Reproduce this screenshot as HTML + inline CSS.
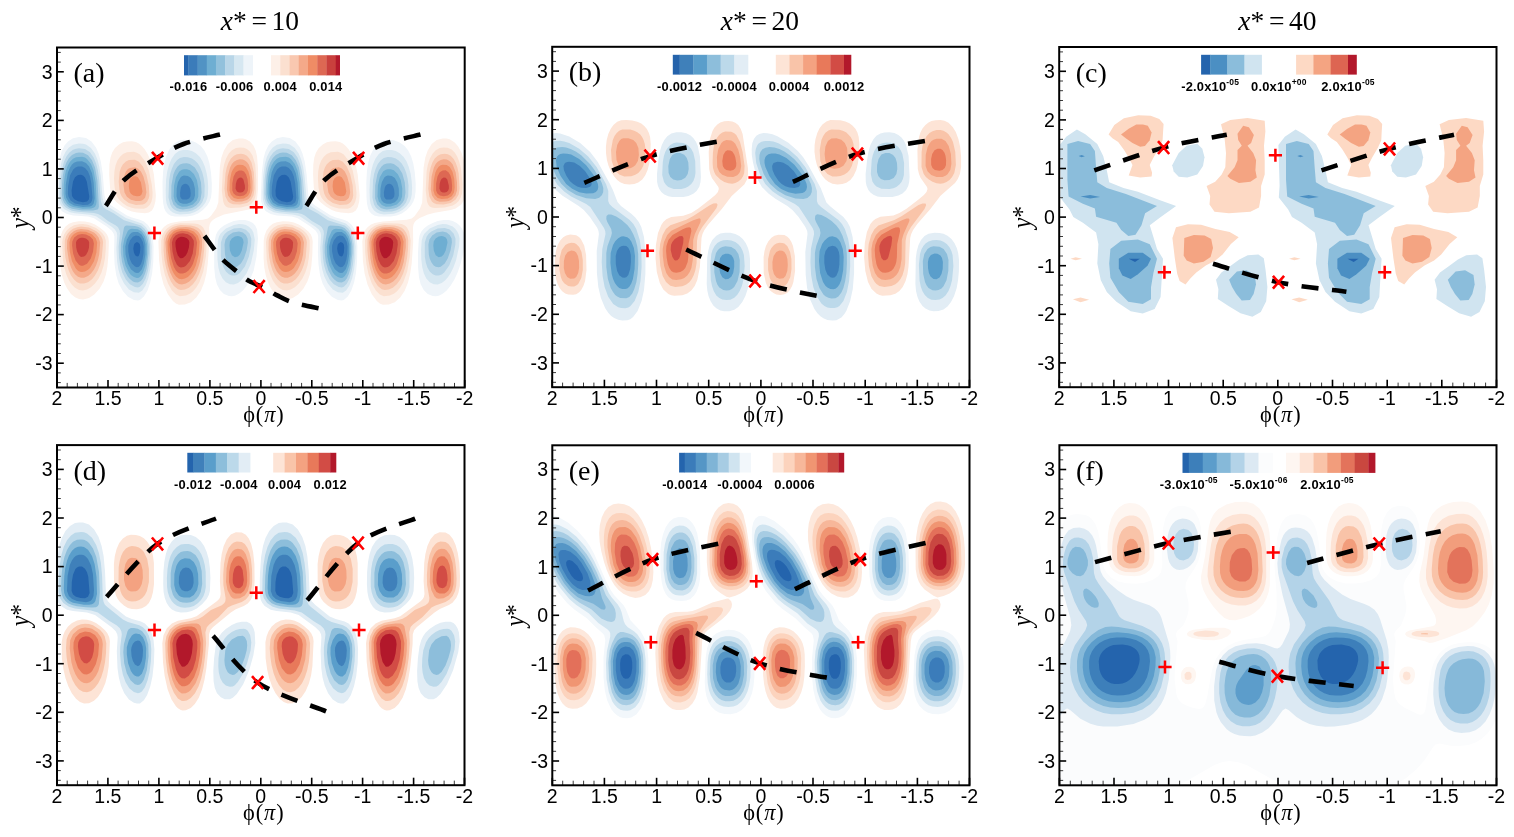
<!DOCTYPE html><html><head><meta charset="utf-8"><title>Contour panels</title><style>html,body{margin:0;padding:0;background:#fff;width:1514px;height:837px;overflow:hidden}svg{display:block}.tl{font-family:"Liberation Sans",Arial,sans-serif;font-size:19.5px;fill:#000}.cb{font-family:"Liberation Sans",Arial,sans-serif;font-size:12.9px;font-weight:bold;fill:#000;letter-spacing:0.2px}.sup{font-size:8.5px}.yl{font-family:"Liberation Serif","Times New Roman",serif;font-size:28px;fill:#000}.xl{font-family:"Liberation Serif","Times New Roman",serif;font-size:22.3px;fill:#000;letter-spacing:0.9px}.pl{font-family:"Liberation Serif","Times New Roman",serif;font-size:28px;fill:#000}.tt{font-family:"Liberation Serif","Times New Roman",serif;font-size:27.5px;fill:#000;word-spacing:-2.2px}</style></head><body>
<svg width="1514" height="837" viewBox="0 0 1514 837">
<defs>
<clipPath id="cpa"><rect x="57.0" y="47.5" width="407.7" height="340.0"/></clipPath>
<clipPath id="cpb"><rect x="552.2" y="46.8" width="417.3" height="340.4"/></clipPath>
<clipPath id="cpc"><rect x="1059.2" y="47.0" width="437.3" height="340.2"/></clipPath>
<clipPath id="cpd"><rect x="57.0" y="445.1" width="407.5" height="340.1"/></clipPath>
<clipPath id="cpe"><rect x="552.3" y="445.3" width="417.2" height="340.0"/></clipPath>
<clipPath id="cpf"><rect x="1059.4" y="445.2" width="437.1" height="340.1"/></clipPath>
</defs>
<text x="259.9" y="30.3" text-anchor="middle" class="tt"><tspan font-style="italic">x</tspan>* = 10</text>
<text x="759.9" y="30.3" text-anchor="middle" class="tt"><tspan font-style="italic">x</tspan>* = 20</text>
<text x="1277.4" y="30.3" text-anchor="middle" class="tt"><tspan font-style="italic">x</tspan>* = 40</text>
<g clip-path="url(#cpa)">
<path fill="#eef4f9" fill-rule="evenodd" d="M139.9 299.9 137.9 300.4 133.9 299.9 127.9 296.7 123.0 291.3 118.7 283.5 116.3 275.5 114.6 264.5 114.1 252.5 114.4 236.5 113.6 233.5 111.6 230.5 106.7 226.5 94.0 218.3 88.0 216.6 73.0 215.4 67.0 214.1 62.0 211.3 58.6 206.5 57.3 201.5 57.1 195.5 57.9 172.5 59.7 158.5 61.6 151.5 64.5 145.5 68.0 141.4 73.0 138.3 79.0 137.1 86.0 138.0 91.5 141.5 96.0 147.5 98.6 153.5 100.8 161.5 102.7 173.5 104.5 195.5 105.6 199.5 107.5 202.5 111.3 205.5 126.9 215.6 131.9 217.6 139.9 219.7 143.9 221.5 147.9 224.9 150.8 229.5 152.7 236.5 153.6 246.5 153.3 261.5 152.1 273.5 150.2 282.5 147.5 290.5 143.9 296.6 139.9 299.9ZM343.8 299.9 341.8 300.4 337.8 299.9 331.8 296.7 326.8 291.3 322.6 283.5 320.1 275.5 318.5 264.5 317.9 252.5 318.2 236.5 317.5 233.5 315.5 230.5 310.5 226.5 297.8 218.3 291.8 216.6 276.8 215.4 270.8 214.1 265.8 211.3 262.5 206.5 261.2 201.5 260.9 195.5 261.8 172.5 263.5 158.5 265.4 151.5 268.4 145.5 271.8 141.4 276.8 138.3 282.8 137.1 289.8 138.0 295.4 141.5 299.9 147.5 302.5 153.5 304.7 161.5 306.5 173.5 308.4 195.5 309.5 199.5 311.4 202.5 315.1 205.5 330.8 215.6 335.8 217.6 343.8 219.7 347.8 221.5 351.8 224.9 354.6 229.5 356.5 236.5 357.4 246.5 357.1 261.5 355.9 273.5 354.1 282.5 351.3 290.5 347.8 296.6 343.8 299.9ZM186.9 216.6 174.9 216.6 170.9 215.7 167.9 214.1 165.7 211.5 164.3 208.5 163.2 203.5 162.7 197.5 162.5 182.5 163.1 171.5 164.4 162.5 166.5 155.5 169.9 148.6 173.9 143.8 178.9 140.8 183.9 139.8 189.9 140.2 195.9 142.4 200.9 146.1 204.4 150.5 207.4 156.5 209.5 163.5 211.0 172.5 211.8 183.5 211.7 191.5 211.0 197.5 209.6 201.5 207.2 205.5 202.9 210.1 198.1 213.5 192.9 215.5 186.9 216.6ZM390.8 216.6 378.8 216.6 374.8 215.7 371.8 214.1 369.5 211.5 368.1 208.5 367.0 203.5 366.5 197.5 366.3 182.5 366.9 171.5 368.3 162.5 370.3 155.5 373.8 148.6 377.8 143.8 382.8 140.8 387.8 139.8 393.8 140.2 399.7 142.4 404.7 146.1 408.2 150.5 411.2 156.5 413.3 163.5 414.8 172.5 415.7 183.5 415.6 191.5 414.8 197.5 413.4 201.5 411.0 205.5 406.7 210.1 401.9 213.5 396.8 215.5 390.8 216.6ZM234.9 295.7 231.9 296.2 228.9 296.0 223.9 293.9 219.9 290.1 216.9 284.3 215.2 277.5 214.2 267.5 214.2 252.5 215.0 239.5 215.9 235.1 217.6 231.5 220.1 228.5 223.9 225.6 228.9 222.9 233.9 221.0 239.9 219.9 244.9 220.0 248.9 221.0 252.9 223.1 255.2 225.5 257.1 229.5 258.0 238.5 256.5 256.5 253.7 270.5 249.3 281.5 246.2 286.5 242.9 290.5 238.9 293.8 234.9 295.7ZM438.7 295.7 435.7 296.2 432.7 296.0 427.7 293.9 423.7 290.1 420.7 284.3 419.0 277.5 418.1 267.5 418.0 252.5 418.8 239.5 419.7 235.1 421.4 231.5 423.9 228.5 427.7 225.6 432.7 222.9 437.7 221.0 443.7 219.9 448.7 220.0 452.7 221.0 456.7 223.0 459.6 225.5 461.9 228.5 463.7 232.5 464.6 236.5 464.3 246.5 462.5 256.5 460.4 264.5 457.6 272.5 454.4 279.5 450.7 285.6 446.7 290.5 442.7 293.8 438.7 295.7Z"/>
<path fill="#d6e7f1" fill-rule="evenodd" d="M138.9 292.7 133.9 292.3 128.9 289.5 124.0 283.6 120.5 276.5 118.4 269.5 117.1 261.5 116.4 248.5 117.2 235.5 116.7 232.5 114.9 229.5 112.0 226.9 96.0 216.3 90.0 214.7 75.0 213.3 70.0 212.3 64.0 209.1 60.5 204.5 59.0 199.5 58.7 193.5 59.3 176.5 61.0 164.1 63.0 157.0 65.7 151.5 69.0 147.5 73.0 144.8 79.0 143.5 83.0 143.7 86.0 144.5 91.0 148.0 94.9 153.5 97.4 159.5 99.3 166.5 100.8 176.5 102.5 197.5 103.5 201.5 105.4 204.5 107.8 206.5 125.9 218.1 142.0 223.5 145.9 226.9 148.8 231.5 150.7 237.5 151.7 246.5 151.4 258.5 150.2 269.5 148.2 278.5 145.6 285.5 142.3 290.5 138.9 292.7ZM342.8 292.7 337.8 292.3 332.8 289.5 327.8 283.6 324.3 276.5 322.3 269.5 320.9 261.5 320.2 248.5 321.1 235.5 320.5 232.5 318.8 229.5 315.8 226.9 299.8 216.3 293.8 214.7 278.8 213.3 273.8 212.3 267.8 209.1 264.3 204.5 262.9 199.5 262.6 193.5 263.2 176.5 264.8 164.1 266.8 157.0 269.6 151.5 272.8 147.5 276.8 144.8 282.8 143.5 286.8 143.7 289.8 144.5 294.8 148.0 298.7 153.5 301.2 159.5 303.1 166.5 304.6 176.5 306.4 197.5 307.4 201.5 309.2 204.5 311.6 206.5 329.8 218.1 345.8 223.5 349.8 226.9 352.7 231.5 354.5 237.5 355.6 246.5 355.3 258.5 354.1 269.5 352.1 278.5 349.4 285.5 346.1 290.5 342.8 292.7ZM189.9 213.7 179.9 214.4 175.9 213.8 172.8 212.5 170.3 210.5 168.1 207.5 166.6 203.5 165.9 199.5 165.7 189.5 166.1 179.5 167.2 171.5 169.1 164.5 171.7 158.5 174.9 154.1 178.9 151.1 182.9 149.9 187.9 150.0 191.9 151.0 195.9 153.2 199.9 157.1 202.7 161.5 204.9 166.7 206.7 173.5 207.8 180.5 208.2 187.5 207.9 194.5 207.2 198.5 205.5 202.5 202.5 206.5 198.9 209.8 194.9 212.1 189.9 213.7ZM393.8 213.7 383.8 214.4 379.8 213.8 376.7 212.5 374.1 210.5 372.0 207.5 370.5 203.5 369.8 199.5 369.5 189.5 370.0 179.5 371.1 171.5 372.9 164.5 375.5 158.5 378.8 154.1 382.8 151.1 386.8 149.9 391.8 150.0 395.8 151.0 399.7 153.2 403.7 157.1 406.6 161.5 408.7 166.7 410.6 173.5 411.6 180.5 412.1 187.5 411.8 194.5 411.0 198.5 409.3 202.5 406.4 206.5 402.7 209.8 398.7 212.1 393.8 213.7ZM233.9 284.5 229.9 284.2 225.9 282.2 222.5 278.5 220.0 273.5 218.4 267.5 217.5 259.5 217.3 249.5 217.9 240.6 219.0 236.5 220.6 233.5 225.9 228.5 233.9 224.9 238.9 224.1 242.9 224.3 245.9 225.1 248.9 226.7 251.8 229.5 253.4 232.5 254.8 239.5 253.8 250.5 250.9 263.4 246.5 273.5 240.9 280.8 237.9 283.1 233.9 284.5ZM437.7 284.5 433.7 284.2 429.7 282.2 426.3 278.5 423.9 273.5 422.3 267.5 421.3 259.5 421.1 249.5 421.7 240.6 422.9 236.5 424.5 233.5 429.7 228.5 437.7 224.9 442.7 224.1 446.7 224.3 452.7 226.6 455.0 228.5 457.3 231.5 458.7 234.5 459.6 238.5 459.1 246.5 456.0 260.5 453.4 267.5 450.7 272.9 447.7 277.5 444.7 280.8 441.7 283.1 437.7 284.5Z"/>
<path fill="#b9d6e8" fill-rule="evenodd" d="M139.9 286.8 137.9 287.4 134.9 287.1 129.9 284.3 125.8 279.5 122.3 272.5 120.3 265.5 119.0 257.5 118.6 246.5 120.0 233.5 119.6 230.5 118.0 227.3 115.9 225.5 108.0 221.0 101.0 215.6 98.0 214.0 94.0 213.0 78.0 211.8 72.0 210.7 66.0 207.8 63.7 205.5 62.0 202.8 60.6 198.5 60.3 193.5 60.7 179.5 62.2 168.5 64.0 161.8 66.4 156.5 69.4 152.5 73.0 149.8 76.0 148.7 79.0 148.2 85.0 149.0 90.0 152.3 93.6 157.5 96.1 163.5 97.9 170.5 99.2 179.5 100.8 200.5 102.0 205.0 103.5 207.5 106.0 209.3 114.0 213.4 124.0 220.3 140.9 225.6 144.4 228.5 147.1 232.5 148.9 237.5 150.0 244.5 150.0 253.5 149.2 263.5 147.8 271.5 145.7 278.5 142.9 283.8 139.9 286.8ZM343.8 286.8 341.8 287.4 338.8 287.1 333.8 284.3 329.6 279.5 326.2 272.5 324.1 265.5 322.9 257.5 322.5 246.5 323.9 233.5 323.5 230.5 321.8 227.3 319.7 225.5 311.8 221.0 304.8 215.6 301.8 214.0 297.8 213.0 281.8 211.8 275.8 210.7 269.8 207.8 267.5 205.5 265.8 202.8 264.5 198.5 264.1 193.5 264.6 179.5 266.0 168.5 267.8 161.8 270.3 156.5 273.3 152.5 276.8 149.8 279.8 148.7 282.8 148.2 288.8 149.0 293.8 152.3 297.5 157.5 299.9 163.5 301.7 170.5 303.0 179.5 304.7 200.5 305.8 205.0 307.4 207.5 309.8 209.3 317.8 213.4 327.8 220.3 344.8 225.6 348.3 228.5 350.9 232.5 352.7 237.5 353.9 244.5 353.9 253.5 353.1 263.5 351.6 271.5 349.5 278.5 346.8 283.8 343.8 286.8ZM187.9 211.6 179.9 211.8 176.9 211.0 174.1 209.5 171.9 207.4 170.2 204.5 168.5 197.5 169.1 180.5 170.3 173.5 171.9 168.4 173.9 164.1 176.9 160.2 179.9 158.0 183.9 157.0 187.9 157.2 191.9 158.5 194.9 160.4 197.9 163.6 200.3 167.5 202.3 172.5 203.8 178.5 204.7 185.5 204.4 196.5 202.1 202.5 199.8 205.5 196.2 208.5 192.1 210.5 187.9 211.6ZM391.8 211.6 383.8 211.8 380.8 211.0 378.0 209.5 375.8 207.4 374.0 204.5 372.4 197.5 373.0 180.5 374.2 173.5 375.8 168.4 377.8 164.1 380.8 160.2 383.8 158.0 387.8 157.0 391.8 157.2 395.8 158.5 398.7 160.4 401.7 163.6 404.1 167.5 406.1 172.5 407.6 178.5 408.5 185.5 408.2 196.5 406.0 202.5 403.7 205.5 400.1 208.5 396.0 210.5 391.8 211.6ZM234.9 275.6 231.9 275.5 228.9 274.3 225.9 271.5 223.6 267.5 221.9 262.5 220.9 256.5 220.9 242.5 222.9 236.5 224.9 233.8 227.6 231.5 233.9 228.5 240.9 227.9 245.9 229.7 249.6 233.5 251.3 238.5 251.1 245.5 248.9 256.5 244.9 266.4 239.9 273.0 236.9 275.0 234.9 275.6ZM438.7 275.6 435.7 275.5 432.7 274.3 429.7 271.5 427.4 267.5 425.8 262.5 424.8 256.5 424.8 242.5 426.7 236.5 428.7 233.8 431.4 231.5 437.7 228.5 444.7 227.9 449.7 229.6 453.6 233.5 455.5 238.5 455.4 244.5 453.2 255.5 449.2 265.5 444.2 272.5 441.7 274.5 438.7 275.6Z"/>
<path fill="#92c1dc" fill-rule="evenodd" d="M93.0 210.6 82.0 210.4 72.0 208.7 69.0 207.4 66.0 205.1 64.0 202.5 62.7 199.5 61.9 194.5 62.1 183.5 63.0 174.8 64.5 167.5 66.4 162.5 69.0 158.0 72.0 155.0 76.0 153.0 79.0 152.5 83.0 152.7 88.0 155.2 92.0 160.2 95.0 167.5 97.4 180.5 98.9 206.5 98.4 208.5 97.6 209.5 93.0 210.6ZM296.8 210.6 285.8 210.4 275.8 208.7 272.8 207.4 269.8 205.1 267.8 202.5 266.5 199.5 265.7 194.5 266.0 183.5 266.8 174.8 268.4 167.5 270.2 162.5 272.8 158.0 275.8 155.0 279.8 153.0 282.8 152.5 286.8 152.7 291.8 155.2 295.8 160.2 298.9 167.5 301.3 180.5 302.7 206.5 302.3 208.5 301.4 209.5 296.8 210.6ZM189.9 208.6 182.9 209.5 179.9 209.1 176.9 207.9 173.4 204.5 171.3 198.5 171.4 185.5 173.4 174.5 175.0 170.5 177.6 166.5 179.9 164.5 182.9 163.4 186.9 163.3 189.9 164.0 194.8 167.5 198.5 173.5 201.0 182.5 201.6 192.5 200.5 199.5 198.9 202.5 196.1 205.5 192.9 207.5 189.9 208.6ZM393.8 208.6 386.8 209.5 383.8 209.1 380.8 207.9 377.3 204.5 375.1 198.5 375.2 185.5 377.3 174.5 378.8 170.5 381.5 166.5 383.8 164.5 386.8 163.4 390.8 163.3 393.8 164.0 398.6 167.5 402.3 173.5 404.8 182.5 405.5 192.5 404.4 199.5 402.7 202.5 399.9 205.5 396.8 207.5 393.8 208.6ZM137.9 282.6 134.9 282.2 132.9 281.4 129.9 279.1 127.9 276.7 124.5 270.5 122.0 261.7 120.8 252.5 120.9 244.5 124.0 227.5 125.0 226.1 126.5 225.5 134.9 226.1 137.9 226.7 140.9 228.2 144.9 232.5 146.8 236.5 147.9 240.5 148.6 246.5 148.5 253.5 146.6 268.5 144.9 274.1 142.9 278.4 140.9 281.0 137.9 282.6ZM341.8 282.6 338.8 282.2 336.8 281.4 333.8 279.1 331.8 276.7 328.4 270.5 325.8 261.7 324.7 252.5 324.8 244.5 327.9 227.5 328.8 226.1 330.4 225.5 338.8 226.1 341.8 226.7 344.8 228.2 348.8 232.5 350.7 236.5 351.8 240.5 352.5 246.5 352.4 253.5 350.4 268.5 348.8 274.1 346.8 278.4 344.8 281.0 341.8 282.6ZM236.9 266.8 234.9 267.3 231.9 266.7 229.9 265.4 227.6 262.5 225.9 258.5 225.0 254.5 224.5 244.5 225.5 239.5 228.4 235.5 232.9 232.6 238.9 231.5 242.9 232.5 245.9 235.0 247.6 238.5 247.9 242.5 246.6 250.5 243.9 258.4 240.9 263.4 236.9 266.8ZM440.7 266.8 438.7 267.3 435.7 266.7 433.7 265.4 431.5 262.5 429.7 258.5 428.8 254.5 428.4 244.5 429.4 239.5 432.2 235.5 436.7 232.6 442.7 231.5 446.7 232.5 449.7 234.9 451.6 238.5 451.9 242.5 450.5 250.5 447.7 258.5 444.7 263.4 440.7 266.8Z"/>
<path fill="#6eaed2" fill-rule="evenodd" d="M91.0 208.6 83.0 208.8 73.0 207.1 70.0 205.7 67.2 203.5 64.3 198.5 63.6 193.5 63.8 184.5 64.7 176.5 65.9 170.5 67.8 165.5 70.0 161.8 73.0 158.7 76.0 157.2 82.0 156.7 85.0 157.6 87.0 158.9 91.0 163.9 93.6 170.5 95.7 182.5 96.6 201.5 96.1 204.5 95.2 206.5 94.0 207.6 91.0 208.6ZM294.8 208.6 286.8 208.8 276.8 207.1 273.8 205.7 271.0 203.5 268.2 198.5 267.4 193.5 267.7 184.5 268.5 176.5 269.8 170.5 271.6 165.5 273.8 161.8 276.8 158.7 279.8 157.2 285.8 156.7 288.8 157.6 290.8 158.9 294.8 163.9 297.5 170.5 299.6 182.5 300.4 201.5 300.0 204.5 299.0 206.5 297.8 207.6 294.8 208.6ZM186.9 206.6 181.9 206.7 177.9 205.1 174.9 201.5 173.7 196.5 174.1 185.5 175.9 177.3 179.3 171.5 181.9 169.7 183.9 169.2 186.9 169.3 189.9 170.3 193.9 173.9 196.9 180.1 198.4 188.5 198.3 196.5 196.8 200.5 192.9 204.5 186.9 206.6ZM390.8 206.6 385.8 206.7 381.8 205.1 378.8 201.5 377.5 196.5 377.9 185.5 379.8 177.3 383.1 171.5 385.8 169.7 387.8 169.2 390.8 169.3 393.8 170.3 397.7 173.9 400.7 180.1 402.3 188.5 402.1 196.5 400.7 200.5 396.8 204.5 390.8 206.6ZM138.9 277.7 136.9 278.0 133.9 277.1 130.9 274.9 129.0 272.5 125.5 265.5 123.4 256.5 122.9 246.5 124.5 238.5 127.9 230.7 129.9 229.2 131.9 228.7 137.9 229.3 141.9 231.8 145.0 236.5 146.9 243.5 147.0 254.5 145.4 265.5 142.9 273.0 140.9 276.1 138.9 277.7ZM342.8 277.7 340.8 278.0 337.8 277.1 334.8 274.9 332.8 272.5 329.4 265.5 327.3 256.5 326.8 246.5 328.4 238.5 331.8 230.7 333.8 229.2 335.8 228.7 341.8 229.3 345.8 231.8 348.9 236.5 350.8 243.5 350.8 254.5 349.3 265.5 346.8 273.0 344.8 276.1 342.8 277.7ZM237.9 256.5 234.9 257.3 231.9 255.2 229.9 250.5 229.5 245.5 229.9 241.5 231.8 238.5 234.9 236.6 237.9 236.1 239.9 236.4 241.9 237.6 243.1 239.5 243.6 242.5 241.8 250.5 239.9 254.4 237.9 256.5ZM441.7 256.5 438.7 257.3 435.7 255.2 433.8 250.5 433.3 245.5 433.7 241.5 435.6 238.5 438.7 236.6 441.7 236.1 443.7 236.4 445.7 237.6 447.0 239.5 447.5 242.5 445.7 250.5 443.7 254.4 441.7 256.5Z"/>
<path fill="#5193c4" fill-rule="evenodd" d="M90.0 206.6 83.0 207.1 74.0 205.4 69.0 202.4 66.1 197.5 65.5 193.5 65.8 184.5 67.9 172.5 70.0 167.5 72.0 164.6 74.0 162.8 77.0 161.4 82.0 161.2 86.0 162.9 89.1 166.5 92.0 173.2 93.7 182.5 94.7 198.5 93.7 203.5 92.1 205.5 90.0 206.6ZM293.8 206.6 286.8 207.1 277.8 205.4 272.8 202.4 270.0 197.5 269.4 193.5 269.6 184.5 271.7 172.5 273.8 167.5 275.8 164.6 277.8 162.8 280.8 161.4 285.8 161.2 289.8 162.9 292.9 166.5 295.8 173.2 297.6 182.5 298.6 198.5 297.6 203.5 296.0 205.5 293.8 206.6ZM186.9 203.7 182.9 203.8 179.9 202.7 177.8 200.5 176.5 196.5 176.7 188.5 177.9 182.2 180.5 177.5 181.9 176.2 183.9 175.5 187.9 176.0 190.9 178.1 193.5 182.5 194.9 188.5 195.0 195.5 193.9 199.2 190.9 202.2 186.9 203.7ZM390.8 203.7 386.8 203.8 383.8 202.7 381.6 200.5 380.3 196.5 380.5 188.5 381.8 182.2 384.3 177.5 385.8 176.2 387.8 175.5 391.8 176.0 394.8 178.1 397.3 182.5 398.8 188.5 398.9 195.5 397.7 199.2 394.8 202.2 390.8 203.7ZM138.9 272.7 136.9 273.1 134.9 272.5 130.9 269.3 127.8 263.5 125.6 254.5 125.3 246.5 126.9 239.5 129.9 234.2 131.9 232.6 133.9 231.9 137.9 232.1 141.5 234.5 143.9 238.6 145.4 244.5 145.4 254.5 143.9 263.5 141.9 269.2 138.9 272.7ZM342.8 272.7 340.8 273.1 338.8 272.5 334.8 269.3 331.7 263.5 329.5 254.5 329.1 246.5 330.8 239.5 333.8 234.2 335.8 232.6 337.8 231.9 341.8 232.1 345.3 234.5 347.8 238.6 349.3 244.5 349.2 254.5 347.8 263.5 345.8 269.2 342.8 272.7Z"/>
<path fill="#3b7cba" fill-rule="evenodd" d="M88.0 204.7 83.0 205.1 75.0 203.4 70.6 200.5 68.4 196.5 67.9 193.5 68.1 186.5 70.0 175.6 73.2 169.5 75.5 167.5 78.0 166.5 82.0 166.5 85.0 167.9 88.0 171.6 90.0 176.5 91.3 183.5 92.5 197.5 92.0 200.5 91.1 202.5 88.0 204.7ZM291.8 204.7 286.8 205.1 278.8 203.4 274.4 200.5 272.2 196.5 271.7 193.5 271.9 186.5 273.8 175.6 277.1 169.5 279.4 167.5 281.8 166.5 285.8 166.5 288.8 167.9 291.8 171.6 293.8 176.5 295.2 183.5 296.3 197.5 295.9 200.5 295.0 202.5 291.8 204.7ZM186.9 199.6 182.6 199.5 181.2 198.5 180.2 196.5 180.1 192.5 180.9 187.6 181.9 185.4 183.9 183.9 185.9 183.8 187.9 184.8 189.2 186.5 190.3 189.5 190.7 193.5 190.4 196.5 189.0 198.5 186.9 199.6ZM390.8 199.6 386.4 199.5 385.1 198.5 384.1 196.5 383.9 192.5 384.8 187.6 385.8 185.4 387.8 183.9 389.8 183.8 391.8 184.8 393.1 186.5 394.1 189.5 394.5 193.5 394.2 196.5 392.9 198.5 390.8 199.6ZM138.9 266.8 136.9 267.2 135.0 266.5 131.9 263.5 129.6 258.5 128.3 251.5 128.3 245.5 129.9 240.5 132.9 236.8 135.9 235.6 138.9 236.1 140.9 238.0 142.9 242.1 143.7 246.5 143.5 253.5 142.5 259.5 140.9 264.2 138.9 266.8ZM342.8 266.8 340.8 267.2 338.8 266.5 335.8 263.5 333.5 258.5 332.1 251.5 332.1 245.5 333.8 240.5 336.8 236.8 339.8 235.6 342.8 236.1 344.8 238.0 346.8 242.1 347.6 246.5 347.3 253.5 346.4 259.5 344.8 264.2 342.8 266.8Z"/>
<path fill="#2464ad" fill-rule="evenodd" d="M87.0 201.5 83.0 202.3 78.0 201.2 74.0 199.0 72.0 196.0 71.6 190.5 73.0 181.6 75.0 177.3 78.0 174.9 81.0 174.7 83.0 175.4 85.0 177.4 86.8 181.5 89.3 196.5 88.8 199.5 87.0 201.5ZM290.8 201.5 286.8 202.3 281.8 201.2 277.8 199.0 275.8 196.0 275.5 190.5 276.8 181.6 278.8 177.3 281.8 174.9 284.8 174.7 286.8 175.4 288.8 177.4 290.6 181.5 293.2 196.5 292.6 199.5 290.8 201.5ZM137.9 256.6 135.9 256.0 134.9 254.8 133.9 252.5 133.3 248.5 134.0 244.5 134.9 243.2 136.9 242.1 138.9 242.9 139.9 244.6 140.4 247.5 139.9 252.7 138.9 255.6 137.9 256.6ZM341.8 256.6 339.8 256.0 338.8 254.8 337.8 252.5 337.1 248.5 337.8 244.5 338.8 243.2 340.8 242.1 342.8 242.9 343.8 244.6 344.2 247.5 343.8 252.7 342.8 255.6 341.8 256.6Z"/>
<path fill="#fdf0e8" fill-rule="evenodd" d="M184.9 304.6 178.9 304.7 175.9 303.4 172.9 301.1 167.9 294.3 163.6 284.5 160.7 273.5 159.1 260.5 158.4 241.5 159.8 233.5 161.7 229.5 163.9 226.9 167.2 224.5 170.9 222.9 178.9 221.4 202.9 219.8 207.9 218.4 210.9 216.1 216.2 208.5 218.3 202.5 219.8 167.5 221.4 157.5 223.9 150.4 227.9 144.0 232.9 140.1 238.9 138.5 242.9 138.6 245.9 139.3 249.9 141.6 253.4 145.5 255.7 150.5 257.1 156.5 258.0 168.5 258.0 189.5 257.2 197.5 255.9 203.2 253.9 206.6 249.9 209.2 224.0 214.5 215.9 218.1 212.9 219.9 210.9 221.9 209.7 224.5 209.1 227.5 209.4 242.5 207.8 263.5 206.4 273.5 204.2 282.5 200.9 290.7 196.3 297.5 190.9 302.2 184.9 304.6ZM388.8 304.6 382.8 304.7 379.8 303.4 376.8 301.1 371.8 294.3 367.5 284.5 364.6 273.5 362.9 260.5 362.3 241.5 363.6 233.5 365.6 229.5 367.8 226.9 371.0 224.5 374.8 222.9 382.8 221.4 406.7 219.8 411.7 218.4 414.7 216.1 420.0 208.5 422.2 202.5 423.6 167.5 425.3 157.5 427.7 150.4 431.7 144.0 436.7 140.1 442.7 138.5 446.7 138.6 449.7 139.3 454.7 142.4 458.2 146.5 461.4 152.5 463.9 160.5 464.7 164.0 464.7 198.9 461.2 204.5 455.7 208.4 450.7 210.1 434.7 212.7 427.9 214.5 419.7 218.1 416.7 219.9 414.7 221.9 413.5 224.5 413.0 227.5 413.2 242.5 411.7 263.5 410.2 273.5 408.0 282.5 404.7 290.7 400.2 297.5 394.8 302.2 388.8 304.6ZM148.9 212.5 144.9 213.2 136.9 212.5 131.9 211.4 127.9 209.9 122.0 206.5 116.9 202.5 113.2 198.5 111.2 194.5 110.0 187.5 109.2 174.5 109.4 164.5 110.5 157.5 112.2 152.5 115.0 148.0 119.0 144.4 123.0 142.3 126.9 141.4 131.9 141.2 135.9 142.1 138.9 143.6 141.9 146.0 144.9 149.6 147.9 154.5 150.1 159.5 152.2 166.5 153.9 174.5 155.9 195.5 155.4 201.5 153.9 207.1 151.9 210.4 148.9 212.5ZM352.8 212.5 348.8 213.2 340.8 212.5 335.8 211.4 331.8 209.9 325.9 206.5 320.8 202.5 317.1 198.5 315.1 194.5 313.8 187.5 313.1 174.5 313.3 164.5 314.3 157.5 316.0 152.5 318.8 148.0 322.8 144.4 326.8 142.3 330.8 141.4 335.8 141.2 339.8 142.1 342.8 143.6 345.8 146.0 348.8 149.6 351.7 154.5 353.9 159.5 356.1 166.5 357.7 174.5 359.7 195.5 359.2 201.5 357.8 207.1 355.8 210.4 352.8 212.5ZM83.0 299.5 79.0 299.1 75.0 297.3 71.0 293.9 67.0 288.3 64.2 282.5 62.0 275.5 60.5 267.5 59.7 258.5 59.8 240.5 60.8 235.5 62.7 230.5 65.5 226.5 69.0 223.8 73.0 222.2 79.0 221.2 85.0 221.5 90.0 222.5 95.0 224.6 99.7 227.5 104.6 231.5 107.0 234.5 108.3 237.5 108.9 241.5 108.4 255.5 107.4 266.5 105.9 274.5 103.6 281.5 99.7 288.5 94.3 294.5 89.0 298.0 83.0 299.5ZM286.8 299.5 282.8 299.1 278.8 297.3 274.8 293.9 270.8 288.3 268.1 282.5 265.8 275.5 264.3 267.5 263.6 258.5 263.7 240.5 264.6 235.5 266.5 230.5 269.4 226.5 272.8 223.8 276.8 222.2 282.8 221.2 288.8 221.5 293.8 222.5 298.8 224.6 303.5 227.5 308.4 231.5 310.8 234.5 312.1 237.5 312.7 241.5 312.3 255.5 311.3 266.5 309.8 274.5 307.4 281.5 303.5 288.5 298.2 294.5 292.8 298.0 286.8 299.5Z"/>
<path fill="#fbe0d0" fill-rule="evenodd" d="M240.9 207.5 230.9 208.0 227.9 207.4 225.9 206.4 224.3 204.5 223.2 201.5 221.8 190.5 222.8 171.5 224.1 164.5 226.1 158.5 228.8 153.5 231.9 150.2 235.9 148.0 239.9 147.4 243.9 147.7 246.9 149.0 249.9 151.5 252.5 155.5 255.2 164.5 256.3 179.5 256.1 192.5 255.1 197.5 253.9 200.6 251.9 203.3 248.9 205.4 240.9 207.5ZM444.7 207.5 434.7 208.0 431.7 207.4 429.7 206.4 428.2 204.5 427.0 201.5 425.7 190.5 426.6 171.5 427.9 164.5 429.9 158.5 432.7 153.5 435.7 150.2 439.7 148.0 443.7 147.4 447.7 147.7 451.7 149.6 454.7 152.6 457.2 156.5 459.2 161.5 461.0 168.5 462.5 184.5 462.0 193.5 460.7 197.5 458.7 200.9 456.1 203.5 452.7 205.5 444.7 207.5ZM143.9 208.7 134.9 208.6 130.9 207.6 126.9 205.9 123.2 203.5 119.9 200.5 117.6 197.5 115.7 193.5 114.6 187.5 114.0 178.5 114.4 171.5 115.5 165.5 117.4 160.5 120.0 156.7 123.0 154.0 126.9 152.2 133.9 151.8 136.9 152.7 139.9 154.6 144.9 160.9 148.9 170.5 151.8 184.5 152.6 192.5 152.4 197.5 151.5 201.5 149.9 204.7 147.0 207.5 143.9 208.7ZM347.8 208.7 338.8 208.6 334.8 207.6 330.8 205.9 327.0 203.5 323.7 200.5 321.4 197.5 319.6 193.5 318.5 187.5 317.9 178.5 318.2 171.5 319.3 165.5 321.2 160.5 323.8 156.7 326.8 154.0 330.8 152.2 337.8 151.8 340.8 152.7 343.8 154.6 348.8 160.9 352.7 170.5 355.6 184.5 356.5 192.5 356.3 197.5 355.3 201.5 353.8 204.7 350.8 207.5 347.8 208.7ZM185.9 295.6 179.9 296.2 175.9 294.5 171.9 290.4 168.0 283.5 164.8 274.5 162.6 264.5 161.3 252.5 161.2 240.5 162.3 235.5 164.4 231.5 166.9 228.5 170.9 225.7 174.9 224.2 179.9 223.3 193.9 223.4 197.9 224.1 201.0 225.5 203.2 227.5 205.2 231.5 206.9 240.5 205.9 256.5 203.3 271.5 199.3 282.5 196.3 287.5 192.9 291.4 189.9 293.7 185.9 295.6ZM389.8 295.6 383.8 296.2 379.8 294.5 375.8 290.4 371.8 283.5 368.6 274.5 366.5 264.5 365.2 252.5 365.0 240.5 366.2 235.5 368.2 231.5 370.8 228.5 374.8 225.7 378.8 224.2 383.8 223.3 397.7 223.4 401.7 224.1 404.9 225.5 407.0 227.5 409.1 231.5 410.7 240.5 409.8 256.5 407.2 271.5 403.2 282.5 400.2 287.5 396.8 291.4 393.8 293.7 389.8 295.6ZM87.0 289.5 83.0 290.5 79.0 290.0 75.0 287.8 72.0 284.8 69.0 280.4 66.3 274.5 64.3 267.5 62.9 259.5 62.2 242.5 62.8 238.5 64.1 234.5 66.6 230.5 70.0 227.4 74.0 225.3 79.0 224.2 83.0 224.0 88.0 224.8 96.0 228.0 99.5 230.5 102.6 233.5 104.6 236.5 105.8 240.5 105.8 248.5 105.0 258.2 103.6 265.5 101.5 272.5 98.6 278.5 95.0 283.6 91.0 287.3 87.0 289.5ZM290.8 289.5 286.8 290.5 282.8 290.0 278.8 287.8 275.8 284.8 272.8 280.4 270.2 274.5 268.1 267.5 266.7 259.5 266.0 242.5 266.6 238.5 268.0 234.5 270.5 230.5 273.8 227.4 277.8 225.3 282.8 224.2 286.8 224.0 291.8 224.8 299.8 228.0 303.4 230.5 306.5 233.5 308.4 236.5 309.7 240.5 309.7 248.5 308.8 258.2 307.5 265.5 305.3 272.5 302.4 278.5 298.8 283.6 294.8 287.3 290.8 289.5Z"/>
<path fill="#f9c8b0" fill-rule="evenodd" d="M239.9 204.6 232.9 204.3 229.9 203.1 228.0 201.5 225.4 196.5 224.4 188.5 225.5 173.5 226.7 167.5 228.6 162.5 230.9 158.6 233.9 155.7 236.9 154.2 240.9 153.8 243.9 154.2 246.9 155.8 249.3 158.5 251.5 162.5 253.9 172.5 254.6 188.5 253.5 195.5 250.9 200.3 246.9 203.0 239.9 204.6ZM443.7 204.6 436.7 204.3 433.7 203.1 431.9 201.5 429.3 196.5 428.3 188.5 429.3 173.5 430.6 167.5 432.4 162.5 434.7 158.6 437.7 155.7 440.7 154.2 444.7 153.8 447.7 154.2 450.7 155.8 453.7 159.1 455.7 162.7 457.4 167.5 458.7 173.5 459.6 188.5 458.7 194.5 455.7 199.6 450.7 203.1 443.7 204.6ZM142.9 204.6 135.9 205.0 128.9 203.0 124.0 199.4 121.7 196.5 120.3 193.5 119.4 189.5 118.7 181.5 119.7 171.5 121.1 167.5 123.0 164.3 125.9 161.4 128.9 160.1 134.9 159.8 138.9 161.7 142.9 166.5 146.4 174.5 148.8 185.5 149.4 195.5 148.7 198.5 147.2 201.5 145.2 203.5 142.9 204.6ZM346.8 204.6 339.8 205.0 332.8 203.0 327.8 199.4 325.6 196.5 324.2 193.5 323.3 189.5 322.6 181.5 323.5 171.5 324.9 167.5 326.8 164.3 329.8 161.4 332.8 160.1 338.8 159.8 342.8 161.7 346.8 166.5 350.3 174.5 352.7 185.5 353.2 195.5 352.6 198.5 351.1 201.5 349.0 203.5 346.8 204.6ZM184.9 289.5 180.9 290.0 177.9 289.2 173.9 285.9 170.9 281.5 168.3 275.5 166.2 268.5 164.4 259.5 163.6 250.5 163.7 239.5 164.9 235.5 166.6 232.5 169.3 229.5 172.9 227.1 176.9 225.7 180.9 225.1 190.9 225.4 194.9 226.4 197.9 227.8 200.0 229.5 202.2 232.5 203.8 236.5 204.5 240.5 204.2 249.5 203.2 258.5 201.6 266.5 199.3 273.5 196.4 279.5 192.9 284.3 188.9 287.7 184.9 289.5ZM388.8 289.5 384.8 290.0 381.8 289.2 377.8 285.9 374.8 281.5 372.1 275.5 370.0 268.5 368.3 259.5 367.4 250.5 367.5 239.5 368.8 235.5 370.5 232.5 373.2 229.5 376.8 227.1 380.8 225.7 384.8 225.1 394.8 225.4 398.7 226.4 401.7 227.8 403.8 229.5 406.0 232.5 407.6 236.5 408.3 240.5 408.0 249.5 407.0 258.5 405.4 266.5 403.2 273.5 400.3 279.5 396.8 284.3 392.8 287.7 388.8 289.5ZM84.0 283.6 80.0 283.5 77.0 282.2 74.0 279.6 71.0 275.4 68.7 270.5 66.8 264.5 65.4 257.5 64.7 249.5 64.8 240.5 66.0 236.5 67.7 233.5 70.0 230.9 73.0 228.8 77.0 227.2 81.0 226.6 89.0 227.6 96.0 231.0 99.0 233.5 101.3 236.5 102.6 239.5 103.1 242.5 101.8 257.5 100.1 264.5 98.0 270.2 95.0 275.5 92.0 279.2 88.0 282.2 84.0 283.6ZM287.8 283.6 283.8 283.5 280.8 282.2 277.8 279.6 274.8 275.4 272.5 270.5 270.6 264.5 269.2 257.5 268.5 249.5 268.7 240.5 269.8 236.5 271.5 233.5 273.8 230.9 276.8 228.8 280.8 227.2 284.8 226.6 292.8 227.6 299.8 231.0 302.8 233.5 305.1 236.5 306.4 239.5 306.9 242.5 305.7 257.5 304.0 264.5 301.8 270.2 298.8 275.5 295.8 279.2 291.8 282.2 287.8 283.6Z"/>
<path fill="#f4a989" fill-rule="evenodd" d="M241.9 201.6 235.9 201.7 232.9 200.8 230.9 199.5 228.1 195.5 226.9 189.5 227.7 176.5 230.1 167.5 231.9 164.1 233.9 161.8 236.9 159.9 239.9 159.3 242.9 159.5 244.9 160.4 246.9 162.0 248.9 164.7 251.3 171.5 252.6 181.5 252.5 190.5 250.9 196.0 249.0 198.5 246.9 200.1 241.9 201.6ZM445.7 201.6 439.7 201.7 436.7 200.8 434.7 199.5 432.0 195.5 430.8 189.5 431.6 176.5 433.9 167.5 435.7 164.1 437.7 161.8 440.7 159.9 443.7 159.3 446.7 159.5 448.7 160.4 450.7 161.9 452.7 164.6 455.7 172.5 457.0 182.5 457.0 190.5 455.4 195.5 451.7 199.5 448.7 201.0 445.7 201.6ZM141.9 200.5 139.9 201.0 135.9 201.0 130.9 199.7 126.9 196.7 124.5 192.5 123.4 184.5 123.9 176.5 125.9 171.4 127.9 169.1 129.9 167.9 134.9 167.2 137.9 168.4 140.9 171.6 143.4 176.5 145.5 184.5 146.4 192.5 145.2 197.5 143.9 199.1 141.9 200.5ZM345.8 200.5 343.8 201.0 339.8 201.0 334.8 199.7 330.8 196.7 328.4 192.5 327.2 184.5 327.8 176.5 329.8 171.4 331.8 169.1 333.8 167.9 338.8 167.2 341.8 168.4 344.8 171.6 347.2 176.5 349.3 184.5 350.2 192.5 349.0 197.5 347.8 199.1 345.8 200.5ZM181.9 284.5 178.9 284.1 175.9 282.1 172.9 278.3 170.1 272.5 167.9 265.5 166.6 258.5 165.4 242.5 166.1 238.5 167.3 235.5 169.3 232.5 171.9 230.1 177.9 227.4 185.9 226.9 190.1 227.5 193.9 228.7 196.8 230.5 198.9 232.6 200.7 235.5 201.9 239.5 202.0 247.5 199.9 261.9 197.9 268.5 195.7 273.5 192.9 277.9 189.3 281.5 185.9 283.6 181.9 284.5ZM385.8 284.5 382.8 284.1 379.8 282.1 376.8 278.3 374.0 272.5 371.8 265.5 370.4 258.5 369.3 242.5 369.9 238.5 371.1 235.5 373.2 232.5 375.8 230.1 381.8 227.4 389.8 226.9 393.9 227.5 397.7 228.7 400.6 230.5 402.7 232.6 404.5 235.5 405.8 239.5 405.8 247.5 403.7 261.9 401.8 268.5 399.5 273.5 396.8 277.9 393.2 281.5 389.8 283.6 385.8 284.5ZM84.0 277.7 81.0 277.8 78.0 276.7 75.3 274.5 73.0 271.4 71.0 267.5 69.0 261.5 67.0 248.5 67.2 240.5 69.3 235.5 71.0 233.4 74.0 231.1 77.0 229.7 81.0 229.0 88.0 229.8 94.0 232.6 96.3 234.5 98.6 237.5 100.2 242.5 99.2 254.5 97.8 260.5 96.0 265.6 94.0 269.5 91.0 273.5 88.0 276.0 84.0 277.7ZM287.8 277.7 284.8 277.8 281.8 276.7 279.2 274.5 276.8 271.4 274.8 267.5 272.8 261.5 270.9 248.5 271.0 240.5 273.1 235.5 274.8 233.4 277.8 231.1 280.8 229.7 284.8 229.0 291.8 229.8 297.8 232.6 300.2 234.5 302.5 237.5 304.0 242.5 303.1 254.5 301.7 260.5 299.8 265.6 297.8 269.5 294.8 273.5 291.8 276.0 287.8 277.7Z"/>
<path fill="#ef8c65" fill-rule="evenodd" d="M243.9 198.5 237.9 199.1 233.9 197.9 230.9 194.8 229.5 190.5 229.8 180.5 231.5 172.5 232.9 169.5 234.9 166.8 236.9 165.3 238.9 164.7 242.9 164.9 245.9 167.0 248.4 171.5 250.0 177.5 250.6 187.5 249.9 192.5 247.9 196.1 243.9 198.5ZM447.7 198.5 441.7 199.1 437.7 197.9 434.7 194.8 433.4 190.5 433.7 180.5 435.4 172.5 436.7 169.5 438.7 166.8 440.7 165.3 442.7 164.7 446.7 164.9 449.7 166.9 452.4 171.5 454.2 178.5 454.7 187.5 454.0 192.5 451.7 196.2 447.7 198.5ZM139.9 195.9 136.9 196.3 133.3 195.5 130.9 193.7 129.6 191.5 128.8 186.5 129.2 181.5 130.4 178.5 132.9 176.4 135.9 176.2 137.9 177.2 140.9 182.3 142.5 191.5 141.5 194.5 139.9 195.9ZM343.8 195.9 340.8 196.3 337.2 195.5 334.8 193.7 333.4 191.5 332.6 186.5 333.0 181.5 334.3 178.5 336.8 176.4 339.8 176.2 341.8 177.2 344.8 182.3 346.3 191.5 345.4 194.5 343.8 195.9ZM184.9 278.6 181.9 279.2 178.9 278.7 176.0 276.5 173.9 273.7 171.8 269.5 169.9 263.8 167.7 250.5 167.5 241.5 169.6 235.5 173.9 231.1 176.9 229.7 180.9 228.8 187.9 229.2 193.9 231.6 197.9 235.8 199.7 241.5 198.7 254.5 195.8 265.5 193.9 269.7 190.9 274.1 187.9 276.9 184.9 278.6ZM388.8 278.6 385.8 279.2 382.8 278.7 379.8 276.5 377.8 273.7 375.7 269.5 373.8 263.8 371.6 250.5 371.4 241.5 373.5 235.5 377.8 231.1 380.8 229.7 384.8 228.8 391.8 229.2 397.7 231.6 401.7 235.8 403.6 241.5 402.6 254.5 399.7 265.5 397.7 269.7 394.8 274.1 391.8 276.9 388.8 278.6ZM85.0 271.6 82.0 272.1 80.0 271.8 78.0 270.7 75.8 268.5 72.0 261.3 69.8 251.5 69.4 242.5 70.4 238.5 72.0 235.9 74.0 234.0 77.0 232.3 80.0 231.5 86.0 231.8 92.0 234.3 95.9 238.5 97.2 242.5 96.4 252.5 94.0 261.2 90.0 267.9 88.0 269.8 85.0 271.6ZM288.8 271.6 285.8 272.1 283.8 271.8 281.8 270.7 279.6 268.5 275.8 261.3 273.6 251.5 273.2 242.5 274.2 238.5 275.8 235.9 277.8 234.0 280.8 232.3 283.8 231.5 289.8 231.8 295.8 234.3 299.8 238.5 301.0 242.5 300.3 252.5 297.8 261.2 293.8 267.9 291.8 269.8 288.8 271.6Z"/>
<path fill="#dd6853" fill-rule="evenodd" d="M243.9 195.5 239.9 196.3 236.0 195.5 233.6 193.5 232.3 190.5 232.3 183.5 233.6 176.5 235.9 172.3 238.9 170.4 241.9 170.4 244.0 171.5 246.1 174.5 247.6 179.5 248.2 185.5 247.9 190.5 246.5 193.5 243.9 195.5ZM447.7 195.6 443.7 196.3 439.8 195.5 437.4 193.5 436.1 190.5 436.1 183.5 437.5 176.5 439.7 172.3 442.7 170.4 445.7 170.3 448.7 172.4 450.4 175.5 451.5 179.5 452.1 185.5 451.9 190.5 450.4 193.5 447.7 195.6ZM182.9 273.6 179.9 273.6 177.9 272.5 175.9 270.4 173.9 267.0 170.9 257.5 169.5 244.5 170.1 239.5 172.9 234.6 176.9 231.9 181.9 230.8 187.9 231.5 192.9 234.0 195.9 237.7 197.1 242.5 195.9 254.5 192.9 263.9 190.9 267.5 188.5 270.5 185.9 272.5 182.9 273.6ZM386.8 273.6 383.8 273.6 381.8 272.5 379.8 270.4 377.8 267.0 374.8 257.5 373.4 244.5 373.9 239.5 376.8 234.6 380.8 231.9 385.8 230.8 391.8 231.5 396.8 234.0 399.7 237.7 401.0 242.5 399.7 254.5 396.8 263.9 394.8 267.5 392.3 270.5 389.8 272.5 386.8 273.6ZM83.0 265.7 81.0 265.7 79.0 264.7 75.6 260.5 73.1 253.5 72.1 245.5 72.3 241.5 74.2 237.5 78.0 234.8 82.0 234.0 86.0 234.5 90.1 236.5 92.9 239.5 93.9 243.5 93.1 251.5 90.8 258.5 87.0 263.7 83.0 265.7ZM286.8 265.7 284.8 265.7 282.8 264.7 279.4 260.5 277.0 253.5 276.0 245.5 276.1 241.5 278.1 237.5 281.8 234.8 285.8 234.0 289.8 234.5 294.0 236.5 296.7 239.5 297.7 243.5 296.9 251.5 294.6 258.5 290.8 263.7 286.8 265.7Z"/>
<path fill="#c9403d" fill-rule="evenodd" d="M240.9 192.6 238.9 192.5 236.9 191.5 235.5 188.5 235.9 183.7 236.8 180.5 237.9 178.7 239.9 177.6 241.9 177.8 243.4 179.5 244.9 185.5 245.0 188.5 244.3 190.5 242.9 192.0 240.9 192.6ZM444.7 192.6 442.7 192.5 440.7 191.5 439.4 188.5 439.7 183.7 440.6 180.5 441.7 178.7 443.7 177.6 445.7 177.8 447.3 179.5 448.8 185.5 448.9 188.5 448.2 190.5 446.7 192.0 444.7 192.6ZM180.9 267.5 178.9 266.7 176.9 264.7 174.4 259.5 172.5 251.5 171.9 242.5 173.1 238.5 175.5 235.5 178.9 233.7 182.9 233.3 187.9 234.3 191.2 236.5 193.7 240.5 193.9 244.5 192.7 253.5 189.9 260.9 185.9 265.8 183.9 267.0 180.9 267.5ZM384.8 267.5 382.8 266.7 380.8 264.7 378.2 259.5 376.4 251.5 375.8 242.5 376.9 238.5 379.4 235.5 382.8 233.7 386.8 233.3 391.8 234.3 395.1 236.5 397.5 240.5 397.8 244.5 396.5 253.5 393.8 260.9 389.8 265.8 387.8 267.0 384.8 267.5ZM84.0 256.6 81.0 256.9 79.0 255.2 77.1 251.5 76.2 247.5 76.0 242.5 76.7 240.5 78.8 238.5 81.0 237.7 83.0 237.7 86.0 238.5 88.4 240.5 89.2 242.5 89.0 247.4 88.0 251.2 86.0 254.9 84.0 256.6ZM287.8 256.6 284.8 256.9 282.8 255.2 281.0 251.5 280.1 247.5 279.8 242.5 280.6 240.5 282.6 238.5 284.8 237.7 286.8 237.7 289.8 238.5 292.2 240.5 293.1 242.5 292.8 247.4 291.8 251.2 289.8 254.9 287.8 256.6Z"/>
<path fill="#b2182b" fill-rule="evenodd" d="M182.9 258.0 180.9 258.3 179.9 257.9 177.9 255.5 176.5 251.5 175.6 246.5 175.4 242.5 175.9 240.5 177.9 238.0 180.9 236.8 183.9 237.0 186.9 238.3 188.9 240.5 189.4 242.5 188.9 247.5 187.4 252.5 185.8 255.5 182.9 258.0ZM386.8 258.0 384.8 258.3 383.8 257.9 381.8 255.5 380.3 251.5 379.4 246.5 379.3 242.5 379.8 240.5 381.8 238.0 384.8 236.8 387.8 237.0 390.8 238.3 392.7 240.5 393.2 242.5 392.7 247.5 391.3 252.5 389.7 255.5 386.8 258.0Z"/>
<path d="M105.9 205.9 C109.0 201.5 115.8 187.7 124.4 179.7 C133.0 171.7 147.6 163.6 157.4 157.7 C167.2 151.8 173.0 147.9 183.5 144.0 C194.0 140.1 214.4 136.0 220.6 134.4" fill="none" stroke="#000" stroke-width="4.6" stroke-dasharray="17 13.5"/>
<path d="M204.5 236.0 C206.4 238.5 212.3 247.0 215.7 251.2 C219.0 255.4 220.8 257.8 224.6 261.4 C228.4 265.0 234.3 269.4 238.4 272.7 C242.5 276.0 244.6 278.5 249.1 281.1 C253.6 283.7 260.6 285.9 265.3 288.3 C270.0 290.7 272.5 293.0 277.2 295.4 C281.9 297.8 286.1 300.4 293.3 302.6 C300.5 304.8 316.0 307.6 320.5 308.6" fill="none" stroke="#000" stroke-width="4.6" stroke-dasharray="17 13.5"/>
<path d="M306.4 205.9 C309.5 201.5 316.3 187.7 324.9 179.7 C333.5 171.7 348.0 163.6 357.9 157.7 C367.8 151.8 373.5 147.9 384.0 144.0 C394.5 140.1 414.9 136.0 421.1 134.4" fill="none" stroke="#000" stroke-width="4.6" stroke-dasharray="17 13.5"/>
<path d="M152.0 151.8L163.2 164.6M163.2 151.8L152.0 164.6" stroke="#f00" stroke-width="2.6" fill="none"/>
<path d="M353.0 151.8L364.2 164.6M364.2 151.8L353.0 164.6" stroke="#f00" stroke-width="2.6" fill="none"/>
<path d="M253.5 280.2L264.7 293.0M264.7 280.2L253.5 293.0" stroke="#f00" stroke-width="2.6" fill="none"/>
<path d="M147.8 232.9L161.0 232.9M154.4 226.4L154.4 239.4" stroke="#f00" stroke-width="2.5" fill="none"/>
<path d="M249.7 207.2L262.9 207.2M256.3 200.7L256.3 213.7" stroke="#f00" stroke-width="2.5" fill="none"/>
<path d="M351.2 232.9L364.4 232.9M357.8 226.4L357.8 239.4" stroke="#f00" stroke-width="2.5" fill="none"/>
</g>
<rect x="184.00" y="55.2" width="4.70" height="20.2" fill="#2464ad"/>
<rect x="188.40" y="55.2" width="9.49" height="20.2" fill="#3b7cba"/>
<rect x="197.59" y="55.2" width="9.49" height="20.2" fill="#5193c4"/>
<rect x="206.77" y="55.2" width="9.49" height="20.2" fill="#6eaed2"/>
<rect x="215.96" y="55.2" width="9.49" height="20.2" fill="#92c1dc"/>
<rect x="225.14" y="55.2" width="9.49" height="20.2" fill="#b9d6e8"/>
<rect x="234.33" y="55.2" width="9.49" height="20.2" fill="#d6e7f1"/>
<rect x="243.51" y="55.2" width="9.49" height="20.2" fill="#eef4f9"/>
<rect x="271.00" y="55.2" width="9.55" height="20.2" fill="#fdf0e8"/>
<rect x="280.25" y="55.2" width="9.55" height="20.2" fill="#fbe0d0"/>
<rect x="289.50" y="55.2" width="9.55" height="20.2" fill="#f9c8b0"/>
<rect x="298.75" y="55.2" width="9.55" height="20.2" fill="#f4a989"/>
<rect x="308.00" y="55.2" width="9.55" height="20.2" fill="#ef8c65"/>
<rect x="317.25" y="55.2" width="9.55" height="20.2" fill="#dd6853"/>
<rect x="326.50" y="55.2" width="9.55" height="20.2" fill="#c9403d"/>
<rect x="335.75" y="55.2" width="4.25" height="20.2" fill="#b2182b"/>
<text x="188.4" y="91.4" text-anchor="middle" class="cb">-0.016</text>
<text x="234.6" y="91.4" text-anchor="middle" class="cb">-0.006</text>
<text x="280.2" y="91.4" text-anchor="middle" class="cb">0.004</text>
<text x="325.8" y="91.4" text-anchor="middle" class="cb">0.014</text>
<line x1="57.0" y1="382.6" x2="60.8" y2="382.6" stroke="#3a3a3a" stroke-width="1"/>
<line x1="57.0" y1="372.9" x2="60.8" y2="372.9" stroke="#3a3a3a" stroke-width="1"/>
<line x1="57.0" y1="363.2" x2="63.8" y2="363.2" stroke="#000" stroke-width="1.6"/>
<line x1="57.0" y1="353.5" x2="60.8" y2="353.5" stroke="#3a3a3a" stroke-width="1"/>
<line x1="57.0" y1="343.8" x2="60.8" y2="343.8" stroke="#3a3a3a" stroke-width="1"/>
<line x1="57.0" y1="334.1" x2="60.8" y2="334.1" stroke="#3a3a3a" stroke-width="1"/>
<line x1="57.0" y1="324.4" x2="60.8" y2="324.4" stroke="#3a3a3a" stroke-width="1"/>
<line x1="57.0" y1="314.6" x2="63.8" y2="314.6" stroke="#000" stroke-width="1.6"/>
<line x1="57.0" y1="304.9" x2="60.8" y2="304.9" stroke="#3a3a3a" stroke-width="1"/>
<line x1="57.0" y1="295.2" x2="60.8" y2="295.2" stroke="#3a3a3a" stroke-width="1"/>
<line x1="57.0" y1="285.5" x2="60.8" y2="285.5" stroke="#3a3a3a" stroke-width="1"/>
<line x1="57.0" y1="275.8" x2="60.8" y2="275.8" stroke="#3a3a3a" stroke-width="1"/>
<line x1="57.0" y1="266.1" x2="63.8" y2="266.1" stroke="#000" stroke-width="1.6"/>
<line x1="57.0" y1="256.4" x2="60.8" y2="256.4" stroke="#3a3a3a" stroke-width="1"/>
<line x1="57.0" y1="246.6" x2="60.8" y2="246.6" stroke="#3a3a3a" stroke-width="1"/>
<line x1="57.0" y1="236.9" x2="60.8" y2="236.9" stroke="#3a3a3a" stroke-width="1"/>
<line x1="57.0" y1="227.2" x2="60.8" y2="227.2" stroke="#3a3a3a" stroke-width="1"/>
<line x1="57.0" y1="217.5" x2="63.8" y2="217.5" stroke="#000" stroke-width="1.6"/>
<line x1="57.0" y1="207.8" x2="60.8" y2="207.8" stroke="#3a3a3a" stroke-width="1"/>
<line x1="57.0" y1="198.1" x2="60.8" y2="198.1" stroke="#3a3a3a" stroke-width="1"/>
<line x1="57.0" y1="188.4" x2="60.8" y2="188.4" stroke="#3a3a3a" stroke-width="1"/>
<line x1="57.0" y1="178.6" x2="60.8" y2="178.6" stroke="#3a3a3a" stroke-width="1"/>
<line x1="57.0" y1="168.9" x2="63.8" y2="168.9" stroke="#000" stroke-width="1.6"/>
<line x1="57.0" y1="159.2" x2="60.8" y2="159.2" stroke="#3a3a3a" stroke-width="1"/>
<line x1="57.0" y1="149.5" x2="60.8" y2="149.5" stroke="#3a3a3a" stroke-width="1"/>
<line x1="57.0" y1="139.8" x2="60.8" y2="139.8" stroke="#3a3a3a" stroke-width="1"/>
<line x1="57.0" y1="130.1" x2="60.8" y2="130.1" stroke="#3a3a3a" stroke-width="1"/>
<line x1="57.0" y1="120.4" x2="63.8" y2="120.4" stroke="#000" stroke-width="1.6"/>
<line x1="57.0" y1="110.6" x2="60.8" y2="110.6" stroke="#3a3a3a" stroke-width="1"/>
<line x1="57.0" y1="100.9" x2="60.8" y2="100.9" stroke="#3a3a3a" stroke-width="1"/>
<line x1="57.0" y1="91.2" x2="60.8" y2="91.2" stroke="#3a3a3a" stroke-width="1"/>
<line x1="57.0" y1="81.5" x2="60.8" y2="81.5" stroke="#3a3a3a" stroke-width="1"/>
<line x1="57.0" y1="71.8" x2="63.8" y2="71.8" stroke="#000" stroke-width="1.6"/>
<line x1="57.0" y1="62.1" x2="60.8" y2="62.1" stroke="#3a3a3a" stroke-width="1"/>
<line x1="57.0" y1="52.4" x2="60.8" y2="52.4" stroke="#3a3a3a" stroke-width="1"/>
<line x1="464.7" y1="387.5" x2="464.7" y2="380.0" stroke="#000" stroke-width="1.6"/>
<line x1="454.5" y1="387.5" x2="454.5" y2="382.9" stroke="#3a3a3a" stroke-width="1"/>
<line x1="444.3" y1="387.5" x2="444.3" y2="382.9" stroke="#3a3a3a" stroke-width="1"/>
<line x1="434.1" y1="387.5" x2="434.1" y2="382.9" stroke="#3a3a3a" stroke-width="1"/>
<line x1="423.9" y1="387.5" x2="423.9" y2="382.9" stroke="#3a3a3a" stroke-width="1"/>
<line x1="413.7" y1="387.5" x2="413.7" y2="380.0" stroke="#000" stroke-width="1.6"/>
<line x1="403.5" y1="387.5" x2="403.5" y2="382.9" stroke="#3a3a3a" stroke-width="1"/>
<line x1="393.4" y1="387.5" x2="393.4" y2="382.9" stroke="#3a3a3a" stroke-width="1"/>
<line x1="383.2" y1="387.5" x2="383.2" y2="382.9" stroke="#3a3a3a" stroke-width="1"/>
<line x1="373.0" y1="387.5" x2="373.0" y2="382.9" stroke="#3a3a3a" stroke-width="1"/>
<line x1="362.8" y1="387.5" x2="362.8" y2="380.0" stroke="#000" stroke-width="1.6"/>
<line x1="352.6" y1="387.5" x2="352.6" y2="382.9" stroke="#3a3a3a" stroke-width="1"/>
<line x1="342.4" y1="387.5" x2="342.4" y2="382.9" stroke="#3a3a3a" stroke-width="1"/>
<line x1="332.2" y1="387.5" x2="332.2" y2="382.9" stroke="#3a3a3a" stroke-width="1"/>
<line x1="322.0" y1="387.5" x2="322.0" y2="382.9" stroke="#3a3a3a" stroke-width="1"/>
<line x1="311.8" y1="387.5" x2="311.8" y2="380.0" stroke="#000" stroke-width="1.6"/>
<line x1="301.6" y1="387.5" x2="301.6" y2="382.9" stroke="#3a3a3a" stroke-width="1"/>
<line x1="291.4" y1="387.5" x2="291.4" y2="382.9" stroke="#3a3a3a" stroke-width="1"/>
<line x1="281.2" y1="387.5" x2="281.2" y2="382.9" stroke="#3a3a3a" stroke-width="1"/>
<line x1="271.0" y1="387.5" x2="271.0" y2="382.9" stroke="#3a3a3a" stroke-width="1"/>
<line x1="260.9" y1="387.5" x2="260.9" y2="380.0" stroke="#000" stroke-width="1.6"/>
<line x1="250.7" y1="387.5" x2="250.7" y2="382.9" stroke="#3a3a3a" stroke-width="1"/>
<line x1="240.5" y1="387.5" x2="240.5" y2="382.9" stroke="#3a3a3a" stroke-width="1"/>
<line x1="230.3" y1="387.5" x2="230.3" y2="382.9" stroke="#3a3a3a" stroke-width="1"/>
<line x1="220.1" y1="387.5" x2="220.1" y2="382.9" stroke="#3a3a3a" stroke-width="1"/>
<line x1="209.9" y1="387.5" x2="209.9" y2="380.0" stroke="#000" stroke-width="1.6"/>
<line x1="199.7" y1="387.5" x2="199.7" y2="382.9" stroke="#3a3a3a" stroke-width="1"/>
<line x1="189.5" y1="387.5" x2="189.5" y2="382.9" stroke="#3a3a3a" stroke-width="1"/>
<line x1="179.3" y1="387.5" x2="179.3" y2="382.9" stroke="#3a3a3a" stroke-width="1"/>
<line x1="169.1" y1="387.5" x2="169.1" y2="382.9" stroke="#3a3a3a" stroke-width="1"/>
<line x1="158.9" y1="387.5" x2="158.9" y2="380.0" stroke="#000" stroke-width="1.6"/>
<line x1="148.7" y1="387.5" x2="148.7" y2="382.9" stroke="#3a3a3a" stroke-width="1"/>
<line x1="138.5" y1="387.5" x2="138.5" y2="382.9" stroke="#3a3a3a" stroke-width="1"/>
<line x1="128.3" y1="387.5" x2="128.3" y2="382.9" stroke="#3a3a3a" stroke-width="1"/>
<line x1="118.2" y1="387.5" x2="118.2" y2="382.9" stroke="#3a3a3a" stroke-width="1"/>
<line x1="108.0" y1="387.5" x2="108.0" y2="380.0" stroke="#000" stroke-width="1.6"/>
<line x1="97.8" y1="387.5" x2="97.8" y2="382.9" stroke="#3a3a3a" stroke-width="1"/>
<line x1="87.6" y1="387.5" x2="87.6" y2="382.9" stroke="#3a3a3a" stroke-width="1"/>
<line x1="77.4" y1="387.5" x2="77.4" y2="382.9" stroke="#3a3a3a" stroke-width="1"/>
<line x1="67.2" y1="387.5" x2="67.2" y2="382.9" stroke="#3a3a3a" stroke-width="1"/>
<line x1="57.0" y1="387.5" x2="57.0" y2="380.0" stroke="#000" stroke-width="1.6"/>
<rect x="57.0" y="47.5" width="407.7" height="340.0" fill="none" stroke="#000" stroke-width="2"/>
<text x="52.7" y="370.0" text-anchor="end" class="tl">-3</text>
<text x="52.7" y="321.4" text-anchor="end" class="tl">-2</text>
<text x="52.7" y="272.9" text-anchor="end" class="tl">-1</text>
<text x="52.7" y="224.3" text-anchor="end" class="tl">0</text>
<text x="52.7" y="175.7" text-anchor="end" class="tl">1</text>
<text x="52.7" y="127.2" text-anchor="end" class="tl">2</text>
<text x="52.7" y="78.6" text-anchor="end" class="tl">3</text>
<text x="57.0" y="404.8" text-anchor="middle" class="tl">2</text>
<text x="108.0" y="404.8" text-anchor="middle" class="tl">1.5</text>
<text x="158.9" y="404.8" text-anchor="middle" class="tl">1</text>
<text x="209.9" y="404.8" text-anchor="middle" class="tl">0.5</text>
<text x="260.9" y="404.8" text-anchor="middle" class="tl">0</text>
<text x="311.8" y="404.8" text-anchor="middle" class="tl">-0.5</text>
<text x="362.8" y="404.8" text-anchor="middle" class="tl">-1</text>
<text x="413.7" y="404.8" text-anchor="middle" class="tl">-1.5</text>
<text x="464.7" y="404.8" text-anchor="middle" class="tl">-2</text>
<text transform="translate(28.5 217.5) rotate(-90) scale(0.84 1)" text-anchor="middle" class="yl"><tspan font-style="italic">y</tspan><tspan dy="-0.0">*</tspan></text>
<text x="263.9" y="421.8" text-anchor="middle" class="xl">&#981;(<tspan font-style="italic">&#960;</tspan>)</text>
<text x="73.5" y="82.0" class="pl">(a)</text>
<g clip-path="url(#cpb)">
<path fill="#e2edf5" fill-rule="evenodd" d="M683.3 197.1 672.3 197.1 668.3 196.2 664.3 194.4 661.3 192.0 659.3 189.1 658.0 186.0 657.1 182.0 657.0 173.9 658.5 158.9 660.0 150.9 661.8 144.9 664.3 139.9 667.3 136.2 671.3 133.6 676.3 132.3 681.3 132.3 686.3 133.3 690.3 135.3 693.3 137.9 696.1 141.9 697.8 145.9 700.0 156.9 700.9 177.0 700.5 182.0 699.3 186.7 696.6 191.0 693.3 193.7 688.4 196.0 683.3 197.1ZM892.4 197.0 881.4 197.1 877.4 196.4 873.4 194.7 870.4 192.4 868.4 189.9 866.6 186.0 865.8 182.0 865.6 173.9 867.1 159.9 868.4 151.9 870.4 145.1 873.4 139.2 876.4 135.8 880.4 133.4 884.4 132.4 889.4 132.2 894.4 133.1 898.4 135.0 901.5 137.4 904.1 140.9 906.0 144.9 908.6 155.9 909.6 177.0 909.2 182.0 908.2 186.0 906.1 190.0 902.5 193.4 898.4 195.5 892.4 197.0ZM627.3 320.3 622.3 320.5 618.2 319.8 614.2 318.1 611.2 315.9 608.2 312.7 605.2 308.2 600.9 298.1 598.3 287.1 596.9 273.1 596.7 251.0 598.9 234.0 598.5 231.0 597.2 227.8 589.9 217.0 583.8 210.0 578.7 206.0 562.2 195.6 556.2 190.3 552.2 185.4 552.2 133.5 556.2 133.0 560.2 133.4 569.2 136.4 580.2 143.1 590.2 151.9 597.8 161.9 610.0 184.0 612.9 190.0 617.5 202.0 621.0 206.0 631.3 213.8 635.3 217.5 638.8 222.0 641.3 227.0 644.0 237.0 645.5 252.0 645.4 274.1 644.0 290.1 641.6 301.1 637.6 311.1 633.1 317.1 630.3 319.2 627.3 320.3ZM836.4 320.2 832.4 320.6 827.4 320.0 823.4 318.3 820.4 316.3 817.4 313.3 814.4 309.1 809.9 299.1 807.1 288.1 805.7 275.1 805.3 252.0 807.5 234.0 807.2 231.0 805.4 227.0 798.4 216.8 792.4 210.0 787.4 206.0 775.4 198.8 768.4 193.6 761.9 187.0 757.9 180.0 755.3 172.2 752.9 161.9 751.8 154.9 751.7 148.9 752.3 143.2 753.9 138.9 756.3 135.7 759.3 133.9 763.4 133.1 767.4 133.2 772.4 134.3 777.4 136.2 788.4 142.7 797.9 150.9 803.4 157.4 808.8 165.9 820.7 188.0 826.4 202.4 830.4 206.6 843.4 217.0 847.4 222.0 850.0 227.0 852.6 237.0 854.1 251.0 854.1 273.1 852.8 289.1 850.2 301.1 846.4 310.8 844.4 314.1 841.4 317.4 836.4 320.2ZM729.3 311.2 724.3 311.3 720.3 310.4 716.3 308.3 713.3 305.4 710.5 301.1 708.5 296.1 707.3 290.5 706.7 284.1 707.2 258.0 708.2 251.0 709.8 245.0 712.3 240.0 716.3 235.7 720.3 233.6 725.3 232.7 730.3 232.8 735.3 234.0 739.3 236.1 742.8 239.0 745.7 243.0 748.0 248.0 749.3 253.0 750.0 259.0 750.0 271.1 749.2 281.1 747.7 289.1 745.4 296.1 742.3 302.1 738.3 306.9 734.3 309.7 729.3 311.2ZM938.5 311.1 933.5 311.3 929.5 310.6 925.5 308.6 922.5 306.0 919.5 301.8 917.5 297.1 916.0 291.1 915.4 284.1 915.8 258.0 916.8 251.0 918.5 245.1 921.0 240.0 924.5 236.1 928.5 233.8 934.5 232.7 939.5 232.9 943.5 233.8 947.5 235.8 951.5 239.1 954.4 243.0 956.8 248.0 958.2 253.0 959.0 260.1 958.9 271.1 958.1 280.1 956.7 288.1 954.1 296.1 951.0 302.1 947.5 306.5 943.5 309.4 938.5 311.1Z"/>
<path fill="#bcd9ea" fill-rule="evenodd" d="M625.3 308.2 621.2 308.0 618.2 307.2 613.2 303.9 608.2 296.8 604.6 287.1 602.6 276.1 601.7 262.1 602.3 249.0 605.5 234.0 605.2 231.0 604.0 228.0 590.3 207.0 586.2 204.0 571.2 196.4 564.2 191.6 557.2 184.6 552.2 176.4 552.2 142.0 555.2 141.0 560.2 140.8 564.2 141.4 569.2 143.1 579.2 148.7 588.2 156.5 596.6 166.9 606.0 184.0 608.3 191.0 608.2 201.0 609.4 204.0 612.4 207.0 629.7 220.0 633.4 224.0 636.3 229.0 639.8 240.0 641.4 251.0 641.6 267.1 640.5 281.1 638.3 292.1 634.6 301.1 630.3 306.3 628.3 307.5 625.3 308.2ZM834.4 308.1 830.4 308.1 827.4 307.4 824.4 305.9 821.4 303.4 816.5 296.1 813.3 287.1 811.1 275.1 810.4 262.1 810.9 249.0 814.1 234.0 813.8 231.0 812.6 228.0 798.9 207.0 794.9 204.0 779.4 196.1 772.4 191.2 765.3 184.0 760.2 175.0 756.2 162.9 755.2 152.9 755.8 148.9 756.9 145.9 758.3 143.8 761.4 141.7 765.4 140.9 769.4 140.9 773.4 141.6 778.4 143.3 788.4 149.1 797.4 157.0 805.4 167.2 814.7 184.0 816.9 191.0 816.9 201.0 818.0 204.0 821.1 207.0 838.4 220.0 842.0 224.0 844.9 229.0 848.2 239.0 850.0 250.0 850.2 266.1 849.1 281.1 846.9 292.1 843.4 300.9 839.4 305.9 837.4 307.2 834.4 308.1ZM681.3 189.0 673.7 189.0 668.3 186.9 666.1 185.0 664.0 182.0 662.2 175.0 662.8 161.9 663.9 155.9 665.3 151.8 667.3 148.2 670.3 145.0 673.3 143.3 676.3 142.6 683.3 143.0 686.3 144.3 689.3 146.5 691.3 148.9 693.3 152.8 695.2 160.9 695.5 172.9 694.8 177.0 693.4 181.0 691.3 184.0 688.3 186.6 685.3 188.1 681.3 189.0ZM889.4 189.1 881.4 188.8 876.4 186.5 874.4 184.6 872.4 181.4 870.8 173.9 871.7 159.9 872.8 154.9 874.4 150.7 876.4 147.5 879.4 144.6 882.4 143.2 886.4 142.5 890.4 142.7 893.4 143.5 898.4 147.0 900.6 149.9 902.4 153.9 904.1 162.9 903.9 175.0 902.9 179.0 901.5 182.0 899.4 184.6 896.4 186.9 893.4 188.2 889.4 189.1ZM726.3 300.1 722.3 299.6 719.3 298.1 716.3 295.4 713.7 291.1 712.0 286.1 710.8 280.1 710.3 265.1 711.3 254.0 712.5 250.0 714.6 246.0 717.3 243.0 720.3 241.2 723.3 240.3 727.3 240.0 731.3 240.4 735.3 242.0 738.3 244.2 740.7 247.0 742.7 251.0 743.9 255.0 744.7 266.1 743.4 280.1 741.9 286.1 739.7 291.1 737.3 294.8 734.3 297.7 730.3 299.7 726.3 300.1ZM935.5 300.1 931.5 299.7 927.9 298.1 924.8 295.1 922.5 291.3 920.9 287.1 919.6 281.1 918.9 265.1 920.0 254.0 921.5 249.3 923.5 245.7 925.5 243.4 928.5 241.4 932.5 240.2 936.5 240.0 940.5 240.6 943.5 241.7 946.8 244.0 949.5 247.3 951.4 251.0 952.6 255.0 953.4 266.1 952.1 280.1 950.5 286.1 948.5 290.9 945.5 295.4 942.5 298.1 939.5 299.5 935.5 300.1Z"/>
<path fill="#8dbedb" fill-rule="evenodd" d="M595.2 199.0 586.2 198.3 576.2 195.0 567.8 190.0 561.2 183.7 556.1 176.0 552.2 166.7 552.2 151.0 554.1 148.9 557.2 147.5 562.2 147.1 566.2 147.6 571.2 149.2 576.2 151.8 581.2 155.3 590.2 164.2 594.5 169.9 599.4 178.0 601.8 183.0 603.3 188.0 603.2 192.0 602.0 195.0 599.2 197.7 595.2 199.0ZM803.4 199.0 795.4 198.4 785.4 195.2 777.4 190.6 770.1 184.0 767.1 180.0 763.7 173.9 760.1 163.9 759.3 158.9 759.5 154.9 760.4 151.9 762.4 149.2 765.4 147.7 769.4 147.1 774.4 147.5 779.4 149.0 784.4 151.5 789.4 155.0 794.4 159.3 799.4 164.8 803.8 170.9 808.6 179.0 810.9 184.0 811.9 188.0 811.8 192.0 810.4 195.3 807.4 197.9 803.4 199.0ZM681.3 180.0 677.3 180.4 673.3 179.6 670.3 177.0 668.6 172.9 668.3 165.9 669.8 158.9 672.3 155.1 676.3 153.0 680.3 152.9 684.3 154.8 686.8 157.9 688.3 162.4 688.7 168.9 687.7 173.9 685.3 177.7 681.3 180.0ZM889.4 180.1 884.4 180.3 880.9 179.0 878.4 176.3 877.0 171.9 877.1 164.9 878.5 158.9 881.4 154.6 885.4 152.9 889.4 153.0 893.1 154.9 895.5 157.9 897.0 162.9 897.3 168.9 896.4 173.9 893.7 178.0 889.4 180.1ZM626.3 298.3 620.2 298.0 617.2 296.6 615.2 294.9 613.0 292.1 610.7 288.1 607.9 279.1 606.3 267.1 606.3 253.0 607.5 246.0 611.2 236.0 611.9 233.0 611.2 229.0 607.3 222.0 606.3 219.0 606.5 216.0 608.2 214.4 611.2 214.5 616.2 216.6 621.6 220.0 627.3 225.0 630.3 228.8 633.3 234.3 635.6 240.0 637.2 246.0 638.2 254.0 638.3 264.1 637.6 274.1 636.4 282.1 634.3 289.1 632.3 293.4 629.3 296.9 626.3 298.3ZM835.4 298.2 831.4 298.5 828.4 297.8 825.4 296.2 823.4 294.4 819.4 288.1 816.5 279.1 814.9 267.1 814.9 253.0 816.2 246.0 819.9 236.0 820.5 233.0 819.8 229.0 816.0 222.0 814.9 219.0 815.2 216.0 815.9 215.0 817.4 214.3 821.4 214.9 826.4 217.4 831.6 221.0 836.4 225.5 839.4 229.6 842.4 235.4 845.9 246.0 846.8 253.0 846.9 263.1 846.4 273.1 845.2 281.1 843.4 288.0 841.4 292.5 838.4 296.5 835.4 298.2ZM729.3 290.3 726.3 290.6 723.3 290.1 719.3 287.4 717.3 284.4 716.0 281.1 714.3 272.3 714.3 260.1 716.0 253.0 717.9 250.0 720.1 248.0 722.3 246.9 725.3 246.3 731.3 246.9 735.3 249.4 738.4 254.0 739.8 260.1 739.6 272.1 737.5 281.1 734.2 287.1 731.9 289.1 729.3 290.3ZM938.5 290.1 935.5 290.6 932.5 290.3 928.5 287.9 926.5 285.3 925.0 282.1 923.2 274.1 922.8 261.1 924.3 254.0 927.5 249.0 930.5 247.1 933.5 246.3 939.5 246.7 943.6 249.0 947.0 254.0 948.5 260.1 948.3 271.1 946.5 280.3 943.5 286.3 941.5 288.4 938.5 290.1Z"/>
<path fill="#5a9ecb" fill-rule="evenodd" d="M593.2 193.2 586.2 193.6 579.2 192.2 572.2 188.8 566.2 183.9 560.6 176.0 556.7 166.9 555.9 159.9 556.8 156.9 558.2 155.2 560.2 154.1 563.2 153.6 567.2 153.7 571.2 154.6 579.2 158.9 586.2 165.2 593.2 174.5 596.4 180.0 597.9 184.0 598.3 187.0 597.6 190.0 595.9 192.0 593.2 193.2ZM802.4 193.1 795.4 193.7 788.4 192.3 781.1 189.0 775.0 184.0 769.4 176.1 765.4 167.1 764.5 162.9 764.5 159.9 765.4 157.1 766.4 155.7 768.4 154.3 771.4 153.6 775.4 153.6 779.4 154.5 786.4 157.9 794.4 164.7 801.6 173.9 805.0 180.0 806.6 184.0 807.0 187.0 806.3 190.0 804.5 192.0 802.4 193.1ZM625.3 289.1 622.3 289.0 619.2 287.9 617.1 286.1 614.9 283.1 613.1 279.1 611.7 274.1 610.4 263.1 610.7 253.0 613.0 245.0 615.2 241.3 618.2 238.3 621.2 236.6 623.3 236.3 627.3 237.2 629.3 238.8 631.3 241.4 633.9 248.0 635.0 256.0 634.6 269.1 632.9 279.1 631.3 283.6 629.3 286.8 627.3 288.4 625.3 289.1ZM833.4 289.2 830.4 288.9 827.4 287.6 825.4 285.7 823.0 282.1 820.1 273.1 819.0 261.1 819.6 251.0 822.1 244.0 824.4 240.7 827.4 237.9 829.4 236.8 832.4 236.3 836.4 237.5 838.4 239.3 840.4 242.3 842.8 249.0 843.7 257.0 843.2 270.1 841.3 280.1 839.4 284.6 837.6 287.1 835.4 288.7 833.4 289.2ZM728.3 279.1 725.3 279.2 722.3 277.3 720.3 273.4 719.4 269.1 719.3 262.1 720.1 258.0 722.3 255.0 725.3 253.7 728.3 253.7 731.3 255.1 733.3 257.9 734.2 261.1 734.2 267.1 733.2 273.1 731.3 276.8 728.3 279.1ZM936.5 279.2 933.5 279.0 930.5 276.6 928.9 273.1 928.0 268.1 927.9 262.1 928.8 258.0 930.9 255.0 934.5 253.6 937.5 253.8 940.5 255.6 942.0 258.0 942.9 262.1 942.7 269.1 941.5 274.0 939.5 277.4 936.5 279.2Z"/>
<path fill="#3f80ba" fill-rule="evenodd" d="M586.2 188.0 581.2 187.7 577.2 186.4 573.2 184.1 569.8 181.0 566.2 175.5 563.9 169.9 563.4 165.9 564.9 162.9 567.1 161.9 569.2 161.7 574.2 162.6 579.9 165.9 585.0 170.9 590.2 178.7 591.7 183.0 591.5 185.0 590.2 186.8 586.2 188.0ZM794.4 188.0 789.4 187.6 785.4 186.2 781.7 184.0 778.4 180.8 774.6 175.0 772.5 169.9 772.1 165.9 773.5 162.9 777.4 161.8 780.4 161.9 783.4 162.8 788.4 165.8 793.7 170.9 798.5 178.0 800.3 183.0 800.1 185.0 798.6 187.0 794.4 188.0ZM626.3 277.2 624.3 277.7 622.3 277.4 619.2 275.2 617.1 271.1 615.8 264.1 615.7 256.0 616.9 251.0 619.2 247.5 621.2 246.3 623.3 245.8 626.3 246.1 628.3 247.7 629.9 251.0 630.8 255.0 630.9 262.1 630.2 269.1 628.3 274.9 626.3 277.2ZM834.4 277.4 832.4 277.7 830.4 277.3 827.4 274.5 825.4 269.8 824.3 263.1 824.3 256.0 825.5 251.0 828.4 247.1 832.4 245.8 835.4 246.4 837.4 248.4 838.9 252.0 839.5 256.0 839.4 264.5 838.4 271.0 836.4 275.7 834.4 277.4Z"/>
<path fill="#fde4d6" fill-rule="evenodd" d="M634.3 184.0 629.3 184.6 624.3 183.9 620.2 182.2 617.2 179.9 614.2 176.6 611.2 171.9 608.6 165.9 606.9 159.9 606.0 152.9 605.9 146.9 606.7 139.9 608.3 133.9 610.6 128.9 613.4 124.9 617.2 121.8 621.2 120.2 626.3 119.9 632.3 120.4 637.3 121.7 641.3 123.6 644.3 125.9 646.9 128.9 648.9 132.9 650.1 136.9 650.7 143.9 650.3 154.7 649.3 163.4 647.6 169.9 645.3 175.3 642.3 179.4 638.3 182.5 634.3 184.0ZM842.4 184.1 837.4 184.6 832.4 183.8 828.4 181.8 825.4 179.4 822.4 175.9 819.4 170.9 816.9 164.9 815.4 158.9 814.5 151.9 814.6 144.9 815.5 138.9 817.3 132.9 819.4 128.6 822.4 124.6 826.4 121.5 830.4 120.1 840.4 120.3 845.4 121.5 849.4 123.3 852.4 125.4 855.4 128.7 857.4 132.5 858.7 136.9 859.4 143.9 859.1 152.9 858.0 162.9 856.3 169.9 853.5 176.0 850.4 179.9 846.4 182.7 842.4 184.1ZM890.4 295.3 882.4 295.7 879.4 295.0 876.4 293.6 871.4 288.7 868.0 282.1 865.3 271.1 864.1 257.0 864.8 243.0 866.9 232.0 870.4 224.1 872.9 221.0 875.4 218.9 880.4 216.8 893.4 215.5 899.4 213.1 906.5 208.7 917.9 200.0 923.9 195.0 926.5 192.0 927.5 189.0 927.0 187.0 920.5 177.7 919.0 173.9 917.8 168.9 917.4 149.9 919.0 136.9 920.5 132.3 922.5 128.4 925.4 124.9 928.5 122.5 931.5 121.1 935.5 120.2 940.5 120.0 944.5 120.8 948.5 122.8 952.7 126.9 955.8 131.9 958.4 138.9 960.2 146.9 961.1 156.9 961.1 166.9 959.9 173.9 957.8 179.0 955.0 183.0 940.5 195.8 930.4 209.0 917.3 224.0 913.1 230.0 911.2 234.0 910.2 238.0 908.5 267.1 907.5 274.1 905.6 281.1 902.7 287.1 899.4 291.0 895.4 293.7 890.4 295.3ZM682.3 295.2 674.3 295.7 671.3 295.2 668.3 293.9 663.3 289.4 659.8 283.1 656.8 272.1 655.5 258.0 655.9 245.0 658.0 233.0 661.3 224.9 663.3 222.0 666.3 219.2 671.3 216.9 683.3 215.8 691.3 212.9 698.3 208.4 710.5 199.0 715.3 195.0 717.9 192.0 718.8 189.0 718.4 187.0 711.9 178.0 710.3 173.9 709.2 168.9 708.7 151.9 709.9 138.9 712.5 130.9 714.3 127.8 717.3 124.6 720.3 122.6 724.3 121.2 728.3 121.0 732.3 121.5 735.3 122.7 738.3 125.1 740.8 128.9 742.6 133.9 747.9 167.9 748.1 173.9 747.3 179.0 744.3 184.6 731.7 196.0 721.8 209.0 708.3 224.4 704.4 230.0 702.5 234.0 701.5 238.0 699.9 267.1 697.3 280.1 694.7 286.1 691.3 290.5 687.3 293.4 682.3 295.2ZM576.2 294.2 573.2 294.8 568.2 294.5 565.2 293.4 562.2 291.2 559.6 288.1 557.6 284.1 556.0 279.1 555.1 273.1 555.0 257.0 555.9 251.0 557.7 245.0 560.2 240.5 563.2 237.3 566.2 235.6 570.2 234.6 576.2 235.3 579.0 237.0 580.9 239.0 584.2 245.6 586.1 255.0 586.5 270.1 585.1 281.1 583.4 286.1 581.2 290.1 579.2 292.3 576.2 294.2ZM784.4 294.3 780.4 294.9 776.4 294.4 773.4 293.1 770.4 290.7 767.7 287.1 765.9 283.1 763.7 273.1 763.6 257.0 764.5 251.0 765.9 246.0 768.4 241.2 771.4 237.8 774.4 235.8 778.4 234.7 784.4 235.1 787.4 236.8 789.4 238.8 791.4 241.9 793.0 246.0 794.9 256.0 795.1 271.1 793.4 282.1 792.1 286.1 789.9 290.1 787.4 292.7 784.4 294.3Z"/>
<path fill="#f9c4a9" fill-rule="evenodd" d="M631.3 176.2 624.3 176.4 619.2 174.5 616.6 171.9 614.5 168.9 611.7 160.9 611.0 149.9 612.8 139.9 614.5 135.9 616.7 132.9 619.2 130.8 622.3 129.5 630.3 129.6 634.3 130.7 637.3 132.2 640.3 134.6 642.1 136.9 643.6 139.9 644.8 143.9 645.4 148.9 645.3 155.9 644.6 160.9 643.2 165.9 641.3 169.6 638.3 172.9 635.3 174.8 631.3 176.2ZM840.4 176.1 836.4 176.6 832.4 176.4 827.4 174.1 823.2 168.9 820.3 160.9 819.7 149.9 821.4 139.9 823.2 135.9 825.4 132.8 828.4 130.5 831.4 129.4 839.4 129.7 843.4 130.9 846.4 132.5 850.7 136.9 852.3 139.9 853.5 143.9 854.0 148.9 853.9 155.9 853.3 160.9 851.8 165.9 849.7 169.9 847.4 172.5 844.4 174.6 840.4 176.1ZM943.5 183.2 940.5 183.7 936.5 183.2 932.5 181.7 928.5 179.3 925.9 177.0 923.7 173.9 921.5 166.9 921.6 151.9 922.5 145.9 924.0 140.9 926.5 136.2 929.5 133.0 932.5 131.2 936.5 130.1 940.5 130.1 943.5 130.8 946.5 132.4 948.5 134.2 951.1 137.9 953.0 141.9 955.3 151.9 955.9 164.9 954.3 172.9 952.1 177.0 949.5 179.9 946.5 182.0 943.5 183.2ZM735.3 183.0 732.3 183.7 728.3 183.3 724.3 181.9 720.3 179.6 715.7 175.0 714.2 171.9 713.0 167.9 712.6 162.9 712.9 152.9 713.7 146.9 715.0 141.9 716.8 137.9 719.3 134.7 722.3 132.4 725.3 131.4 731.3 131.8 734.3 133.3 736.3 135.1 740.0 141.9 742.6 151.9 744.6 165.9 744.2 172.9 743.2 176.0 741.3 179.0 738.3 181.6 735.3 183.0ZM682.3 286.3 675.3 287.0 670.3 285.8 666.0 282.1 662.7 276.1 660.3 266.1 659.3 253.0 660.1 244.0 662.6 235.0 665.9 229.0 670.3 225.3 686.3 219.8 693.3 216.0 709.3 205.4 713.3 203.6 716.3 203.3 717.3 203.9 717.5 205.0 716.5 208.0 702.3 227.0 699.4 232.0 697.8 236.0 697.0 241.0 696.6 263.1 695.4 270.1 693.8 275.1 691.8 279.1 689.3 282.2 686.3 284.6 682.3 286.3ZM891.4 286.1 884.4 287.0 879.4 286.0 876.5 284.1 874.7 282.1 871.4 276.2 868.9 266.1 867.9 253.0 868.7 244.0 871.2 235.0 874.4 229.2 878.4 225.6 894.4 220.0 901.9 216.0 918.5 205.1 922.5 203.5 925.5 203.5 926.2 205.0 924.5 209.0 911.0 227.0 908.1 232.0 906.5 236.0 905.6 241.0 905.2 263.1 904.3 269.1 902.5 275.2 900.5 279.1 898.1 282.1 895.4 284.2 891.4 286.1ZM574.2 286.4 571.2 286.6 568.2 286.1 564.2 283.3 562.2 280.4 560.8 277.1 559.3 269.1 559.6 258.0 561.7 250.0 565.4 245.0 568.2 243.4 571.2 242.8 574.2 243.1 576.2 243.9 579.2 246.9 581.5 252.0 582.8 260.1 582.8 270.1 581.3 278.1 578.2 283.9 576.2 285.6 574.2 286.4ZM783.4 286.3 780.4 286.7 777.4 286.2 773.4 283.8 771.4 281.3 769.8 278.1 768.1 270.1 768.1 259.0 769.9 251.0 771.4 248.0 774.0 245.0 776.4 243.6 779.4 242.8 782.4 242.9 784.4 243.6 787.4 246.2 790.1 252.0 791.4 259.0 791.5 269.1 790.3 277.1 787.4 283.3 785.4 285.2 783.4 286.3Z"/>
<path fill="#f4a281" fill-rule="evenodd" d="M630.3 168.2 625.3 168.8 621.2 167.7 618.2 164.5 616.5 159.9 616.0 151.9 617.2 144.9 619.3 140.9 621.2 139.1 623.3 138.3 628.3 138.3 633.3 140.1 636.3 143.0 638.4 147.9 638.9 154.9 637.9 160.9 635.3 165.2 633.0 166.9 630.3 168.2ZM839.4 168.0 834.4 168.8 830.4 168.0 827.4 165.3 825.4 160.9 824.6 153.9 825.4 146.4 827.9 140.9 831.4 138.4 836.4 138.2 841.4 139.8 844.8 142.9 847.1 147.9 847.6 154.9 846.5 160.9 843.4 165.7 839.4 168.0ZM942.5 177.0 936.5 176.9 931.2 175.0 927.5 171.2 925.6 165.9 925.7 154.9 927.6 146.9 929.5 143.4 931.5 141.1 933.5 139.7 936.5 138.7 941.5 138.8 945.5 141.1 948.7 145.9 950.9 153.9 951.4 163.9 950.3 169.9 947.5 174.3 945.5 175.8 942.5 177.0ZM733.3 177.0 727.3 176.8 722.3 174.8 719.3 171.9 717.2 166.9 716.9 156.9 718.3 148.9 721.4 142.9 723.3 141.2 726.3 139.9 731.3 140.5 733.3 141.7 735.3 143.8 738.3 149.8 740.1 156.9 741.2 165.9 740.3 170.9 739.3 173.0 737.3 175.2 733.3 177.0ZM681.3 279.3 676.3 280.0 672.3 279.4 669.0 277.1 666.3 273.0 664.1 266.1 662.8 256.0 662.7 249.0 664.0 242.0 667.2 235.0 671.3 230.8 693.3 220.2 699.3 218.3 700.6 219.0 700.5 222.0 694.9 234.0 693.2 240.0 692.9 259.0 691.4 268.1 689.7 272.1 687.3 275.5 684.3 278.0 681.3 279.3ZM890.4 279.2 885.4 280.0 881.4 279.6 877.7 277.1 875.0 273.1 872.7 266.1 871.6 257.0 871.4 249.0 872.7 242.0 875.9 235.0 880.4 230.5 902.5 219.9 906.5 218.5 908.5 218.4 909.3 219.0 909.4 221.0 903.6 234.0 901.8 240.0 901.6 259.0 900.3 267.1 898.4 271.9 896.4 274.9 893.4 277.7 890.4 279.2ZM574.2 278.5 570.2 278.7 567.2 277.0 564.9 273.1 563.8 268.1 563.9 261.1 565.2 255.5 567.7 252.0 571.2 250.6 574.2 251.0 576.2 252.6 578.0 256.0 579.0 261.1 579.1 268.1 578.2 272.9 576.2 276.9 574.2 278.5ZM783.4 278.2 779.4 278.8 776.4 277.5 773.9 274.1 772.6 269.1 772.4 262.1 773.6 256.0 776.3 252.0 779.4 250.6 782.4 250.8 784.4 252.0 786.3 255.0 787.4 259.0 787.8 265.1 787.3 271.1 785.5 276.1 783.4 278.2Z"/>
<path fill="#e8795a" fill-rule="evenodd" d="M942.5 170.1 939.5 170.8 934.9 169.9 932.5 167.9 931.2 164.9 931.1 158.9 932.2 153.9 934.5 150.3 937.5 148.8 940.5 148.8 942.5 149.9 944.5 152.7 945.5 155.7 946.1 159.9 946.0 164.9 944.8 167.9 942.5 170.1ZM733.3 170.1 730.3 170.7 726.3 170.0 724.3 168.5 722.8 165.9 722.3 160.9 723.3 154.9 725.3 151.5 727.3 150.2 730.3 150.4 732.3 151.6 734.3 154.5 735.3 157.2 736.3 162.9 736.2 165.9 735.3 168.3 733.3 170.1ZM680.3 272.1 676.3 272.8 673.3 272.3 671.3 270.9 669.3 268.1 667.8 264.1 666.7 258.0 666.1 251.0 666.4 246.0 668.4 240.0 672.5 235.0 682.3 229.4 686.3 227.7 689.3 227.2 690.9 228.0 691.4 231.0 688.5 244.0 688.3 257.0 687.7 262.1 685.3 268.1 683.3 270.3 680.3 272.1ZM888.4 272.3 885.4 272.7 882.4 272.4 880.1 271.1 877.9 268.1 876.4 264.0 875.2 257.0 874.7 250.0 875.3 245.0 877.7 239.0 881.4 234.8 891.7 229.0 895.4 227.6 898.4 227.3 899.6 228.0 900.1 231.0 897.2 244.0 896.9 257.0 896.3 262.1 895.4 265.1 893.4 268.7 891.4 270.7 888.4 272.3Z"/>
<path fill="#d24c45" fill-rule="evenodd" d="M677.3 260.2 675.3 260.4 674.3 260.0 672.3 256.7 670.7 250.0 671.0 245.0 672.3 241.9 674.8 239.0 679.3 236.3 682.3 235.9 683.5 238.0 683.2 243.0 680.1 256.0 679.3 258.2 677.3 260.2ZM885.4 260.3 883.4 260.3 881.4 257.9 879.5 251.0 879.4 245.9 880.9 242.0 883.4 239.0 887.4 236.6 890.4 235.8 891.4 236.3 892.2 238.0 891.4 244.9 888.4 257.1 887.4 259.0 885.4 260.3Z"/>
<path d="M584.3 182.8 C595.3 178.4 627.5 163.1 650.1 156.1 C672.7 149.1 708.1 143.6 719.7 141.1" fill="none" stroke="#000" stroke-width="4.6" stroke-dasharray="17 13.5"/>
<path d="M686.2 249.5 C697.7 254.7 732.6 273.0 755.0 280.9 C777.4 288.8 809.8 294.1 820.8 296.8" fill="none" stroke="#000" stroke-width="4.6" stroke-dasharray="17 13.5"/>
<path d="M792.9 181.9 C803.6 177.2 834.6 160.9 857.4 154.0 C880.2 147.1 917.6 142.5 929.6 140.2" fill="none" stroke="#000" stroke-width="4.6" stroke-dasharray="17 13.5"/>
<path d="M644.5 149.7L655.7 162.5M655.7 149.7L644.5 162.5" stroke="#f00" stroke-width="2.6" fill="none"/>
<path d="M749.4 274.5L760.6 287.3M760.6 274.5L749.4 287.3" stroke="#f00" stroke-width="2.6" fill="none"/>
<path d="M851.8 147.6L863.0 160.4M863.0 147.6L851.8 160.4" stroke="#f00" stroke-width="2.6" fill="none"/>
<path d="M748.4 177.6L761.6 177.6M755.0 171.1L755.0 184.1" stroke="#f00" stroke-width="2.5" fill="none"/>
<path d="M640.9 250.8L654.1 250.8M647.5 244.3L647.5 257.3" stroke="#f00" stroke-width="2.5" fill="none"/>
<path d="M848.6 250.8L861.8 250.8M855.2 244.3L855.2 257.3" stroke="#f00" stroke-width="2.5" fill="none"/>
</g>
<rect x="672.80" y="54.8" width="7.10" height="19.8" fill="#2563ab"/>
<rect x="679.60" y="54.8" width="13.98" height="19.8" fill="#3f80ba"/>
<rect x="693.28" y="54.8" width="13.98" height="19.8" fill="#5a9ecb"/>
<rect x="706.96" y="54.8" width="13.98" height="19.8" fill="#8dbedb"/>
<rect x="720.64" y="54.8" width="13.98" height="19.8" fill="#bcd9ea"/>
<rect x="734.32" y="54.8" width="13.98" height="19.8" fill="#e2edf5"/>
<rect x="775.80" y="54.8" width="13.94" height="19.8" fill="#fde4d6"/>
<rect x="789.44" y="54.8" width="13.94" height="19.8" fill="#f9c4a9"/>
<rect x="803.08" y="54.8" width="13.94" height="19.8" fill="#f4a281"/>
<rect x="816.72" y="54.8" width="13.94" height="19.8" fill="#e8795a"/>
<rect x="830.36" y="54.8" width="13.94" height="19.8" fill="#d24c45"/>
<rect x="844.00" y="54.8" width="7.30" height="19.8" fill="#b2182b"/>
<text x="679.6" y="90.6" text-anchor="middle" class="cb">-0.0012</text>
<text x="734.3" y="90.6" text-anchor="middle" class="cb">-0.0004</text>
<text x="789.1" y="90.6" text-anchor="middle" class="cb">0.0004</text>
<text x="844.0" y="90.6" text-anchor="middle" class="cb">0.0012</text>
<line x1="552.2" y1="382.3" x2="556.0" y2="382.3" stroke="#3a3a3a" stroke-width="1"/>
<line x1="552.2" y1="372.6" x2="556.0" y2="372.6" stroke="#3a3a3a" stroke-width="1"/>
<line x1="552.2" y1="362.9" x2="559.0" y2="362.9" stroke="#000" stroke-width="1.6"/>
<line x1="552.2" y1="353.2" x2="556.0" y2="353.2" stroke="#3a3a3a" stroke-width="1"/>
<line x1="552.2" y1="343.4" x2="556.0" y2="343.4" stroke="#3a3a3a" stroke-width="1"/>
<line x1="552.2" y1="333.7" x2="556.0" y2="333.7" stroke="#3a3a3a" stroke-width="1"/>
<line x1="552.2" y1="324.0" x2="556.0" y2="324.0" stroke="#3a3a3a" stroke-width="1"/>
<line x1="552.2" y1="314.3" x2="559.0" y2="314.3" stroke="#000" stroke-width="1.6"/>
<line x1="552.2" y1="304.5" x2="556.0" y2="304.5" stroke="#3a3a3a" stroke-width="1"/>
<line x1="552.2" y1="294.8" x2="556.0" y2="294.8" stroke="#3a3a3a" stroke-width="1"/>
<line x1="552.2" y1="285.1" x2="556.0" y2="285.1" stroke="#3a3a3a" stroke-width="1"/>
<line x1="552.2" y1="275.4" x2="556.0" y2="275.4" stroke="#3a3a3a" stroke-width="1"/>
<line x1="552.2" y1="265.6" x2="559.0" y2="265.6" stroke="#000" stroke-width="1.6"/>
<line x1="552.2" y1="255.9" x2="556.0" y2="255.9" stroke="#3a3a3a" stroke-width="1"/>
<line x1="552.2" y1="246.2" x2="556.0" y2="246.2" stroke="#3a3a3a" stroke-width="1"/>
<line x1="552.2" y1="236.5" x2="556.0" y2="236.5" stroke="#3a3a3a" stroke-width="1"/>
<line x1="552.2" y1="226.7" x2="556.0" y2="226.7" stroke="#3a3a3a" stroke-width="1"/>
<line x1="552.2" y1="217.0" x2="559.0" y2="217.0" stroke="#000" stroke-width="1.6"/>
<line x1="552.2" y1="207.3" x2="556.0" y2="207.3" stroke="#3a3a3a" stroke-width="1"/>
<line x1="552.2" y1="197.5" x2="556.0" y2="197.5" stroke="#3a3a3a" stroke-width="1"/>
<line x1="552.2" y1="187.8" x2="556.0" y2="187.8" stroke="#3a3a3a" stroke-width="1"/>
<line x1="552.2" y1="178.1" x2="556.0" y2="178.1" stroke="#3a3a3a" stroke-width="1"/>
<line x1="552.2" y1="168.4" x2="559.0" y2="168.4" stroke="#000" stroke-width="1.6"/>
<line x1="552.2" y1="158.6" x2="556.0" y2="158.6" stroke="#3a3a3a" stroke-width="1"/>
<line x1="552.2" y1="148.9" x2="556.0" y2="148.9" stroke="#3a3a3a" stroke-width="1"/>
<line x1="552.2" y1="139.2" x2="556.0" y2="139.2" stroke="#3a3a3a" stroke-width="1"/>
<line x1="552.2" y1="129.5" x2="556.0" y2="129.5" stroke="#3a3a3a" stroke-width="1"/>
<line x1="552.2" y1="119.7" x2="559.0" y2="119.7" stroke="#000" stroke-width="1.6"/>
<line x1="552.2" y1="110.0" x2="556.0" y2="110.0" stroke="#3a3a3a" stroke-width="1"/>
<line x1="552.2" y1="100.3" x2="556.0" y2="100.3" stroke="#3a3a3a" stroke-width="1"/>
<line x1="552.2" y1="90.6" x2="556.0" y2="90.6" stroke="#3a3a3a" stroke-width="1"/>
<line x1="552.2" y1="80.8" x2="556.0" y2="80.8" stroke="#3a3a3a" stroke-width="1"/>
<line x1="552.2" y1="71.1" x2="559.0" y2="71.1" stroke="#000" stroke-width="1.6"/>
<line x1="552.2" y1="61.4" x2="556.0" y2="61.4" stroke="#3a3a3a" stroke-width="1"/>
<line x1="552.2" y1="51.7" x2="556.0" y2="51.7" stroke="#3a3a3a" stroke-width="1"/>
<line x1="969.5" y1="387.2" x2="969.5" y2="379.7" stroke="#000" stroke-width="1.6"/>
<line x1="959.1" y1="387.2" x2="959.1" y2="382.6" stroke="#3a3a3a" stroke-width="1"/>
<line x1="948.6" y1="387.2" x2="948.6" y2="382.6" stroke="#3a3a3a" stroke-width="1"/>
<line x1="938.2" y1="387.2" x2="938.2" y2="382.6" stroke="#3a3a3a" stroke-width="1"/>
<line x1="927.8" y1="387.2" x2="927.8" y2="382.6" stroke="#3a3a3a" stroke-width="1"/>
<line x1="917.3" y1="387.2" x2="917.3" y2="379.7" stroke="#000" stroke-width="1.6"/>
<line x1="906.9" y1="387.2" x2="906.9" y2="382.6" stroke="#3a3a3a" stroke-width="1"/>
<line x1="896.5" y1="387.2" x2="896.5" y2="382.6" stroke="#3a3a3a" stroke-width="1"/>
<line x1="886.0" y1="387.2" x2="886.0" y2="382.6" stroke="#3a3a3a" stroke-width="1"/>
<line x1="875.6" y1="387.2" x2="875.6" y2="382.6" stroke="#3a3a3a" stroke-width="1"/>
<line x1="865.2" y1="387.2" x2="865.2" y2="379.7" stroke="#000" stroke-width="1.6"/>
<line x1="854.7" y1="387.2" x2="854.7" y2="382.6" stroke="#3a3a3a" stroke-width="1"/>
<line x1="844.3" y1="387.2" x2="844.3" y2="382.6" stroke="#3a3a3a" stroke-width="1"/>
<line x1="833.9" y1="387.2" x2="833.9" y2="382.6" stroke="#3a3a3a" stroke-width="1"/>
<line x1="823.4" y1="387.2" x2="823.4" y2="382.6" stroke="#3a3a3a" stroke-width="1"/>
<line x1="813.0" y1="387.2" x2="813.0" y2="379.7" stroke="#000" stroke-width="1.6"/>
<line x1="802.6" y1="387.2" x2="802.6" y2="382.6" stroke="#3a3a3a" stroke-width="1"/>
<line x1="792.1" y1="387.2" x2="792.1" y2="382.6" stroke="#3a3a3a" stroke-width="1"/>
<line x1="781.7" y1="387.2" x2="781.7" y2="382.6" stroke="#3a3a3a" stroke-width="1"/>
<line x1="771.3" y1="387.2" x2="771.3" y2="382.6" stroke="#3a3a3a" stroke-width="1"/>
<line x1="760.9" y1="387.2" x2="760.9" y2="379.7" stroke="#000" stroke-width="1.6"/>
<line x1="750.4" y1="387.2" x2="750.4" y2="382.6" stroke="#3a3a3a" stroke-width="1"/>
<line x1="740.0" y1="387.2" x2="740.0" y2="382.6" stroke="#3a3a3a" stroke-width="1"/>
<line x1="729.6" y1="387.2" x2="729.6" y2="382.6" stroke="#3a3a3a" stroke-width="1"/>
<line x1="719.1" y1="387.2" x2="719.1" y2="382.6" stroke="#3a3a3a" stroke-width="1"/>
<line x1="708.7" y1="387.2" x2="708.7" y2="379.7" stroke="#000" stroke-width="1.6"/>
<line x1="698.3" y1="387.2" x2="698.3" y2="382.6" stroke="#3a3a3a" stroke-width="1"/>
<line x1="687.8" y1="387.2" x2="687.8" y2="382.6" stroke="#3a3a3a" stroke-width="1"/>
<line x1="677.4" y1="387.2" x2="677.4" y2="382.6" stroke="#3a3a3a" stroke-width="1"/>
<line x1="667.0" y1="387.2" x2="667.0" y2="382.6" stroke="#3a3a3a" stroke-width="1"/>
<line x1="656.5" y1="387.2" x2="656.5" y2="379.7" stroke="#000" stroke-width="1.6"/>
<line x1="646.1" y1="387.2" x2="646.1" y2="382.6" stroke="#3a3a3a" stroke-width="1"/>
<line x1="635.7" y1="387.2" x2="635.7" y2="382.6" stroke="#3a3a3a" stroke-width="1"/>
<line x1="625.2" y1="387.2" x2="625.2" y2="382.6" stroke="#3a3a3a" stroke-width="1"/>
<line x1="614.8" y1="387.2" x2="614.8" y2="382.6" stroke="#3a3a3a" stroke-width="1"/>
<line x1="604.4" y1="387.2" x2="604.4" y2="379.7" stroke="#000" stroke-width="1.6"/>
<line x1="593.9" y1="387.2" x2="593.9" y2="382.6" stroke="#3a3a3a" stroke-width="1"/>
<line x1="583.5" y1="387.2" x2="583.5" y2="382.6" stroke="#3a3a3a" stroke-width="1"/>
<line x1="573.1" y1="387.2" x2="573.1" y2="382.6" stroke="#3a3a3a" stroke-width="1"/>
<line x1="562.6" y1="387.2" x2="562.6" y2="382.6" stroke="#3a3a3a" stroke-width="1"/>
<line x1="552.2" y1="387.2" x2="552.2" y2="379.7" stroke="#000" stroke-width="1.6"/>
<rect x="552.2" y="46.8" width="417.3" height="340.4" fill="none" stroke="#000" stroke-width="2"/>
<text x="547.9" y="369.7" text-anchor="end" class="tl">-3</text>
<text x="547.9" y="321.1" text-anchor="end" class="tl">-2</text>
<text x="547.9" y="272.4" text-anchor="end" class="tl">-1</text>
<text x="547.9" y="223.8" text-anchor="end" class="tl">0</text>
<text x="547.9" y="175.2" text-anchor="end" class="tl">1</text>
<text x="547.9" y="126.5" text-anchor="end" class="tl">2</text>
<text x="547.9" y="77.9" text-anchor="end" class="tl">3</text>
<text x="552.2" y="404.5" text-anchor="middle" class="tl">2</text>
<text x="604.4" y="404.5" text-anchor="middle" class="tl">1.5</text>
<text x="656.5" y="404.5" text-anchor="middle" class="tl">1</text>
<text x="708.7" y="404.5" text-anchor="middle" class="tl">0.5</text>
<text x="760.9" y="404.5" text-anchor="middle" class="tl">0</text>
<text x="813.0" y="404.5" text-anchor="middle" class="tl">-0.5</text>
<text x="865.2" y="404.5" text-anchor="middle" class="tl">-1</text>
<text x="917.3" y="404.5" text-anchor="middle" class="tl">-1.5</text>
<text x="969.5" y="404.5" text-anchor="middle" class="tl">-2</text>
<text transform="translate(523.7 217.0) rotate(-90) scale(0.84 1)" text-anchor="middle" class="yl"><tspan font-style="italic">y</tspan><tspan dy="-0.0">*</tspan></text>
<text x="763.9" y="421.5" text-anchor="middle" class="xl">&#981;(<tspan font-style="italic">&#960;</tspan>)</text>
<text x="568.7" y="81.3" class="pl">(b)</text>
<g clip-path="url(#cpc)">
<path fill="#d0e4f0" d="M1059.7 145.1 1066.2 136.7 1076.9 129.6 1085.3 134.3 1097.3 143.9 1103.2 155.9 1106.8 170.2 1109.2 182.2 1123.5 188.1 1137.9 191.7 1159.4 200.1 1176.1 206.1 1159.4 218.0 1149.8 225.2 1153.4 237.1 1157.0 249.1 1163.0 258.7 1161.8 277.8 1160.6 296.9 1154.6 308.9 1142.7 313.6 1130.7 311.3 1116.4 301.7 1106.8 292.1 1100.8 280.2 1097.3 263.4 1098.4 244.3 1096.1 232.4 1082.9 222.8 1073.3 217.1 1069.5 209.4 1060.2 197.5 1060.9 185.7Z"/>
<path fill="#8bbddb" d="M1067.4 143.9 1078.1 141.0 1090.1 143.9 1094.9 151.1 1096.1 167.8 1097.3 182.2 1106.8 188.1 1125.9 194.1 1157.0 206.1 1145.1 213.2 1141.5 225.2 1135.5 234.8 1128.3 235.9 1121.2 230.0 1116.4 222.8 1096.1 216.8 1094.9 208.5 1082.9 203.7 1068.6 196.5 1067.4 179.8Z"/>
<path fill="#8bbddb" d="M1110.4 249.1 1121.2 240.7 1137.9 239.5 1149.8 244.3 1157.0 258.7 1153.4 273.0 1151.0 287.3 1151.0 299.3 1142.7 304.1 1128.3 301.7 1118.8 292.1 1110.4 277.8 1109.2 263.4Z"/>
<path fill="#4b8fc3" d="M1118.8 258.7 1128.3 252.7 1142.7 252.7 1151.0 258.7 1147.5 265.8 1137.9 274.2 1130.7 279.0 1122.4 275.4 1118.8 268.2Z"/>
<path fill="#2464ad" d="M1128.8 258.7 1139.8 258.7 1135.0 262.0Z"/>
<path fill="#4b8fc3" d="M1078.6 155.9 1081.7 154.9 1084.8 156.3 1081.7 157.3Z"/>
<path fill="#4b8fc3" d="M1080.5 196.5 1090.1 195.1 1100.1 197.0 1090.1 198.4Z"/>
<path fill="#fdd9c4" d="M1070.5 258.7 1075.7 257.2 1082.0 258.7 1075.7 260.3Z"/>
<path fill="#fdd9c4" d="M1072.9 299.3 1080.5 297.4 1089.1 299.8 1080.5 302.2Z"/>
<path fill="#fdd9c4" d="M1108.6 134.4 1114.3 124.9 1123.9 118.2 1138.2 115.3 1150.7 115.8 1159.3 119.1 1163.6 123.9 1163.1 131.5 1162.6 140.2 1159.3 147.8 1153.5 157.4 1149.7 165.0 1152.1 172.7 1151.6 176.5 1140.2 177.4 1128.7 175.5 1132.5 165.0 1128.7 157.4 1123.9 149.7 1118.2 142.1 1112.4 138.2Z"/>
<path fill="#f4a482" d="M1121.0 134.4 1128.7 128.7 1136.3 124.4 1143.0 124.4 1147.8 125.8 1151.6 132.5 1149.7 140.2 1144.9 145.9 1140.2 146.8 1132.5 143.0 1125.8 138.2Z"/>
<path fill="#d0e4f0" d="M1172.2 165.2 1178.7 153.0 1186.6 145.8 1197.3 143.7 1202.3 148.7 1204.5 157.3 1203.0 165.9 1197.3 174.5 1187.3 177.4 1178.7 176.7 1173.7 171.6Z"/>
<path fill="#fdd9c4" d="M1221.0 124.3 1230.3 120.0 1247.5 117.9 1264.7 120.8 1265.4 131.5 1264.0 145.8 1264.7 160.2 1264.7 174.5 1261.1 186.0 1261.1 196.0 1259.0 207.5 1250.4 211.8 1228.9 213.2 1214.5 211.8 1209.5 204.6 1210.2 196.0 1206.6 186.0 1215.2 181.7 1221.7 174.5 1225.3 167.3 1226.0 153.0 1224.6 138.7Z"/>
<path fill="#f4a482" d="M1237.5 133.7 1243.2 125.8 1248.9 127.2 1253.9 135.1 1251.1 143.0 1247.5 145.8 1253.2 153.0 1256.1 160.2 1255.4 170.2 1256.8 177.4 1250.4 181.7 1238.9 183.1 1230.3 178.8 1227.4 175.9 1234.6 167.3 1237.5 160.2 1237.5 150.1 1241.8 145.8 1238.2 140.1Z"/>
<path fill="#fdd9c4" d="M1172.4 237.9 1176.0 227.2 1187.9 224.2 1201.1 224.8 1215.4 229.0 1229.7 231.9 1238.7 237.3 1230.9 243.9 1222.6 254.6 1215.4 260.6 1205.8 265.4 1196.3 272.6 1190.3 278.5 1185.5 284.5 1179.6 280.9 1177.2 273.8 1174.8 258.2Z"/>
<path fill="#f4a482" d="M1184.3 237.9 1193.9 234.9 1204.6 235.5 1211.2 239.1 1213.0 248.1 1210.6 257.0 1203.5 261.8 1193.9 263.6 1186.7 260.6 1183.7 255.8Z"/>
<path fill="#d0e4f0" d="M1216.0 279.7 1221.4 272.6 1229.7 266.6 1239.3 259.4 1247.7 255.2 1258.4 254.6 1263.8 258.2 1265.6 270.2 1267.4 286.9 1266.2 301.2 1260.8 312.0 1252.4 316.8 1240.5 313.2 1228.5 306.0 1217.8 298.9 1218.4 289.3Z"/>
<path fill="#8bbddb" d="M1229.1 279.7 1236.9 271.4 1246.5 270.2 1254.8 275.0 1256.0 284.5 1253.6 294.1 1250.0 300.0 1241.7 300.6 1236.3 294.1 1232.1 286.9Z"/>
<path fill="#d0e4f0" d="M1278.4 145.1 1284.8 136.7 1295.6 129.6 1303.9 134.3 1315.9 143.9 1321.9 155.9 1325.5 170.2 1327.9 182.2 1342.2 188.1 1356.5 191.7 1378.1 200.1 1394.8 206.1 1378.1 218.0 1368.5 225.2 1372.1 237.1 1375.7 249.1 1381.6 258.7 1380.4 277.8 1379.3 296.9 1373.3 308.9 1361.3 313.6 1349.4 311.3 1335.0 301.7 1325.5 292.1 1319.5 280.2 1315.9 263.4 1317.1 244.3 1314.7 232.4 1301.6 222.8 1292.0 217.1 1288.2 209.4 1278.8 197.5 1279.6 185.7Z"/>
<path fill="#8bbddb" d="M1286.0 143.9 1296.8 141.0 1308.7 143.9 1313.5 151.1 1314.7 167.8 1315.9 182.2 1325.5 188.1 1344.6 194.1 1375.7 206.1 1363.7 213.2 1360.1 225.2 1354.2 234.8 1347.0 235.9 1339.8 230.0 1335.0 222.8 1314.7 216.8 1313.5 208.5 1301.6 203.7 1287.2 196.5 1286.0 179.8Z"/>
<path fill="#8bbddb" d="M1329.0 249.1 1339.8 240.7 1356.5 239.5 1368.5 244.3 1375.7 258.7 1372.1 273.0 1369.7 287.3 1369.7 299.3 1361.3 304.1 1347.0 301.7 1337.4 292.1 1329.0 277.8 1327.9 263.4Z"/>
<path fill="#4b8fc3" d="M1337.4 258.7 1347.0 252.7 1361.3 252.7 1369.7 258.7 1366.1 265.8 1356.5 274.2 1349.4 279.0 1341.0 275.4 1337.4 268.2Z"/>
<path fill="#2464ad" d="M1347.5 258.7 1358.5 258.7 1353.7 262.0Z"/>
<path fill="#4b8fc3" d="M1297.3 155.9 1300.4 154.9 1303.5 156.3 1300.4 157.3Z"/>
<path fill="#4b8fc3" d="M1299.2 196.5 1308.7 195.1 1318.8 197.0 1308.7 198.4Z"/>
<path fill="#fdd9c4" d="M1289.1 258.7 1294.4 257.2 1300.6 258.7 1294.4 260.3Z"/>
<path fill="#fdd9c4" d="M1291.5 299.3 1299.2 297.4 1307.8 299.8 1299.2 302.2Z"/>
<path fill="#fdd9c4" d="M1327.3 134.4 1333.0 124.9 1342.6 118.2 1356.9 115.3 1369.3 115.8 1377.9 119.1 1382.2 123.9 1381.7 131.5 1381.3 140.2 1377.9 147.8 1372.2 157.4 1368.4 165.0 1370.8 172.7 1370.3 176.5 1358.8 177.4 1347.3 175.5 1351.2 165.0 1347.3 157.4 1342.6 149.7 1336.8 142.1 1331.1 138.2Z"/>
<path fill="#f4a482" d="M1339.7 134.4 1347.3 128.7 1355.0 124.4 1361.7 124.4 1366.5 125.8 1370.3 132.5 1368.4 140.2 1363.6 145.9 1358.8 146.8 1351.2 143.0 1344.5 138.2Z"/>
<path fill="#d0e4f0" d="M1390.9 165.2 1397.3 153.0 1405.2 145.8 1416.0 143.7 1421.0 148.7 1423.1 157.3 1421.7 165.9 1416.0 174.5 1405.9 177.4 1397.3 176.7 1392.3 171.6Z"/>
<path fill="#fdd9c4" d="M1439.6 124.3 1448.9 120.0 1466.1 117.9 1483.3 120.8 1484.1 131.5 1482.6 145.8 1483.3 160.2 1483.3 174.5 1479.8 186.0 1479.8 196.0 1477.6 207.5 1469.0 211.8 1447.5 213.2 1433.2 211.8 1428.1 204.6 1428.9 196.0 1425.3 186.0 1433.9 181.7 1440.3 174.5 1443.9 167.3 1444.6 153.0 1443.2 138.7Z"/>
<path fill="#f4a482" d="M1456.1 133.7 1461.8 125.8 1467.6 127.2 1472.6 135.1 1469.7 143.0 1466.1 145.8 1471.9 153.0 1474.7 160.2 1474.0 170.2 1475.5 177.4 1469.0 181.7 1457.5 183.1 1448.9 178.8 1446.1 175.9 1453.2 167.3 1456.1 160.2 1456.1 150.1 1460.4 145.8 1456.8 140.1Z"/>
<path fill="#fdd9c4" d="M1391.0 237.9 1394.6 227.2 1406.6 224.2 1419.7 224.8 1434.1 229.0 1448.4 231.9 1457.3 237.3 1449.6 243.9 1441.2 254.6 1434.1 260.6 1424.5 265.4 1414.9 272.6 1409.0 278.5 1404.2 284.5 1398.2 280.9 1395.8 273.8 1393.4 258.2Z"/>
<path fill="#f4a482" d="M1403.0 237.9 1412.5 234.9 1423.3 235.5 1429.9 239.1 1431.7 248.1 1429.3 257.0 1422.1 261.8 1412.5 263.6 1405.4 260.6 1402.4 255.8Z"/>
<path fill="#d0e4f0" d="M1434.6 279.7 1440.0 272.6 1448.4 266.6 1457.9 259.4 1466.3 255.2 1477.1 254.6 1482.4 258.2 1484.2 270.2 1486.0 286.9 1484.8 301.2 1479.5 312.0 1471.1 316.8 1459.1 313.2 1447.2 306.0 1436.4 298.9 1437.0 289.3Z"/>
<path fill="#8bbddb" d="M1447.8 279.7 1455.6 271.4 1465.1 270.2 1473.5 275.0 1474.7 284.5 1472.3 294.1 1468.7 300.0 1460.3 300.6 1455.0 294.1 1450.8 286.9Z"/>
<path d="M1094.3 170.4 C1105.8 166.6 1141.5 153.6 1163.6 147.6 C1185.7 141.6 1216.3 136.8 1226.8 134.7" fill="none" stroke="#000" stroke-width="4.6" stroke-dasharray="17 13.5"/>
<path d="M1213.0 263.7 C1223.9 266.8 1256.3 277.6 1278.5 282.3 C1300.7 287.0 1335.1 290.1 1346.4 291.7" fill="none" stroke="#000" stroke-width="4.6" stroke-dasharray="17 13.5"/>
<path d="M1321.5 170.4 C1332.8 166.8 1367.4 154.9 1389.5 148.9 C1411.6 142.9 1443.2 137.1 1454.0 134.7" fill="none" stroke="#000" stroke-width="4.6" stroke-dasharray="17 13.5"/>
<path d="M1158.0 141.2L1169.2 154.0M1169.2 141.2L1158.0 154.0" stroke="#f00" stroke-width="2.6" fill="none"/>
<path d="M1272.9 275.9L1284.1 288.7M1284.1 275.9L1272.9 288.7" stroke="#f00" stroke-width="2.6" fill="none"/>
<path d="M1383.9 142.5L1395.1 155.3M1395.1 142.5L1383.9 155.3" stroke="#f00" stroke-width="2.6" fill="none"/>
<path d="M1268.8 155.3L1282.0 155.3M1275.4 148.8L1275.4 161.8" stroke="#f00" stroke-width="2.5" fill="none"/>
<path d="M1157.8 272.3L1171.0 272.3M1164.4 265.8L1164.4 278.8" stroke="#f00" stroke-width="2.5" fill="none"/>
<path d="M1378.1 272.3L1391.3 272.3M1384.7 265.8L1384.7 278.8" stroke="#f00" stroke-width="2.5" fill="none"/>
</g>
<rect x="1201.10" y="54.8" width="9.40" height="19.8" fill="#2464ad"/>
<rect x="1210.20" y="54.8" width="17.43" height="19.8" fill="#4b8fc3"/>
<rect x="1227.33" y="54.8" width="17.43" height="19.8" fill="#8bbddb"/>
<rect x="1244.47" y="54.8" width="17.43" height="19.8" fill="#d0e4f0"/>
<rect x="1296.10" y="54.8" width="17.60" height="19.8" fill="#fdd9c4"/>
<rect x="1313.40" y="54.8" width="17.60" height="19.8" fill="#f4a482"/>
<rect x="1330.70" y="54.8" width="17.60" height="19.8" fill="#dd6552"/>
<rect x="1348.00" y="54.8" width="8.80" height="19.8" fill="#b2182b"/>
<text x="1210.2" y="90.6" text-anchor="middle" class="cb">-2.0x10<tspan class="sup" dy="-5.5">-05</tspan></text>
<text x="1278.9" y="90.6" text-anchor="middle" class="cb">0.0x10<tspan class="sup" dy="-5.5">+00</tspan></text>
<text x="1348.0" y="90.6" text-anchor="middle" class="cb">2.0x10<tspan class="sup" dy="-5.5">-05</tspan></text>
<line x1="1059.2" y1="382.3" x2="1063.0" y2="382.3" stroke="#3a3a3a" stroke-width="1"/>
<line x1="1059.2" y1="372.6" x2="1063.0" y2="372.6" stroke="#3a3a3a" stroke-width="1"/>
<line x1="1059.2" y1="362.9" x2="1066.0" y2="362.9" stroke="#000" stroke-width="1.6"/>
<line x1="1059.2" y1="353.2" x2="1063.0" y2="353.2" stroke="#3a3a3a" stroke-width="1"/>
<line x1="1059.2" y1="343.5" x2="1063.0" y2="343.5" stroke="#3a3a3a" stroke-width="1"/>
<line x1="1059.2" y1="333.7" x2="1063.0" y2="333.7" stroke="#3a3a3a" stroke-width="1"/>
<line x1="1059.2" y1="324.0" x2="1063.0" y2="324.0" stroke="#3a3a3a" stroke-width="1"/>
<line x1="1059.2" y1="314.3" x2="1066.0" y2="314.3" stroke="#000" stroke-width="1.6"/>
<line x1="1059.2" y1="304.6" x2="1063.0" y2="304.6" stroke="#3a3a3a" stroke-width="1"/>
<line x1="1059.2" y1="294.9" x2="1063.0" y2="294.9" stroke="#3a3a3a" stroke-width="1"/>
<line x1="1059.2" y1="285.1" x2="1063.0" y2="285.1" stroke="#3a3a3a" stroke-width="1"/>
<line x1="1059.2" y1="275.4" x2="1063.0" y2="275.4" stroke="#3a3a3a" stroke-width="1"/>
<line x1="1059.2" y1="265.7" x2="1066.0" y2="265.7" stroke="#000" stroke-width="1.6"/>
<line x1="1059.2" y1="256.0" x2="1063.0" y2="256.0" stroke="#3a3a3a" stroke-width="1"/>
<line x1="1059.2" y1="246.3" x2="1063.0" y2="246.3" stroke="#3a3a3a" stroke-width="1"/>
<line x1="1059.2" y1="236.5" x2="1063.0" y2="236.5" stroke="#3a3a3a" stroke-width="1"/>
<line x1="1059.2" y1="226.8" x2="1063.0" y2="226.8" stroke="#3a3a3a" stroke-width="1"/>
<line x1="1059.2" y1="217.1" x2="1066.0" y2="217.1" stroke="#000" stroke-width="1.6"/>
<line x1="1059.2" y1="207.4" x2="1063.0" y2="207.4" stroke="#3a3a3a" stroke-width="1"/>
<line x1="1059.2" y1="197.7" x2="1063.0" y2="197.7" stroke="#3a3a3a" stroke-width="1"/>
<line x1="1059.2" y1="187.9" x2="1063.0" y2="187.9" stroke="#3a3a3a" stroke-width="1"/>
<line x1="1059.2" y1="178.2" x2="1063.0" y2="178.2" stroke="#3a3a3a" stroke-width="1"/>
<line x1="1059.2" y1="168.5" x2="1066.0" y2="168.5" stroke="#000" stroke-width="1.6"/>
<line x1="1059.2" y1="158.8" x2="1063.0" y2="158.8" stroke="#3a3a3a" stroke-width="1"/>
<line x1="1059.2" y1="149.1" x2="1063.0" y2="149.1" stroke="#3a3a3a" stroke-width="1"/>
<line x1="1059.2" y1="139.3" x2="1063.0" y2="139.3" stroke="#3a3a3a" stroke-width="1"/>
<line x1="1059.2" y1="129.6" x2="1063.0" y2="129.6" stroke="#3a3a3a" stroke-width="1"/>
<line x1="1059.2" y1="119.9" x2="1066.0" y2="119.9" stroke="#000" stroke-width="1.6"/>
<line x1="1059.2" y1="110.2" x2="1063.0" y2="110.2" stroke="#3a3a3a" stroke-width="1"/>
<line x1="1059.2" y1="100.5" x2="1063.0" y2="100.5" stroke="#3a3a3a" stroke-width="1"/>
<line x1="1059.2" y1="90.7" x2="1063.0" y2="90.7" stroke="#3a3a3a" stroke-width="1"/>
<line x1="1059.2" y1="81.0" x2="1063.0" y2="81.0" stroke="#3a3a3a" stroke-width="1"/>
<line x1="1059.2" y1="71.3" x2="1066.0" y2="71.3" stroke="#000" stroke-width="1.6"/>
<line x1="1059.2" y1="61.6" x2="1063.0" y2="61.6" stroke="#3a3a3a" stroke-width="1"/>
<line x1="1059.2" y1="51.9" x2="1063.0" y2="51.9" stroke="#3a3a3a" stroke-width="1"/>
<line x1="1496.5" y1="387.2" x2="1496.5" y2="379.7" stroke="#000" stroke-width="1.6"/>
<line x1="1485.6" y1="387.2" x2="1485.6" y2="382.6" stroke="#3a3a3a" stroke-width="1"/>
<line x1="1474.6" y1="387.2" x2="1474.6" y2="382.6" stroke="#3a3a3a" stroke-width="1"/>
<line x1="1463.7" y1="387.2" x2="1463.7" y2="382.6" stroke="#3a3a3a" stroke-width="1"/>
<line x1="1452.8" y1="387.2" x2="1452.8" y2="382.6" stroke="#3a3a3a" stroke-width="1"/>
<line x1="1441.8" y1="387.2" x2="1441.8" y2="379.7" stroke="#000" stroke-width="1.6"/>
<line x1="1430.9" y1="387.2" x2="1430.9" y2="382.6" stroke="#3a3a3a" stroke-width="1"/>
<line x1="1420.0" y1="387.2" x2="1420.0" y2="382.6" stroke="#3a3a3a" stroke-width="1"/>
<line x1="1409.0" y1="387.2" x2="1409.0" y2="382.6" stroke="#3a3a3a" stroke-width="1"/>
<line x1="1398.1" y1="387.2" x2="1398.1" y2="382.6" stroke="#3a3a3a" stroke-width="1"/>
<line x1="1387.2" y1="387.2" x2="1387.2" y2="379.7" stroke="#000" stroke-width="1.6"/>
<line x1="1376.2" y1="387.2" x2="1376.2" y2="382.6" stroke="#3a3a3a" stroke-width="1"/>
<line x1="1365.3" y1="387.2" x2="1365.3" y2="382.6" stroke="#3a3a3a" stroke-width="1"/>
<line x1="1354.4" y1="387.2" x2="1354.4" y2="382.6" stroke="#3a3a3a" stroke-width="1"/>
<line x1="1343.4" y1="387.2" x2="1343.4" y2="382.6" stroke="#3a3a3a" stroke-width="1"/>
<line x1="1332.5" y1="387.2" x2="1332.5" y2="379.7" stroke="#000" stroke-width="1.6"/>
<line x1="1321.6" y1="387.2" x2="1321.6" y2="382.6" stroke="#3a3a3a" stroke-width="1"/>
<line x1="1310.6" y1="387.2" x2="1310.6" y2="382.6" stroke="#3a3a3a" stroke-width="1"/>
<line x1="1299.7" y1="387.2" x2="1299.7" y2="382.6" stroke="#3a3a3a" stroke-width="1"/>
<line x1="1288.8" y1="387.2" x2="1288.8" y2="382.6" stroke="#3a3a3a" stroke-width="1"/>
<line x1="1277.8" y1="387.2" x2="1277.8" y2="379.7" stroke="#000" stroke-width="1.6"/>
<line x1="1266.9" y1="387.2" x2="1266.9" y2="382.6" stroke="#3a3a3a" stroke-width="1"/>
<line x1="1256.0" y1="387.2" x2="1256.0" y2="382.6" stroke="#3a3a3a" stroke-width="1"/>
<line x1="1245.1" y1="387.2" x2="1245.1" y2="382.6" stroke="#3a3a3a" stroke-width="1"/>
<line x1="1234.1" y1="387.2" x2="1234.1" y2="382.6" stroke="#3a3a3a" stroke-width="1"/>
<line x1="1223.2" y1="387.2" x2="1223.2" y2="379.7" stroke="#000" stroke-width="1.6"/>
<line x1="1212.3" y1="387.2" x2="1212.3" y2="382.6" stroke="#3a3a3a" stroke-width="1"/>
<line x1="1201.3" y1="387.2" x2="1201.3" y2="382.6" stroke="#3a3a3a" stroke-width="1"/>
<line x1="1190.4" y1="387.2" x2="1190.4" y2="382.6" stroke="#3a3a3a" stroke-width="1"/>
<line x1="1179.5" y1="387.2" x2="1179.5" y2="382.6" stroke="#3a3a3a" stroke-width="1"/>
<line x1="1168.5" y1="387.2" x2="1168.5" y2="379.7" stroke="#000" stroke-width="1.6"/>
<line x1="1157.6" y1="387.2" x2="1157.6" y2="382.6" stroke="#3a3a3a" stroke-width="1"/>
<line x1="1146.7" y1="387.2" x2="1146.7" y2="382.6" stroke="#3a3a3a" stroke-width="1"/>
<line x1="1135.7" y1="387.2" x2="1135.7" y2="382.6" stroke="#3a3a3a" stroke-width="1"/>
<line x1="1124.8" y1="387.2" x2="1124.8" y2="382.6" stroke="#3a3a3a" stroke-width="1"/>
<line x1="1113.9" y1="387.2" x2="1113.9" y2="379.7" stroke="#000" stroke-width="1.6"/>
<line x1="1102.9" y1="387.2" x2="1102.9" y2="382.6" stroke="#3a3a3a" stroke-width="1"/>
<line x1="1092.0" y1="387.2" x2="1092.0" y2="382.6" stroke="#3a3a3a" stroke-width="1"/>
<line x1="1081.1" y1="387.2" x2="1081.1" y2="382.6" stroke="#3a3a3a" stroke-width="1"/>
<line x1="1070.1" y1="387.2" x2="1070.1" y2="382.6" stroke="#3a3a3a" stroke-width="1"/>
<line x1="1059.2" y1="387.2" x2="1059.2" y2="379.7" stroke="#000" stroke-width="1.6"/>
<rect x="1059.2" y="47.0" width="437.3" height="340.2" fill="none" stroke="#000" stroke-width="2"/>
<text x="1054.9" y="369.7" text-anchor="end" class="tl">-3</text>
<text x="1054.9" y="321.1" text-anchor="end" class="tl">-2</text>
<text x="1054.9" y="272.5" text-anchor="end" class="tl">-1</text>
<text x="1054.9" y="223.9" text-anchor="end" class="tl">0</text>
<text x="1054.9" y="175.3" text-anchor="end" class="tl">1</text>
<text x="1054.9" y="126.7" text-anchor="end" class="tl">2</text>
<text x="1054.9" y="78.1" text-anchor="end" class="tl">3</text>
<text x="1059.2" y="404.5" text-anchor="middle" class="tl">2</text>
<text x="1113.9" y="404.5" text-anchor="middle" class="tl">1.5</text>
<text x="1168.5" y="404.5" text-anchor="middle" class="tl">1</text>
<text x="1223.2" y="404.5" text-anchor="middle" class="tl">0.5</text>
<text x="1277.8" y="404.5" text-anchor="middle" class="tl">0</text>
<text x="1332.5" y="404.5" text-anchor="middle" class="tl">-0.5</text>
<text x="1387.2" y="404.5" text-anchor="middle" class="tl">-1</text>
<text x="1441.8" y="404.5" text-anchor="middle" class="tl">-1.5</text>
<text x="1496.5" y="404.5" text-anchor="middle" class="tl">-2</text>
<text transform="translate(1030.7 217.1) rotate(-90) scale(0.84 1)" text-anchor="middle" class="yl"><tspan font-style="italic">y</tspan><tspan dy="-0.0">*</tspan></text>
<text x="1280.8" y="421.5" text-anchor="middle" class="xl">&#981;(<tspan font-style="italic">&#960;</tspan>)</text>
<text x="1075.7" y="81.5" class="pl">(c)</text>
<g clip-path="url(#cpd)">
<path fill="#e2edf5" fill-rule="evenodd" d="M139.9 703.4 136.9 703.6 133.9 702.8 128.9 699.4 124.3 693.2 120.9 685.4 118.8 677.2 117.5 668.2 116.8 651.2 117.7 637.2 117.2 634.2 115.7 631.2 111.6 627.2 95.0 615.1 87.0 612.4 73.0 611.1 67.0 609.7 61.0 606.0 58.5 603.1 57.0 600.1 57.0 560.9 59.2 546.1 61.8 538.1 65.4 531.1 70.0 525.9 75.0 523.1 79.0 522.4 83.0 522.5 89.0 524.6 94.0 529.2 98.6 537.1 101.6 546.1 103.6 556.1 105.0 571.1 106.0 595.1 106.5 598.1 107.9 601.3 111.6 605.1 125.9 616.4 131.9 619.0 140.9 621.5 144.9 623.6 148.9 627.7 151.7 633.2 153.6 640.2 154.4 649.2 153.9 663.2 152.5 676.2 150.3 686.2 147.0 695.2 143.9 700.3 139.9 703.4ZM343.6 703.4 340.7 703.6 337.7 702.8 332.7 699.4 328.1 693.2 324.7 685.4 322.5 677.2 321.3 668.2 320.6 651.2 321.4 637.2 321.0 634.2 319.5 631.2 315.4 627.2 298.7 615.1 290.7 612.4 276.7 611.1 270.7 609.7 264.7 606.0 262.3 603.1 260.8 600.1 259.5 593.1 260.0 573.1 261.1 557.1 263.0 546.1 265.5 538.1 269.2 531.1 273.7 525.9 278.7 523.1 282.7 522.4 286.7 522.5 292.7 524.6 297.7 529.2 302.3 537.1 305.4 546.1 307.3 556.1 308.7 571.1 309.7 595.1 310.3 598.1 311.7 601.3 315.4 605.1 329.7 616.4 335.7 619.0 344.6 621.5 348.6 623.6 352.6 627.7 355.5 633.2 357.3 640.2 358.1 649.2 357.7 663.2 356.2 676.2 354.0 686.2 350.8 695.2 347.6 700.3 343.6 703.4ZM186.8 612.3 180.8 612.4 175.9 611.5 171.9 609.6 169.3 607.1 166.7 603.1 164.8 598.1 163.6 592.1 163.2 584.1 163.4 572.1 164.3 562.1 165.9 554.0 168.2 547.1 171.9 541.3 175.9 537.6 180.8 535.3 185.8 534.7 190.8 535.1 195.8 537.1 200.6 541.1 204.1 546.1 206.7 552.1 208.7 559.1 209.9 568.1 210.4 578.1 209.9 591.1 208.8 595.1 206.7 599.1 202.3 604.1 196.8 608.5 191.8 611.1 186.8 612.3ZM390.6 612.3 384.6 612.4 379.6 611.5 375.6 609.6 373.0 607.1 370.5 603.1 368.6 598.1 367.4 592.1 366.9 584.1 367.1 572.1 368.0 562.1 369.6 554.0 372.0 547.1 375.6 541.3 379.6 537.6 384.6 535.3 389.6 534.7 394.6 535.1 399.6 537.1 404.4 541.1 407.8 546.1 410.5 552.1 412.4 559.1 413.7 568.1 414.2 578.1 413.6 591.1 412.5 595.1 410.4 599.1 406.0 604.1 400.6 608.5 395.6 611.1 390.6 612.3ZM229.8 699.3 224.8 699.2 220.8 697.3 217.0 693.2 214.8 687.9 213.6 681.2 213.3 671.2 214.1 658.2 215.7 646.2 217.4 640.2 219.3 636.2 221.8 632.8 225.8 629.1 231.8 625.0 236.8 622.8 241.8 621.7 246.8 621.8 249.8 623.2 251.8 625.1 253.5 628.2 254.7 632.2 255.3 643.2 253.4 655.2 249.2 670.2 243.2 684.2 236.8 694.1 232.8 697.8 229.8 699.3ZM433.5 699.3 428.5 699.2 424.5 697.3 420.8 693.2 418.6 687.9 417.4 681.2 417.1 671.2 417.9 658.2 419.5 646.2 421.2 640.2 423.1 636.2 425.5 632.8 429.5 629.1 435.5 625.0 440.5 622.8 445.5 621.7 450.5 621.7 453.5 623.1 455.5 625.0 457.5 628.2 458.9 632.2 459.7 641.2 458.2 652.2 453.1 670.2 447.0 684.2 440.5 694.1 436.5 697.8 433.5 699.3Z"/>
<path fill="#bcd9ea" fill-rule="evenodd" d="M137.9 693.2 133.9 692.1 129.3 688.2 125.6 682.2 122.9 674.7 121.0 665.2 120.1 654.2 120.2 647.2 121.8 634.2 121.3 631.2 119.8 628.2 116.9 625.4 109.9 621.2 97.9 612.6 91.0 610.4 75.0 608.4 69.0 606.8 63.3 603.1 59.9 598.1 58.6 592.1 58.7 579.1 59.6 566.1 61.4 555.1 63.7 547.1 67.0 540.3 71.0 535.4 75.0 532.8 81.0 531.9 84.0 532.2 87.0 533.4 92.0 537.7 96.2 545.1 98.9 553.1 100.9 563.1 102.1 576.1 102.8 598.1 103.6 602.1 104.9 604.7 107.3 607.1 122.9 619.5 127.9 621.9 139.2 625.2 142.9 627.2 145.9 630.2 148.7 635.2 150.5 641.2 151.3 649.2 150.9 661.2 149.5 672.2 147.6 680.2 144.9 687.2 141.9 691.4 139.9 692.8 137.9 693.2ZM341.7 693.2 337.7 692.1 333.1 688.2 329.4 682.2 326.7 674.7 324.7 665.2 323.9 654.2 323.9 647.2 325.5 634.2 325.0 631.2 323.5 628.2 320.7 625.4 313.7 621.2 301.7 612.6 294.7 610.4 278.7 608.4 272.7 606.8 267.1 603.1 263.7 598.1 262.3 592.1 262.5 579.1 263.3 566.1 265.1 555.1 267.5 547.1 270.7 540.3 274.7 535.4 278.7 532.8 284.7 531.9 287.7 532.2 290.7 533.4 295.7 537.7 300.0 545.1 302.7 553.1 304.6 563.1 305.9 576.1 306.6 598.1 307.4 602.1 308.7 604.7 311.0 607.1 326.7 619.5 331.7 621.9 343.0 625.2 346.6 627.2 349.6 630.2 352.4 635.2 354.2 641.2 355.1 649.2 354.6 661.2 353.2 672.2 351.4 680.2 348.6 687.2 345.6 691.4 343.6 692.8 341.7 693.2ZM189.8 607.3 184.8 607.7 180.8 607.2 176.9 605.7 173.9 603.6 171.7 601.1 169.4 597.1 167.8 592.1 167.1 587.1 166.9 578.1 167.5 569.1 168.7 562.1 170.5 556.1 173.1 551.1 176.9 546.9 180.8 544.6 184.8 543.9 188.8 544.0 192.8 545.2 195.8 547.1 198.8 550.3 201.2 554.1 203.2 559.1 204.8 565.1 205.7 572.1 205.8 587.1 204.9 592.1 203.5 596.1 201.0 600.1 197.8 603.3 193.8 605.9 189.8 607.3ZM393.6 607.3 388.6 607.7 384.6 607.2 380.6 605.7 377.6 603.6 375.4 601.1 373.2 597.1 371.6 592.1 370.8 587.1 370.7 578.1 371.2 569.1 372.4 562.1 374.3 556.1 376.8 551.1 380.6 546.9 384.6 544.6 388.6 543.9 392.6 544.0 396.6 545.2 399.6 547.1 402.6 550.3 404.9 554.1 407.0 559.1 408.5 565.1 409.5 572.1 409.5 587.1 408.7 592.1 407.2 596.1 404.7 600.1 401.6 603.3 397.6 605.9 393.6 607.3ZM232.8 686.4 229.8 686.8 225.8 685.5 222.8 682.8 220.3 678.2 218.8 672.4 218.3 666.2 218.5 658.2 219.6 650.2 222.3 642.2 224.8 638.3 227.8 635.1 231.8 632.1 235.8 630.1 239.8 629.0 243.8 628.7 245.8 629.3 247.8 630.8 250.2 635.2 251.3 642.2 250.6 650.2 247.1 663.2 242.8 673.9 237.8 682.1 234.8 685.2 232.8 686.4ZM436.5 686.4 433.5 686.8 429.5 685.5 426.5 682.8 424.0 678.2 422.6 672.4 422.0 666.2 422.3 658.2 423.3 650.2 426.0 642.2 428.5 638.3 431.5 635.1 435.5 632.1 439.5 630.1 443.5 629.0 447.5 628.7 449.5 629.3 451.5 630.8 454.1 635.2 455.2 641.2 454.6 649.2 451.2 662.2 446.5 673.9 441.5 682.1 438.5 685.2 436.5 686.4Z"/>
<path fill="#8dbedb" fill-rule="evenodd" d="M96.0 607.2 92.0 607.6 86.0 607.3 77.0 606.2 72.0 605.1 68.0 603.2 65.4 601.1 63.2 598.1 61.9 595.1 61.1 590.1 61.5 576.1 62.5 566.1 64.4 557.1 67.0 550.0 70.0 544.9 73.0 541.8 77.0 539.8 81.0 539.4 84.0 539.8 87.0 541.2 89.0 542.9 93.0 548.4 96.3 557.1 99.0 572.1 99.8 592.1 98.9 604.1 97.9 606.1 96.0 607.2ZM299.7 607.2 295.7 607.6 289.7 607.3 280.7 606.2 275.7 605.1 271.7 603.2 269.2 601.1 266.9 598.1 265.6 595.1 264.9 590.1 265.3 576.1 266.3 566.1 268.2 557.1 270.7 550.0 273.7 544.9 276.7 541.8 280.7 539.8 284.7 539.4 287.7 539.8 290.7 541.2 292.7 542.9 296.7 548.4 300.1 557.1 302.7 572.1 303.6 592.1 302.6 604.1 301.6 606.1 299.7 607.2ZM190.8 602.2 186.8 602.8 182.8 602.6 179.8 601.7 177.2 600.1 174.9 597.9 172.9 594.8 170.7 587.1 170.7 573.1 171.6 567.1 173.0 562.1 174.9 558.1 177.9 554.2 180.8 552.1 183.8 551.2 187.8 551.1 190.8 551.8 195.5 555.1 197.8 558.5 199.5 562.1 201.7 571.1 202.2 584.1 200.7 592.1 198.8 596.1 196.8 598.6 193.8 601.0 190.8 602.2ZM394.6 602.2 390.6 602.8 386.6 602.6 383.6 601.7 381.0 600.1 378.6 597.9 376.6 594.8 374.4 587.1 374.4 573.1 375.3 567.1 376.8 562.1 378.6 558.1 381.6 554.2 384.6 552.1 387.6 551.2 391.6 551.1 394.6 551.8 399.2 555.1 401.6 558.5 403.3 562.1 405.4 571.1 406.0 584.1 404.5 592.1 402.6 596.1 400.6 598.6 397.6 601.0 394.6 602.2ZM139.9 684.4 137.9 684.9 134.9 684.2 130.5 680.2 126.8 673.2 124.2 663.2 123.3 652.2 123.9 644.2 127.5 631.2 128.7 629.2 130.9 628.1 133.9 628.1 137.9 628.8 142.2 631.2 145.9 636.2 148.3 644.2 148.6 656.2 146.9 670.0 143.9 679.4 141.9 682.7 139.9 684.4ZM343.6 684.4 341.7 684.9 338.7 684.2 334.2 680.2 330.6 673.2 328.0 663.2 327.0 652.2 327.6 644.2 331.2 631.2 332.4 629.2 334.7 628.1 337.7 628.1 341.7 628.8 345.9 631.2 349.6 636.2 352.1 644.2 352.4 656.2 350.6 670.0 347.6 679.4 345.6 682.7 343.6 684.4ZM234.8 674.6 232.8 675.0 229.8 674.1 227.7 672.2 225.8 668.6 224.8 664.8 224.4 660.2 225.3 650.2 227.7 644.2 231.8 639.4 237.7 636.2 242.8 635.8 244.9 637.2 246.8 641.0 247.2 645.2 246.7 650.2 244.8 657.6 241.8 665.4 237.8 672.0 234.8 674.6ZM438.5 674.6 436.5 675.0 433.5 674.1 431.5 672.2 429.5 668.6 428.5 664.8 428.1 660.2 429.1 650.2 431.5 644.2 435.5 639.4 441.5 636.2 446.5 635.8 448.6 637.2 450.5 640.9 451.0 645.2 450.5 650.2 448.5 657.6 445.5 665.4 441.5 672.0 438.5 674.6Z"/>
<path fill="#5a9ecb" fill-rule="evenodd" d="M92.0 604.3 89.0 604.8 84.0 604.7 73.0 602.7 70.0 601.3 67.4 599.1 65.3 596.1 64.2 593.1 63.8 588.1 64.3 576.1 65.3 568.1 67.0 560.8 69.0 555.5 72.0 550.7 75.0 548.0 78.0 546.8 81.0 546.6 84.0 547.1 88.0 549.8 92.0 556.0 94.6 564.1 96.5 577.1 97.0 594.1 95.4 601.1 94.0 603.1 92.0 604.3ZM295.7 604.3 292.7 604.8 287.7 604.7 276.7 602.7 273.7 601.3 271.1 599.1 269.0 596.1 268.0 593.1 267.6 588.1 268.0 576.1 269.0 568.1 270.7 560.8 272.7 555.5 275.7 550.7 278.7 548.0 281.7 546.8 284.7 546.6 287.7 547.1 291.7 549.8 295.7 556.0 298.4 564.1 300.3 577.1 300.7 594.1 299.2 601.1 297.7 603.1 295.7 604.3ZM189.8 597.4 183.8 597.6 180.8 596.7 178.9 595.4 175.7 591.1 174.2 585.1 174.4 574.1 176.3 566.1 177.9 563.0 179.8 560.6 181.8 559.2 184.8 558.3 189.8 558.8 193.8 562.0 196.5 567.1 198.1 574.1 198.4 584.1 197.1 590.1 193.8 595.1 189.8 597.4ZM393.6 597.4 387.6 597.6 384.6 596.7 382.6 595.4 379.5 591.1 377.9 585.1 378.1 574.1 380.0 566.1 381.6 563.0 383.6 560.6 385.6 559.2 388.6 558.3 393.6 558.8 397.6 562.0 400.3 567.1 401.9 574.1 402.2 584.1 400.9 590.1 397.6 595.1 393.6 597.4ZM138.9 676.6 136.9 676.6 134.9 675.7 132.9 673.9 130.9 671.0 128.1 663.2 126.8 654.2 126.8 647.2 128.9 640.2 131.9 635.4 133.9 634.0 135.9 633.5 139.9 634.3 142.9 637.3 145.1 642.2 146.2 648.2 145.9 658.2 144.4 667.2 141.9 673.7 138.9 676.6ZM342.6 676.6 340.7 676.6 338.7 675.7 336.7 673.9 334.7 671.0 331.8 663.2 330.5 654.2 330.6 647.2 332.7 640.2 335.7 635.4 337.7 634.0 339.7 633.5 343.6 634.3 346.6 637.3 348.9 642.2 350.0 648.2 349.7 658.2 348.1 667.2 345.6 673.7 342.6 676.6Z"/>
<path fill="#3f80ba" fill-rule="evenodd" d="M86.0 602.2 77.0 601.1 72.1 599.1 68.9 596.1 67.0 591.1 67.6 576.1 69.8 565.1 72.0 560.2 74.0 557.4 76.0 555.7 79.0 554.7 82.0 554.7 84.0 555.3 86.0 556.7 88.0 558.9 91.0 565.3 92.9 574.1 94.0 590.1 93.5 596.1 92.2 599.1 91.0 600.6 89.0 601.6 86.0 602.2ZM289.7 602.2 280.8 601.1 275.8 599.1 272.6 596.1 270.8 591.1 271.3 576.1 273.6 565.1 275.7 560.2 277.7 557.4 279.7 555.7 282.7 554.7 285.7 554.7 287.7 555.3 289.7 556.7 291.7 558.9 294.7 565.3 296.7 574.1 297.8 590.1 297.2 596.1 296.0 599.1 294.7 600.6 292.7 601.6 289.7 602.2ZM187.8 591.2 184.8 591.2 181.8 589.9 179.8 587.1 178.8 583.1 179.0 577.1 180.2 572.1 182.8 568.4 185.8 567.4 188.8 568.0 190.8 569.7 192.6 573.1 193.5 578.1 193.6 583.1 192.6 587.1 190.8 589.7 187.8 591.2ZM391.6 591.2 388.6 591.2 385.6 589.9 383.5 587.1 382.6 583.1 382.8 577.1 384.0 572.1 386.6 568.4 389.6 567.4 392.6 568.0 394.6 569.7 396.3 573.1 397.3 578.1 397.3 583.1 396.4 587.1 394.6 589.7 391.6 591.2ZM137.9 666.2 134.9 664.4 132.9 660.9 131.6 656.2 131.1 650.2 131.5 647.2 132.9 643.7 134.9 641.4 137.9 640.4 139.9 641.1 141.4 643.2 142.6 646.2 143.0 650.2 142.7 656.2 141.7 661.2 139.9 665.1 137.9 666.2ZM341.7 666.2 338.7 664.4 336.7 660.9 335.4 656.2 334.9 650.2 335.2 647.2 336.7 643.7 338.7 641.4 341.7 640.4 343.6 641.1 345.2 643.2 346.3 646.2 346.8 650.2 346.4 656.2 345.4 661.2 343.6 665.1 341.7 666.2Z"/>
<path fill="#2464ad" fill-rule="evenodd" d="M85.0 598.3 80.5 598.1 76.0 596.8 73.0 594.4 71.6 591.1 71.8 582.1 73.0 574.8 75.4 569.1 77.0 567.4 79.0 566.5 82.0 566.5 85.0 568.7 87.0 572.3 88.3 577.1 89.6 593.1 88.0 596.8 85.0 598.3ZM288.7 598.3 284.2 598.1 279.7 596.8 276.7 594.4 275.3 591.1 275.5 582.1 276.7 574.8 279.2 569.1 280.7 567.4 282.7 566.5 285.7 566.5 288.7 568.7 290.7 572.3 292.0 577.1 293.3 593.1 291.7 596.8 288.7 598.3Z"/>
<path fill="#fde4d6" fill-rule="evenodd" d="M185.8 710.3 182.8 710.5 180.8 710.1 177.9 708.3 175.9 706.3 171.4 699.2 167.6 689.2 164.7 676.2 163.0 662.2 162.3 643.2 163.5 635.2 166.9 628.2 171.9 623.4 177.9 620.7 190.8 618.3 196.5 616.2 216.8 601.3 219.1 599.1 220.2 597.1 220.7 594.1 219.9 581.1 220.5 563.1 221.7 554.1 223.7 546.1 226.8 539.3 230.8 534.5 235.8 532.2 241.8 532.4 245.8 534.8 248.8 538.6 251.2 544.1 253.1 552.1 254.4 564.1 254.6 581.1 254.1 589.1 252.5 596.1 250.7 600.1 247.8 603.4 243.8 605.9 235.8 609.3 230.8 612.4 212.9 627.2 210.3 630.2 209.0 634.2 208.9 644.2 206.4 668.2 204.4 680.2 202.1 689.2 198.8 697.7 194.8 704.1 190.8 708.0 185.8 710.3ZM389.6 710.3 386.6 710.5 384.6 710.1 381.6 708.3 379.6 706.3 375.1 699.2 371.4 689.2 368.4 676.2 366.7 662.2 366.0 643.2 367.3 635.2 370.7 628.2 375.6 623.4 381.6 620.7 394.6 618.3 400.3 616.2 420.6 601.3 422.8 599.1 423.9 597.1 424.5 594.1 423.6 581.1 424.2 563.1 425.4 554.1 427.4 546.1 430.5 539.3 434.5 534.5 439.5 532.2 445.5 532.4 449.5 534.7 452.9 539.1 455.6 545.1 457.8 553.1 459.3 563.1 460.0 576.1 459.8 586.1 458.4 593.1 456.3 598.1 452.5 602.7 448.9 605.1 439.8 609.1 434.5 612.4 416.7 627.2 414.1 630.2 412.8 634.2 412.6 644.2 410.1 668.2 408.1 680.2 405.9 689.2 402.6 697.7 398.6 704.1 394.6 708.0 389.6 710.3ZM136.9 609.2 131.9 609.1 127.9 607.9 123.9 605.6 120.0 602.1 117.7 599.1 115.7 595.1 114.0 585.1 113.9 564.1 114.8 556.1 116.6 549.1 119.2 543.1 122.9 538.4 126.9 535.7 130.9 534.8 135.9 534.9 139.9 536.0 143.9 538.3 146.9 541.3 149.4 545.1 151.6 550.1 153.0 556.1 153.9 563.1 154.0 584.1 153.0 592.1 151.4 598.1 148.9 603.1 146.0 606.1 141.9 608.2 136.9 609.2ZM340.7 609.2 335.7 609.1 331.7 607.9 327.7 605.6 323.7 602.1 321.4 599.1 319.5 595.1 317.7 585.1 317.6 564.1 318.6 556.1 320.3 549.1 323.0 543.1 326.7 538.4 330.7 535.7 334.7 534.8 339.7 534.9 343.6 536.0 347.6 538.3 350.6 541.3 353.2 545.1 355.3 550.1 356.8 556.1 357.7 563.1 357.7 584.1 356.7 592.1 355.1 598.1 352.6 603.1 349.7 606.1 345.6 608.2 340.7 609.2ZM89.0 703.3 84.0 703.5 80.0 702.0 76.0 698.8 71.8 693.2 68.3 686.2 65.5 678.2 63.4 669.2 61.9 658.2 61.7 642.2 62.8 636.2 64.8 631.2 68.0 626.6 72.0 623.1 77.0 620.6 82.0 619.6 87.0 619.7 91.0 620.7 96.0 623.1 100.5 626.2 105.0 630.2 107.4 633.2 109.2 637.2 109.9 641.2 108.7 666.2 107.3 675.2 105.3 683.2 101.9 691.0 97.9 697.0 94.0 700.8 89.0 703.3ZM292.7 703.3 287.7 703.5 283.7 702.0 279.7 698.8 275.5 693.2 272.0 686.2 269.2 678.2 267.1 669.2 265.6 658.2 265.4 642.2 266.6 636.2 268.6 631.2 271.7 626.6 275.7 623.1 280.7 620.6 285.7 619.6 290.7 619.7 294.7 620.7 299.7 623.1 304.2 626.2 308.8 630.2 311.2 633.2 313.0 637.2 313.6 641.2 312.4 666.2 311.1 675.2 309.0 683.2 305.7 691.0 301.7 697.0 297.7 700.8 292.7 703.3Z"/>
<path fill="#f9c4a9" fill-rule="evenodd" d="M186.8 700.4 183.8 701.1 181.8 700.9 177.9 698.4 173.9 692.8 170.3 684.2 167.4 672.2 165.7 658.2 165.2 643.2 166.4 636.2 169.9 629.6 174.9 625.2 180.8 622.7 192.8 620.6 198.8 618.8 202.8 616.5 211.0 610.1 221.8 605.3 224.4 603.1 225.4 601.1 225.6 598.1 223.4 585.1 223.2 575.1 224.0 564.1 225.8 555.1 228.6 548.1 231.8 543.9 233.8 542.4 236.8 541.4 241.8 541.9 244.8 544.0 247.5 548.1 249.5 553.1 250.9 559.1 252.0 569.1 252.2 581.1 251.7 587.1 250.6 592.1 248.7 596.1 245.8 599.5 241.8 601.9 231.8 605.5 227.8 607.5 218.6 617.2 209.5 624.2 206.8 627.2 205.4 632.2 206.1 643.2 205.0 657.2 203.5 668.2 201.3 678.2 198.6 686.2 195.0 693.2 190.8 698.0 186.8 700.4ZM390.6 700.4 387.6 701.1 385.6 700.9 381.6 698.4 377.6 692.8 374.1 684.2 371.2 672.2 369.4 658.2 368.9 643.2 370.2 636.2 373.6 629.6 378.6 625.2 384.6 622.7 396.6 620.6 402.6 618.8 406.6 616.5 414.7 610.1 425.5 605.3 428.2 603.1 429.1 601.1 429.4 598.1 427.1 585.1 426.9 575.1 427.7 564.1 429.5 555.1 432.3 548.1 435.5 543.9 437.5 542.4 440.5 541.4 445.5 541.9 448.5 544.0 451.4 548.1 453.4 553.1 454.9 559.1 456.1 568.1 456.6 579.1 456.2 586.1 455.1 591.1 452.7 596.1 449.5 599.5 445.5 601.9 435.5 605.5 431.5 607.5 422.3 617.2 413.2 624.2 410.6 627.1 409.2 632.2 409.8 643.2 408.8 657.2 407.2 668.2 405.0 678.2 402.4 686.2 398.8 693.2 394.6 698.0 390.6 700.4ZM135.9 601.2 131.9 601.5 128.9 601.0 125.9 599.4 123.9 597.6 121.9 594.7 120.4 591.1 118.5 581.1 118.7 567.1 119.7 561.1 121.1 556.1 123.0 552.1 125.9 548.5 128.9 546.7 131.9 546.1 135.9 546.4 138.9 547.5 141.9 549.7 143.9 552.1 147.2 559.1 148.9 569.1 148.9 582.1 146.9 591.1 144.9 595.1 142.3 598.1 139.3 600.1 135.9 601.2ZM339.7 601.2 335.7 601.5 332.7 601.0 329.7 599.4 327.7 597.6 325.7 594.7 324.1 591.1 322.3 581.1 322.5 567.1 323.4 561.1 324.8 556.1 326.7 552.1 329.7 548.5 332.7 546.7 335.7 546.1 339.7 546.4 342.6 547.5 345.6 549.7 347.6 552.1 350.9 559.1 352.7 569.1 352.6 582.1 350.6 591.1 348.6 595.1 346.1 598.1 343.1 600.1 339.7 601.2ZM87.0 692.2 83.0 691.8 79.0 689.4 75.4 685.2 72.6 680.2 69.9 673.2 67.8 665.2 66.6 657.2 66.0 648.2 66.6 639.2 68.1 635.2 70.5 631.2 73.4 628.2 77.0 625.8 81.0 624.2 85.0 623.7 89.0 624.1 93.0 625.3 99.9 629.8 103.0 633.2 104.7 636.2 106.3 643.2 106.0 653.2 105.0 662.2 103.4 670.2 101.2 677.2 98.2 683.2 95.0 687.6 91.0 690.9 87.0 692.2ZM290.7 692.2 286.7 691.8 282.7 689.4 279.1 685.2 276.3 680.2 273.6 673.2 271.6 665.2 270.4 657.2 269.7 648.2 270.4 639.2 271.8 635.2 274.3 631.2 277.2 628.2 280.7 625.8 284.7 624.2 288.7 623.7 292.7 624.1 296.7 625.3 303.7 629.8 306.7 633.2 308.5 636.2 310.1 643.2 309.7 653.2 308.8 662.2 307.2 670.2 304.9 677.2 302.0 683.2 298.7 687.6 294.7 690.9 290.7 692.2Z"/>
<path fill="#f4a281" fill-rule="evenodd" d="M239.8 598.2 234.8 598.7 232.8 598.2 230.8 596.5 227.5 590.1 226.0 582.1 226.6 568.1 228.8 558.0 230.8 553.7 232.8 551.1 234.8 549.6 237.8 548.8 241.8 549.6 243.8 551.2 245.8 554.2 248.6 563.1 249.7 574.1 249.6 584.1 247.9 591.1 244.8 595.5 239.8 598.2ZM443.5 598.2 438.5 598.7 436.5 598.2 434.5 596.5 431.3 590.1 429.8 582.1 430.3 568.1 432.5 558.0 434.5 553.7 436.5 551.1 438.5 549.6 441.5 548.8 444.5 549.1 446.5 550.2 450.0 555.1 452.5 563.1 453.7 574.1 453.6 584.1 452.2 590.1 450.6 593.1 448.5 595.6 443.5 598.2ZM135.9 591.2 130.9 591.6 127.9 590.0 125.4 586.1 124.0 580.1 124.0 571.1 125.4 564.1 127.9 559.6 129.9 558.2 131.9 557.7 135.9 558.2 138.9 560.5 141.1 564.1 142.6 570.1 142.9 578.1 141.8 584.1 139.9 588.1 137.9 590.2 135.9 591.2ZM339.7 591.2 334.7 591.6 331.7 590.0 329.2 586.1 327.8 580.1 327.7 571.1 329.1 564.1 331.7 559.6 333.7 558.2 335.7 557.7 339.7 558.2 342.6 560.5 344.8 564.1 346.3 570.1 346.6 578.1 345.6 584.1 343.6 588.1 341.7 590.2 339.7 591.2ZM185.8 693.2 181.8 693.4 178.9 691.5 175.5 687.2 172.5 680.2 170.3 672.2 168.6 662.2 167.6 650.2 167.8 641.2 168.7 637.2 170.5 633.2 172.9 630.1 176.5 627.2 179.8 625.6 183.8 624.6 191.8 623.6 196.8 623.6 198.8 624.2 200.6 626.2 203.2 640.2 203.1 650.2 201.7 662.2 199.1 674.2 195.6 683.2 190.8 690.1 188.8 691.8 185.8 693.2ZM389.6 693.2 385.6 693.4 382.6 691.5 379.3 687.2 376.2 680.2 374.0 672.2 372.3 662.2 371.4 650.2 371.5 641.2 372.4 637.2 374.3 633.2 376.6 630.1 380.2 627.2 383.6 625.6 387.6 624.6 395.6 623.6 400.6 623.6 402.6 624.2 404.4 626.2 406.9 640.2 406.8 650.2 405.5 662.2 402.8 674.2 399.4 683.2 394.6 690.1 392.6 691.8 389.6 693.2ZM87.0 683.2 84.0 683.1 81.0 681.5 78.0 678.4 75.4 674.2 73.0 668.2 71.4 662.2 69.7 648.2 70.2 640.2 73.0 634.2 78.0 629.7 81.0 628.3 85.0 627.6 89.0 627.9 92.0 628.7 97.4 632.2 101.1 637.2 102.2 640.2 102.8 644.2 101.6 659.2 98.3 671.2 96.0 675.8 93.0 679.8 90.0 682.2 87.0 683.2ZM290.7 683.2 287.7 683.1 284.7 681.5 281.7 678.4 279.2 674.2 276.8 668.2 275.2 662.2 273.5 648.2 274.0 640.2 276.8 634.2 281.7 629.7 284.7 628.3 288.7 627.6 292.7 627.9 295.7 628.7 301.1 632.2 304.9 637.2 306.0 640.2 306.5 644.2 305.3 659.2 302.0 671.2 299.7 675.8 296.7 679.8 293.7 682.2 290.7 683.2Z"/>
<path fill="#e8795a" fill-rule="evenodd" d="M240.8 593.4 235.8 593.6 232.8 591.9 230.3 588.1 229.0 582.1 229.2 572.1 230.8 564.0 233.8 558.2 235.8 556.7 237.8 556.2 240.8 556.6 243.8 559.7 245.8 565.0 246.9 572.1 247.2 581.1 246.5 586.1 244.0 591.1 240.8 593.4ZM444.5 593.4 439.5 593.6 436.5 591.9 434.1 588.1 432.7 582.1 433.0 572.1 434.5 564.0 437.5 558.2 439.5 556.7 441.5 556.2 444.5 556.6 447.5 559.7 449.6 565.1 450.8 573.1 451.0 581.1 450.4 586.1 448.5 590.3 446.5 592.3 444.5 593.4ZM184.8 686.3 181.8 686.2 178.9 684.0 175.9 679.4 173.9 674.4 172.0 667.2 170.7 659.2 170.0 642.2 170.8 638.2 172.2 635.2 174.3 632.2 176.9 629.8 182.8 627.2 187.8 626.5 191.8 626.6 194.8 627.6 196.6 629.2 199.2 635.2 200.6 643.2 199.9 655.2 197.7 667.2 194.1 677.2 189.8 683.4 187.6 685.2 184.8 686.3ZM388.6 686.3 385.6 686.2 382.6 684.0 379.6 679.4 377.6 674.4 375.7 667.2 374.4 659.2 373.7 642.2 374.6 638.2 375.9 635.2 378.0 632.2 380.6 629.8 386.6 627.2 391.6 626.5 395.6 626.6 398.6 627.6 400.4 629.2 402.9 635.2 404.4 643.2 403.6 655.2 401.4 667.2 397.9 677.2 393.6 683.4 391.4 685.2 388.6 686.3ZM87.0 674.4 84.0 674.2 82.0 673.1 78.0 667.9 74.9 659.2 73.4 648.2 73.6 642.2 75.5 637.2 79.6 633.2 85.0 631.4 90.2 632.2 95.0 635.1 97.9 639.2 99.0 644.2 98.2 655.2 95.8 664.2 92.0 671.2 89.8 673.2 87.0 674.4ZM290.7 674.4 287.7 674.2 285.7 673.1 281.7 667.9 278.7 659.2 277.2 648.2 277.3 642.2 279.3 637.2 283.4 633.2 288.7 631.4 294.0 632.2 298.7 635.1 301.6 639.2 302.8 644.2 301.9 655.2 299.6 664.2 295.7 671.2 293.5 673.2 290.7 674.4Z"/>
<path fill="#d24c45" fill-rule="evenodd" d="M238.8 588.2 235.8 587.5 234.3 586.1 232.9 583.1 232.7 580.1 233.0 574.1 234.3 569.1 235.8 566.7 236.8 565.9 238.8 565.6 240.8 566.6 242.6 570.1 243.8 580.1 242.8 585.3 240.8 587.6 238.8 588.2ZM442.5 588.2 439.5 587.5 438.0 586.1 436.7 583.1 436.4 580.1 436.8 574.1 438.0 569.1 439.5 566.7 440.5 565.9 442.5 565.6 444.5 566.6 446.4 570.1 447.3 575.1 447.6 580.1 446.5 585.4 444.5 587.6 442.5 588.2ZM184.8 678.4 181.8 678.2 179.8 676.7 177.9 673.9 175.9 669.3 173.2 657.2 172.4 643.2 173.9 637.6 177.0 633.2 181.8 630.3 187.8 629.5 191.8 630.5 193.7 632.2 195.0 634.2 197.3 641.2 197.3 648.2 195.8 659.7 193.0 669.2 188.8 675.8 184.8 678.4ZM388.6 678.4 385.6 678.2 383.6 676.7 381.6 673.9 379.6 669.3 377.0 657.2 376.2 643.2 377.6 637.6 380.8 633.2 385.6 630.3 391.6 629.5 395.6 630.5 397.5 632.2 398.8 634.2 401.0 641.2 401.0 648.2 399.6 659.7 396.7 669.2 392.6 675.8 388.6 678.4ZM87.0 663.5 84.0 663.1 81.0 659.6 79.0 654.1 77.9 646.2 78.3 642.2 79.8 639.2 82.2 637.2 86.0 636.2 89.0 636.8 92.0 638.9 93.5 641.2 94.2 644.2 93.7 651.2 92.2 657.2 90.0 661.2 87.0 663.5ZM290.7 663.5 287.7 663.1 284.7 659.6 282.7 654.1 281.7 646.2 282.0 642.2 283.6 639.2 286.0 637.2 289.7 636.2 292.7 636.8 295.7 638.9 297.2 641.2 298.0 644.2 297.5 651.2 295.9 657.2 293.7 661.2 290.7 663.5Z"/>
<path fill="#b2182b" fill-rule="evenodd" d="M184.8 666.6 182.8 666.8 181.8 666.4 178.9 661.9 176.9 653.9 176.1 644.2 176.8 640.2 178.9 636.8 181.8 634.5 185.8 633.8 188.8 634.7 190.8 636.8 192.3 640.2 192.8 644.2 191.9 653.2 190.3 659.2 187.8 664.1 184.8 666.6ZM388.6 666.6 386.6 666.8 385.6 666.4 382.6 661.9 380.6 653.9 379.9 644.2 380.6 640.2 382.6 636.8 385.6 634.5 389.6 633.8 392.6 634.7 394.6 636.8 396.1 640.2 396.6 644.2 395.6 653.2 394.1 659.2 391.6 664.1 388.6 666.6Z"/>
<path d="M106.6 596.9 C115.1 588.1 139.3 557.0 157.5 543.9 C175.7 530.8 206.2 522.7 216.0 518.5" fill="none" stroke="#000" stroke-width="4.6" stroke-dasharray="17 13.5"/>
<path d="M213.1 635.9 C220.5 643.7 238.7 670.0 257.6 682.6 C276.5 695.2 314.9 706.6 326.3 711.4" fill="none" stroke="#000" stroke-width="4.6" stroke-dasharray="17 13.5"/>
<path d="M307.2 600.3 C315.7 590.8 340.1 556.7 358.1 543.1 C376.1 529.5 405.8 522.6 415.4 518.5" fill="none" stroke="#000" stroke-width="4.6" stroke-dasharray="17 13.5"/>
<path d="M151.9 537.5L163.1 550.3M163.1 537.5L151.9 550.3" stroke="#f00" stroke-width="2.6" fill="none"/>
<path d="M252.0 676.2L263.2 689.0M263.2 676.2L252.0 689.0" stroke="#f00" stroke-width="2.6" fill="none"/>
<path d="M352.5 536.7L363.7 549.5M363.7 536.7L352.5 549.5" stroke="#f00" stroke-width="2.6" fill="none"/>
<path d="M249.7 592.7L262.9 592.7M256.3 586.2L256.3 599.2" stroke="#f00" stroke-width="2.5" fill="none"/>
<path d="M147.9 630.0L161.1 630.0M154.5 623.5L154.5 636.5" stroke="#f00" stroke-width="2.5" fill="none"/>
<path d="M352.4 630.0L365.6 630.0M359.0 623.5L359.0 636.5" stroke="#f00" stroke-width="2.5" fill="none"/>
</g>
<rect x="187.30" y="452.8" width="6.00" height="19.7" fill="#2464ad"/>
<rect x="193.00" y="452.8" width="11.72" height="19.7" fill="#3f80ba"/>
<rect x="204.42" y="452.8" width="11.72" height="19.7" fill="#5a9ecb"/>
<rect x="215.84" y="452.8" width="11.72" height="19.7" fill="#8dbedb"/>
<rect x="227.26" y="452.8" width="11.72" height="19.7" fill="#bcd9ea"/>
<rect x="238.68" y="452.8" width="11.72" height="19.7" fill="#e2edf5"/>
<rect x="273.20" y="452.8" width="11.70" height="19.7" fill="#fde4d6"/>
<rect x="284.60" y="452.8" width="11.70" height="19.7" fill="#f9c4a9"/>
<rect x="296.00" y="452.8" width="11.70" height="19.7" fill="#f4a281"/>
<rect x="307.40" y="452.8" width="11.70" height="19.7" fill="#e8795a"/>
<rect x="318.80" y="452.8" width="11.70" height="19.7" fill="#d24c45"/>
<rect x="330.20" y="452.8" width="6.10" height="19.7" fill="#b2182b"/>
<text x="193.0" y="488.5" text-anchor="middle" class="cb">-0.012</text>
<text x="238.8" y="488.5" text-anchor="middle" class="cb">-0.004</text>
<text x="284.6" y="488.5" text-anchor="middle" class="cb">0.004</text>
<text x="330.2" y="488.5" text-anchor="middle" class="cb">0.012</text>
<line x1="57.0" y1="780.3" x2="60.8" y2="780.3" stroke="#3a3a3a" stroke-width="1"/>
<line x1="57.0" y1="770.6" x2="60.8" y2="770.6" stroke="#3a3a3a" stroke-width="1"/>
<line x1="57.0" y1="760.9" x2="63.8" y2="760.9" stroke="#000" stroke-width="1.6"/>
<line x1="57.0" y1="751.2" x2="60.8" y2="751.2" stroke="#3a3a3a" stroke-width="1"/>
<line x1="57.0" y1="741.5" x2="60.8" y2="741.5" stroke="#3a3a3a" stroke-width="1"/>
<line x1="57.0" y1="731.8" x2="60.8" y2="731.8" stroke="#3a3a3a" stroke-width="1"/>
<line x1="57.0" y1="722.0" x2="60.8" y2="722.0" stroke="#3a3a3a" stroke-width="1"/>
<line x1="57.0" y1="712.3" x2="63.8" y2="712.3" stroke="#000" stroke-width="1.6"/>
<line x1="57.0" y1="702.6" x2="60.8" y2="702.6" stroke="#3a3a3a" stroke-width="1"/>
<line x1="57.0" y1="692.9" x2="60.8" y2="692.9" stroke="#3a3a3a" stroke-width="1"/>
<line x1="57.0" y1="683.2" x2="60.8" y2="683.2" stroke="#3a3a3a" stroke-width="1"/>
<line x1="57.0" y1="673.5" x2="60.8" y2="673.5" stroke="#3a3a3a" stroke-width="1"/>
<line x1="57.0" y1="663.7" x2="63.8" y2="663.7" stroke="#000" stroke-width="1.6"/>
<line x1="57.0" y1="654.0" x2="60.8" y2="654.0" stroke="#3a3a3a" stroke-width="1"/>
<line x1="57.0" y1="644.3" x2="60.8" y2="644.3" stroke="#3a3a3a" stroke-width="1"/>
<line x1="57.0" y1="634.6" x2="60.8" y2="634.6" stroke="#3a3a3a" stroke-width="1"/>
<line x1="57.0" y1="624.9" x2="60.8" y2="624.9" stroke="#3a3a3a" stroke-width="1"/>
<line x1="57.0" y1="615.2" x2="63.8" y2="615.2" stroke="#000" stroke-width="1.6"/>
<line x1="57.0" y1="605.4" x2="60.8" y2="605.4" stroke="#3a3a3a" stroke-width="1"/>
<line x1="57.0" y1="595.7" x2="60.8" y2="595.7" stroke="#3a3a3a" stroke-width="1"/>
<line x1="57.0" y1="586.0" x2="60.8" y2="586.0" stroke="#3a3a3a" stroke-width="1"/>
<line x1="57.0" y1="576.3" x2="60.8" y2="576.3" stroke="#3a3a3a" stroke-width="1"/>
<line x1="57.0" y1="566.6" x2="63.8" y2="566.6" stroke="#000" stroke-width="1.6"/>
<line x1="57.0" y1="556.8" x2="60.8" y2="556.8" stroke="#3a3a3a" stroke-width="1"/>
<line x1="57.0" y1="547.1" x2="60.8" y2="547.1" stroke="#3a3a3a" stroke-width="1"/>
<line x1="57.0" y1="537.4" x2="60.8" y2="537.4" stroke="#3a3a3a" stroke-width="1"/>
<line x1="57.0" y1="527.7" x2="60.8" y2="527.7" stroke="#3a3a3a" stroke-width="1"/>
<line x1="57.0" y1="518.0" x2="63.8" y2="518.0" stroke="#000" stroke-width="1.6"/>
<line x1="57.0" y1="508.3" x2="60.8" y2="508.3" stroke="#3a3a3a" stroke-width="1"/>
<line x1="57.0" y1="498.5" x2="60.8" y2="498.5" stroke="#3a3a3a" stroke-width="1"/>
<line x1="57.0" y1="488.8" x2="60.8" y2="488.8" stroke="#3a3a3a" stroke-width="1"/>
<line x1="57.0" y1="479.1" x2="60.8" y2="479.1" stroke="#3a3a3a" stroke-width="1"/>
<line x1="57.0" y1="469.4" x2="63.8" y2="469.4" stroke="#000" stroke-width="1.6"/>
<line x1="57.0" y1="459.7" x2="60.8" y2="459.7" stroke="#3a3a3a" stroke-width="1"/>
<line x1="57.0" y1="450.0" x2="60.8" y2="450.0" stroke="#3a3a3a" stroke-width="1"/>
<line x1="464.5" y1="785.2" x2="464.5" y2="777.7" stroke="#000" stroke-width="1.6"/>
<line x1="454.3" y1="785.2" x2="454.3" y2="780.6" stroke="#3a3a3a" stroke-width="1"/>
<line x1="444.1" y1="785.2" x2="444.1" y2="780.6" stroke="#3a3a3a" stroke-width="1"/>
<line x1="433.9" y1="785.2" x2="433.9" y2="780.6" stroke="#3a3a3a" stroke-width="1"/>
<line x1="423.8" y1="785.2" x2="423.8" y2="780.6" stroke="#3a3a3a" stroke-width="1"/>
<line x1="413.6" y1="785.2" x2="413.6" y2="777.7" stroke="#000" stroke-width="1.6"/>
<line x1="403.4" y1="785.2" x2="403.4" y2="780.6" stroke="#3a3a3a" stroke-width="1"/>
<line x1="393.2" y1="785.2" x2="393.2" y2="780.6" stroke="#3a3a3a" stroke-width="1"/>
<line x1="383.0" y1="785.2" x2="383.0" y2="780.6" stroke="#3a3a3a" stroke-width="1"/>
<line x1="372.8" y1="785.2" x2="372.8" y2="780.6" stroke="#3a3a3a" stroke-width="1"/>
<line x1="362.6" y1="785.2" x2="362.6" y2="777.7" stroke="#000" stroke-width="1.6"/>
<line x1="352.4" y1="785.2" x2="352.4" y2="780.6" stroke="#3a3a3a" stroke-width="1"/>
<line x1="342.2" y1="785.2" x2="342.2" y2="780.6" stroke="#3a3a3a" stroke-width="1"/>
<line x1="332.1" y1="785.2" x2="332.1" y2="780.6" stroke="#3a3a3a" stroke-width="1"/>
<line x1="321.9" y1="785.2" x2="321.9" y2="780.6" stroke="#3a3a3a" stroke-width="1"/>
<line x1="311.7" y1="785.2" x2="311.7" y2="777.7" stroke="#000" stroke-width="1.6"/>
<line x1="301.5" y1="785.2" x2="301.5" y2="780.6" stroke="#3a3a3a" stroke-width="1"/>
<line x1="291.3" y1="785.2" x2="291.3" y2="780.6" stroke="#3a3a3a" stroke-width="1"/>
<line x1="281.1" y1="785.2" x2="281.1" y2="780.6" stroke="#3a3a3a" stroke-width="1"/>
<line x1="270.9" y1="785.2" x2="270.9" y2="780.6" stroke="#3a3a3a" stroke-width="1"/>
<line x1="260.8" y1="785.2" x2="260.8" y2="777.7" stroke="#000" stroke-width="1.6"/>
<line x1="250.6" y1="785.2" x2="250.6" y2="780.6" stroke="#3a3a3a" stroke-width="1"/>
<line x1="240.4" y1="785.2" x2="240.4" y2="780.6" stroke="#3a3a3a" stroke-width="1"/>
<line x1="230.2" y1="785.2" x2="230.2" y2="780.6" stroke="#3a3a3a" stroke-width="1"/>
<line x1="220.0" y1="785.2" x2="220.0" y2="780.6" stroke="#3a3a3a" stroke-width="1"/>
<line x1="209.8" y1="785.2" x2="209.8" y2="777.7" stroke="#000" stroke-width="1.6"/>
<line x1="199.6" y1="785.2" x2="199.6" y2="780.6" stroke="#3a3a3a" stroke-width="1"/>
<line x1="189.4" y1="785.2" x2="189.4" y2="780.6" stroke="#3a3a3a" stroke-width="1"/>
<line x1="179.2" y1="785.2" x2="179.2" y2="780.6" stroke="#3a3a3a" stroke-width="1"/>
<line x1="169.1" y1="785.2" x2="169.1" y2="780.6" stroke="#3a3a3a" stroke-width="1"/>
<line x1="158.9" y1="785.2" x2="158.9" y2="777.7" stroke="#000" stroke-width="1.6"/>
<line x1="148.7" y1="785.2" x2="148.7" y2="780.6" stroke="#3a3a3a" stroke-width="1"/>
<line x1="138.5" y1="785.2" x2="138.5" y2="780.6" stroke="#3a3a3a" stroke-width="1"/>
<line x1="128.3" y1="785.2" x2="128.3" y2="780.6" stroke="#3a3a3a" stroke-width="1"/>
<line x1="118.1" y1="785.2" x2="118.1" y2="780.6" stroke="#3a3a3a" stroke-width="1"/>
<line x1="107.9" y1="785.2" x2="107.9" y2="777.7" stroke="#000" stroke-width="1.6"/>
<line x1="97.8" y1="785.2" x2="97.8" y2="780.6" stroke="#3a3a3a" stroke-width="1"/>
<line x1="87.6" y1="785.2" x2="87.6" y2="780.6" stroke="#3a3a3a" stroke-width="1"/>
<line x1="77.4" y1="785.2" x2="77.4" y2="780.6" stroke="#3a3a3a" stroke-width="1"/>
<line x1="67.2" y1="785.2" x2="67.2" y2="780.6" stroke="#3a3a3a" stroke-width="1"/>
<line x1="57.0" y1="785.2" x2="57.0" y2="777.7" stroke="#000" stroke-width="1.6"/>
<rect x="57.0" y="445.1" width="407.5" height="340.1" fill="none" stroke="#000" stroke-width="2"/>
<text x="52.7" y="767.7" text-anchor="end" class="tl">-3</text>
<text x="52.7" y="719.1" text-anchor="end" class="tl">-2</text>
<text x="52.7" y="670.5" text-anchor="end" class="tl">-1</text>
<text x="52.7" y="622.0" text-anchor="end" class="tl">0</text>
<text x="52.7" y="573.4" text-anchor="end" class="tl">1</text>
<text x="52.7" y="524.8" text-anchor="end" class="tl">2</text>
<text x="52.7" y="476.2" text-anchor="end" class="tl">3</text>
<text x="57.0" y="802.5" text-anchor="middle" class="tl">2</text>
<text x="107.9" y="802.5" text-anchor="middle" class="tl">1.5</text>
<text x="158.9" y="802.5" text-anchor="middle" class="tl">1</text>
<text x="209.8" y="802.5" text-anchor="middle" class="tl">0.5</text>
<text x="260.8" y="802.5" text-anchor="middle" class="tl">0</text>
<text x="311.7" y="802.5" text-anchor="middle" class="tl">-0.5</text>
<text x="362.6" y="802.5" text-anchor="middle" class="tl">-1</text>
<text x="413.6" y="802.5" text-anchor="middle" class="tl">-1.5</text>
<text x="464.5" y="802.5" text-anchor="middle" class="tl">-2</text>
<text transform="translate(28.5 615.2) rotate(-90) scale(0.84 1)" text-anchor="middle" class="yl"><tspan font-style="italic">y</tspan><tspan dy="-0.0">*</tspan></text>
<text x="263.8" y="819.5" text-anchor="middle" class="xl">&#981;(<tspan font-style="italic">&#960;</tspan>)</text>
<text x="73.5" y="479.6" class="pl">(d)</text>
<g clip-path="url(#cpe)">
<path fill="#f2f7fb" fill-rule="evenodd" d="M631.3 717.4 627.3 718.2 623.3 718.0 620.3 717.2 617.3 715.6 614.3 713.1 611.3 709.3 607.1 700.3 604.8 690.3 603.5 677.3 603.5 657.3 605.3 640.3 604.3 635.3 602.3 632.9 595.8 627.3 586.8 618.3 574.3 609.5 567.3 603.3 558.1 592.3 552.3 582.7 552.3 515.7 555.3 516.1 559.3 517.5 568.3 522.8 577.3 530.4 585.9 540.3 590.3 546.8 594.3 554.2 606.3 581.5 610.8 590.3 614.3 595.3 623.6 605.3 625.9 609.3 630.4 620.3 640.3 630.8 644.6 638.3 647.1 647.3 648.3 658.3 648.3 676.3 646.9 690.3 644.5 700.3 641.1 708.3 636.3 714.5 631.3 717.4ZM839.4 717.6 835.4 718.2 831.4 717.9 828.4 717.0 825.4 715.3 822.4 712.6 819.9 709.3 815.7 700.3 813.2 689.3 812.1 677.3 812.1 657.3 813.8 640.3 812.8 635.3 811.4 633.3 804.4 627.3 795.4 618.3 782.4 609.1 775.4 602.8 766.0 591.3 760.4 581.5 758.1 574.3 754.3 557.3 752.5 545.3 751.8 536.3 752.0 528.3 753.3 522.3 755.4 518.4 758.4 516.2 761.4 515.7 765.4 516.5 774.4 521.0 784.4 529.0 793.4 538.8 798.0 545.3 802.4 553.2 814.9 581.3 819.4 590.4 823.0 595.3 832.2 605.3 834.5 609.3 839.0 620.3 848.5 630.3 851.3 634.3 853.2 638.3 855.7 647.3 856.9 658.3 856.9 676.3 855.5 690.3 853.1 700.3 849.4 708.8 844.4 714.9 839.4 717.6ZM686.4 600.5 681.4 601.0 675.4 600.6 671.4 599.3 668.4 597.3 665.9 594.3 663.5 589.3 661.9 583.3 660.9 576.3 660.3 563.3 660.4 551.3 661.2 542.3 663.0 534.3 665.7 527.3 669.4 521.8 673.4 518.6 678.4 517.0 682.4 517.0 686.4 518.1 689.4 520.0 692.5 523.3 694.9 527.3 697.2 533.3 699.7 547.3 700.4 571.3 700.0 579.3 698.9 585.3 696.8 591.3 694.3 595.3 690.4 598.9 686.4 600.5ZM895.5 600.4 890.5 601.0 884.5 600.7 880.5 599.5 877.0 597.3 874.5 594.3 872.1 589.3 870.5 583.3 869.5 576.3 868.9 562.3 869.0 550.3 870.0 541.3 871.9 533.3 874.8 526.3 878.5 521.3 882.5 518.3 887.5 517.0 891.5 517.1 895.5 518.3 898.5 520.4 901.5 523.9 904.0 528.3 905.8 533.3 908.3 547.3 909.1 571.3 907.8 584.3 905.8 590.3 902.9 595.3 899.5 598.6 895.5 600.4ZM730.4 714.3 724.4 714.1 719.4 712.8 715.4 710.5 711.4 706.7 708.4 701.9 706.4 696.3 705.3 690.3 704.7 682.3 705.7 657.3 707.1 648.3 709.4 641.2 712.4 636.6 716.5 633.3 722.4 630.7 728.4 629.8 734.4 630.3 739.4 632.1 743.4 634.8 747.6 639.3 750.4 644.3 752.5 650.3 753.9 657.3 754.5 666.3 754.4 677.3 753.5 686.3 752.0 693.3 749.3 700.3 745.5 706.3 741.4 710.3 736.4 713.1 730.4 714.3ZM938.5 714.3 932.5 714.1 927.5 712.6 923.5 710.1 919.5 706.0 916.7 701.3 914.7 695.3 913.7 688.3 913.3 680.3 914.5 655.3 916.2 646.3 918.4 640.3 921.5 636.1 926.5 632.5 931.5 630.5 937.5 629.8 943.5 630.4 948.5 632.4 952.6 635.3 956.5 639.7 959.6 645.3 961.9 652.3 963.2 659.3 963.7 667.3 963.4 678.3 962.2 687.3 960.1 695.3 957.4 701.3 953.5 707.1 949.5 710.7 944.5 713.3 938.5 714.3Z"/>
<path fill="#d0e4f0" fill-rule="evenodd" d="M630.3 710.3 627.3 710.8 623.3 710.6 620.3 709.7 617.3 707.7 614.3 704.5 612.3 701.4 608.8 692.3 606.5 679.3 606.0 663.3 606.9 651.3 610.3 636.3 610.2 633.3 609.3 631.3 607.3 629.2 598.3 623.1 588.7 613.3 576.3 605.0 569.3 598.9 559.7 587.3 555.8 581.3 552.9 575.3 552.3 573.8 552.3 524.7 555.3 524.4 559.3 525.3 567.3 529.3 576.3 536.6 585.0 546.3 589.8 553.3 594.3 561.3 608.9 593.3 611.6 597.3 617.6 604.3 620.1 608.3 621.6 612.3 623.8 621.3 625.1 624.3 627.8 627.3 634.3 631.6 637.3 634.3 641.9 641.3 644.4 649.3 645.6 659.3 645.5 674.3 644.3 686.3 642.1 695.3 639.1 702.3 635.3 707.3 630.3 710.3ZM838.4 710.5 835.4 710.8 831.4 710.5 828.4 709.4 825.4 707.3 822.8 704.3 820.4 700.4 817.1 691.3 815.0 678.3 814.6 662.3 815.5 651.3 818.9 636.3 818.8 633.3 817.9 631.3 816.0 629.3 807.4 623.5 797.3 613.3 784.4 604.6 778.4 599.4 769.0 588.3 765.0 582.3 761.9 576.3 759.0 568.3 756.4 558.4 754.1 542.3 754.3 535.3 755.3 530.3 756.9 527.3 759.4 525.2 762.4 524.4 765.4 524.7 769.4 525.9 774.4 528.4 783.4 535.2 792.8 545.3 797.8 552.3 802.9 561.3 817.4 593.2 820.2 597.3 826.2 604.3 828.7 608.3 830.2 612.3 832.4 621.3 833.7 624.3 836.4 627.3 845.4 633.7 848.4 637.5 850.9 642.3 853.2 650.3 854.2 660.3 854.1 675.3 852.7 687.3 850.4 696.3 847.1 703.3 843.4 707.8 838.4 710.5ZM683.4 595.4 679.4 595.6 675.4 594.9 672.4 593.4 669.4 590.6 667.3 587.3 665.4 582.3 663.5 570.3 663.7 552.3 664.9 544.3 666.5 538.3 669.3 532.3 672.4 528.5 675.4 526.5 679.4 525.5 683.4 525.8 686.4 527.1 689.4 529.6 691.4 532.4 693.4 536.4 695.3 542.3 697.2 556.3 697.1 573.3 696.2 579.3 694.8 584.3 692.9 588.3 690.4 591.7 687.4 594.1 683.4 595.4ZM892.5 595.3 888.5 595.7 884.5 595.1 881.5 593.8 878.5 591.2 875.9 587.3 874.3 583.3 872.9 577.3 872.2 571.3 872.3 552.3 873.3 545.3 875.1 538.3 877.5 533.0 880.5 529.0 883.5 526.7 887.5 525.6 891.5 525.7 894.5 526.8 897.5 529.1 899.9 532.3 901.9 536.3 903.6 541.3 905.7 554.3 905.9 571.3 905.0 578.3 903.8 583.3 902.1 587.3 899.4 591.3 896.5 593.8 892.5 595.3ZM733.4 706.5 728.4 707.0 723.4 706.5 719.4 705.0 716.4 702.9 713.4 699.6 710.8 695.3 709.0 690.3 707.7 683.3 707.2 674.3 707.6 662.3 708.5 655.3 710.4 648.5 713.1 643.3 716.4 639.9 720.4 637.5 725.4 636.3 730.4 636.2 734.4 636.9 738.4 638.6 741.9 641.3 745.2 645.3 747.3 649.3 749.0 654.3 750.1 660.3 750.6 667.3 750.4 677.3 749.2 685.3 747.6 691.3 744.8 697.3 741.8 701.3 737.4 704.9 733.4 706.5ZM942.5 706.3 937.5 707.0 932.5 706.6 928.5 705.2 925.5 703.3 922.5 700.3 919.5 695.4 917.6 690.3 916.4 684.3 915.8 675.3 916.1 663.3 917.1 655.3 918.7 649.3 921.0 644.3 924.5 640.3 928.5 637.7 933.5 636.4 938.5 636.2 943.5 637.1 947.5 638.9 950.5 641.2 953.5 644.8 955.9 649.3 957.7 654.3 958.8 660.3 959.3 667.3 959.0 677.3 958.1 684.3 956.2 691.3 953.5 697.1 950.5 701.2 946.5 704.6 942.5 706.3Z"/>
<path fill="#a7cce3" fill-rule="evenodd" d="M613.3 621.6 611.3 621.9 607.3 621.3 601.3 618.5 591.3 609.2 579.3 602.4 573.3 598.0 567.3 592.0 561.3 584.3 556.3 575.9 552.3 566.6 552.3 531.8 555.3 531.0 559.3 531.4 563.3 532.7 568.3 535.4 577.7 543.3 586.7 554.3 591.6 562.3 596.7 572.3 605.9 595.3 613.5 606.3 615.0 609.3 615.8 613.3 615.7 617.3 614.8 620.3 613.3 621.6ZM822.4 621.3 820.4 621.9 816.4 621.4 810.4 618.8 799.4 608.9 788.4 602.7 782.4 598.4 776.2 592.3 769.9 584.3 765.6 577.3 762.3 570.3 759.4 562.1 757.4 553.7 756.5 545.3 756.7 539.3 758.3 534.3 760.4 532.1 763.4 531.1 767.4 531.3 771.4 532.5 776.4 535.1 781.4 538.7 786.4 543.4 795.3 554.3 800.4 562.6 805.4 572.6 814.5 595.3 821.4 605.3 823.6 609.3 824.3 612.3 824.4 616.3 823.8 619.3 822.4 621.3ZM682.4 590.4 676.4 589.9 673.4 588.3 671.4 586.3 669.4 583.1 667.9 579.3 666.3 569.3 666.6 554.3 668.8 543.3 671.1 538.3 673.4 535.3 676.4 533.2 679.4 532.4 682.4 532.6 685.4 533.7 687.4 535.4 689.6 538.3 692.7 546.3 694.4 558.3 694.3 571.3 692.4 580.7 690.7 584.3 688.4 587.4 685.4 589.5 682.4 590.4ZM891.5 590.3 887.5 590.5 884.5 589.7 882.0 588.3 880.0 586.3 878.1 583.3 876.5 579.3 874.9 569.3 875.2 554.3 876.3 547.3 877.8 542.3 879.7 538.3 882.5 534.8 885.5 533.0 888.5 532.4 891.5 532.7 894.5 534.1 898.5 538.8 901.6 547.3 903.0 558.3 902.9 571.3 901.1 580.3 899.5 584.0 897.5 586.8 894.5 589.3 891.5 590.3ZM630.3 704.6 626.3 705.3 622.3 704.7 619.3 703.2 616.3 700.4 614.2 697.3 611.9 692.3 609.2 680.3 608.3 662.3 609.7 650.3 612.0 643.3 615.3 636.6 617.3 633.7 620.3 631.9 623.3 632.1 629.3 633.7 632.3 635.1 635.3 637.4 637.8 640.3 640.1 644.3 642.8 654.3 643.4 662.3 643.3 672.3 642.6 680.3 641.1 688.3 639.2 694.3 636.6 699.3 633.3 702.9 630.3 704.6ZM839.4 704.4 835.4 705.2 831.4 704.8 828.4 703.5 825.4 701.0 822.8 697.3 820.5 692.3 817.8 680.3 816.9 662.3 818.3 650.3 820.6 643.3 824.4 635.8 826.4 633.2 829.4 631.9 832.4 632.2 838.4 633.9 841.4 635.4 844.4 637.9 848.7 644.3 851.4 654.3 852.0 661.3 851.9 672.3 850.0 687.3 848.2 693.3 845.4 698.9 842.4 702.5 839.4 704.4ZM729.4 701.3 725.4 701.2 721.4 700.0 718.4 698.0 715.4 694.8 713.3 691.3 711.5 686.3 710.4 680.9 709.8 674.3 710.4 660.3 711.4 655.3 713.4 650.1 715.9 646.3 719.4 643.4 723.4 641.7 727.4 641.1 731.4 641.3 735.4 642.4 738.4 644.2 741.4 647.1 744.0 651.3 745.6 655.3 746.7 660.3 747.3 666.3 746.6 680.3 745.2 686.3 743.3 691.3 740.4 695.8 737.4 698.6 733.4 700.7 729.4 701.3ZM938.5 701.3 934.5 701.2 930.5 700.2 927.5 698.4 924.5 695.5 922.4 692.3 920.4 687.3 919.0 681.3 918.5 675.3 919.0 660.3 920.3 654.3 921.9 650.3 924.5 646.4 927.5 643.7 931.5 641.8 935.5 641.2 939.5 641.3 943.5 642.2 946.5 643.8 949.5 646.5 952.1 650.3 953.9 654.3 955.2 659.3 955.8 665.3 955.9 673.3 955.2 680.3 953.9 686.3 951.9 691.3 949.5 695.2 946.4 698.3 942.5 700.5 938.5 701.3Z"/>
<path fill="#7fb4d6" fill-rule="evenodd" d="M604.3 609.7 601.3 609.2 593.3 603.7 583.3 600.1 577.3 596.9 570.3 591.0 564.0 583.3 557.3 572.0 552.3 559.1 552.3 539.5 553.4 538.3 555.4 537.3 559.3 537.0 563.3 537.9 567.3 539.7 571.3 542.3 576.3 546.6 584.3 556.0 591.2 567.3 597.3 580.3 602.0 598.3 605.5 606.3 605.6 608.3 604.3 609.7ZM813.4 609.4 812.4 609.8 810.4 609.4 802.4 603.9 791.4 599.9 786.4 597.2 779.4 591.5 772.6 583.3 768.4 576.7 764.6 569.3 762.2 563.3 760.2 556.3 759.3 550.3 759.3 544.3 760.4 540.3 762.4 538.0 764.4 537.2 768.4 537.0 772.4 538.0 776.4 539.9 784.6 546.3 793.1 556.3 799.4 566.5 805.5 579.3 807.8 586.3 810.6 598.3 814.1 606.3 814.2 608.3 813.4 609.4ZM684.4 584.3 681.4 585.1 678.4 585.0 674.4 583.0 671.2 578.3 669.3 570.3 669.4 557.4 671.1 548.3 674.4 542.0 676.4 540.3 679.4 539.3 683.4 539.8 685.4 541.1 687.2 543.3 689.5 548.3 691.2 556.3 691.5 567.3 690.5 575.3 688.4 580.4 686.4 582.9 684.4 584.3ZM892.5 584.5 889.5 585.1 886.5 584.9 882.5 582.5 879.5 577.3 877.9 570.3 877.9 558.3 879.5 549.0 882.5 542.7 884.5 540.6 887.5 539.4 891.5 539.6 893.5 540.7 895.5 542.8 898.1 548.3 899.8 556.3 900.1 567.3 899.1 575.3 896.5 581.2 894.5 583.3 892.5 584.5ZM630.3 699.4 627.3 700.1 623.3 699.8 620.3 698.5 617.9 696.3 615.3 692.4 613.6 688.3 611.2 677.3 610.6 661.3 612.3 650.3 614.3 645.3 617.3 640.8 620.3 638.4 623.3 637.5 627.3 637.6 630.3 638.4 633.3 640.1 635.3 642.0 638.9 648.3 640.9 657.3 641.1 672.3 639.3 685.3 637.3 691.1 635.3 694.9 633.3 697.4 630.3 699.4ZM838.4 699.6 835.4 700.2 831.4 699.7 828.4 698.1 825.7 695.3 823.4 691.4 821.8 687.3 819.6 675.3 819.3 660.3 820.0 654.3 821.2 649.3 823.4 644.3 826.4 640.3 829.4 638.2 832.4 637.5 836.4 637.7 839.4 638.6 844.2 642.3 846.1 645.3 847.9 649.3 849.6 658.3 849.6 674.3 847.6 686.3 845.9 691.3 843.7 695.3 841.4 697.8 838.4 699.6ZM732.4 695.6 729.4 696.1 725.4 695.9 722.4 694.9 719.4 692.8 717.3 690.3 715.4 686.9 713.0 678.3 712.7 665.3 714.4 656.3 716.2 652.3 718.6 649.3 721.4 647.3 725.4 645.9 732.4 646.2 737.4 648.8 739.7 651.3 741.5 654.3 743.8 662.3 744.1 674.3 742.2 684.3 740.5 688.3 738.4 691.5 735.4 694.2 732.4 695.6ZM941.5 695.4 938.5 696.0 934.5 695.9 931.5 695.1 928.5 693.2 925.9 690.3 924.2 687.3 921.6 678.3 921.3 665.3 921.9 660.3 923.3 655.3 925.5 651.3 927.5 649.1 930.5 647.0 934.5 645.9 941.5 646.3 946.5 649.3 948.5 651.6 950.5 655.2 952.4 662.3 952.7 674.3 950.8 684.3 949.1 688.3 947.1 691.3 944.5 693.8 941.5 695.4Z"/>
<path fill="#5596c6" fill-rule="evenodd" d="M592.3 595.8 589.3 596.2 585.3 595.9 578.3 593.4 571.3 587.8 565.3 580.4 558.5 568.3 554.9 558.3 554.0 553.3 553.9 549.3 554.6 546.3 556.3 544.0 558.3 543.2 562.3 543.1 565.3 543.8 569.3 545.7 576.3 551.3 583.3 559.7 591.1 573.3 594.9 583.3 595.6 587.3 595.5 591.3 594.3 594.3 592.3 595.8ZM801.4 595.5 798.4 596.2 794.4 596.0 787.4 593.6 780.4 588.3 774.4 581.2 767.4 568.9 763.4 558.1 762.6 553.3 762.5 549.3 763.4 545.9 765.4 543.7 767.4 543.1 771.4 543.1 774.4 544.0 778.4 546.0 785.4 551.8 792.3 560.3 799.4 572.7 803.5 583.3 804.2 587.3 804.1 591.3 803.4 593.5 801.4 595.5ZM683.4 577.4 679.4 578.2 676.4 576.7 674.4 573.8 673.2 569.3 673.0 561.3 674.2 554.3 676.4 549.9 679.4 548.1 682.4 548.4 684.4 550.0 686.4 553.9 687.4 558.3 687.7 565.3 687.3 570.3 685.5 575.3 683.4 577.4ZM891.5 577.7 887.5 578.1 884.5 576.3 882.5 572.4 881.7 568.3 881.7 560.3 882.8 554.3 885.5 549.4 888.5 548.1 891.5 548.7 893.5 550.7 895.1 554.3 896.1 559.3 896.3 566.3 895.7 571.3 894.1 575.3 891.5 577.7ZM629.3 694.5 626.3 694.9 623.3 694.5 621.3 693.6 618.9 691.3 615.3 684.5 613.3 674.3 612.9 661.3 614.4 652.3 616.1 648.3 618.3 645.1 621.3 642.8 624.3 641.9 627.3 641.9 630.3 642.6 634.3 645.8 637.3 651.6 638.9 659.3 638.9 672.3 637.3 682.4 634.1 690.3 632.3 692.5 629.3 694.5ZM837.4 694.6 834.4 694.9 831.4 694.3 828.4 692.4 826.7 690.3 823.4 682.8 821.7 672.3 821.6 660.3 823.4 651.1 825.3 647.3 827.4 644.6 830.4 642.5 833.4 641.8 836.4 641.9 839.4 642.9 843.3 646.3 846.2 652.3 847.6 660.3 847.4 673.3 845.4 684.2 842.0 691.3 839.4 693.7 837.4 694.6ZM729.4 690.4 724.4 689.8 721.8 688.3 719.9 686.3 717.0 680.3 715.8 672.3 716.2 663.3 718.4 656.5 720.4 653.8 722.4 652.2 727.4 650.7 732.4 651.3 736.6 654.3 739.4 659.3 740.8 666.3 740.4 676.3 738.4 683.4 736.4 686.6 734.4 688.6 732.4 689.7 729.4 690.4ZM938.5 690.3 935.5 690.4 932.5 689.6 928.5 686.3 925.6 680.3 924.5 673.5 924.6 664.3 926.5 657.5 928.5 654.3 930.5 652.5 932.5 651.4 935.5 650.7 940.9 651.3 945.2 654.3 948.0 659.3 949.4 666.3 949.0 676.3 947.0 683.3 943.5 688.2 941.5 689.5 938.5 690.3Z"/>
<path fill="#3b7cba" fill-rule="evenodd" d="M587.3 589.7 582.3 589.9 577.3 588.0 572.3 584.1 567.6 578.3 562.3 569.0 559.3 561.3 558.4 554.3 559.0 552.3 560.3 550.6 562.3 549.9 565.3 549.9 570.3 551.7 576.3 556.5 581.3 562.6 587.5 573.3 590.3 581.3 590.3 586.4 589.3 588.4 587.3 589.7ZM796.4 589.5 791.4 590.0 786.4 588.3 781.4 584.6 776.4 578.7 770.6 568.3 767.6 560.3 767.0 556.3 767.2 553.3 768.2 551.3 769.4 550.3 771.4 549.8 774.4 550.0 779.4 552.0 785.4 557.0 790.4 563.3 795.6 572.3 798.7 580.3 799.2 583.3 798.9 586.3 798.0 588.3 796.4 589.5ZM628.3 688.6 625.3 688.8 623.3 688.3 619.9 685.3 617.2 679.3 615.8 670.3 615.8 660.3 617.3 653.5 620.3 648.8 622.3 647.4 625.3 646.6 629.8 647.3 633.2 650.3 635.3 655.0 636.4 661.3 636.3 671.3 634.7 680.3 632.3 685.5 630.3 687.6 628.3 688.6ZM837.4 688.4 835.4 688.8 832.4 688.5 830.4 687.4 828.5 685.3 825.8 679.3 824.4 671.5 824.3 661.3 825.6 654.3 828.5 649.3 830.4 647.7 833.4 646.7 838.4 647.3 841.4 649.8 843.7 654.3 844.9 660.3 845.0 670.3 843.6 679.3 841.0 685.3 839.4 687.2 837.4 688.4ZM730.4 682.4 726.4 682.4 724.2 681.3 721.9 678.3 720.5 673.3 720.4 667.1 721.4 662.3 723.4 659.3 725.4 658.0 727.4 657.5 730.4 657.7 733.4 659.6 735.1 662.3 736.1 666.3 736.2 671.3 735.4 676.3 733.4 680.3 730.4 682.4ZM938.5 682.5 935.5 682.5 932.5 681.0 930.5 678.2 929.1 673.3 929.0 667.3 930.1 662.3 932.5 658.9 935.5 657.6 938.5 657.6 941.5 659.1 943.5 661.8 944.7 666.3 944.7 672.3 943.6 677.3 941.5 680.8 938.5 682.5Z"/>
<path fill="#2464ad" fill-rule="evenodd" d="M582.3 580.4 580.3 581.3 577.3 580.8 574.3 578.9 571.3 575.6 568.3 570.5 566.3 565.3 566.1 562.3 567.3 560.4 569.3 560.1 572.3 561.1 577.3 565.7 582.3 574.5 583.1 578.3 582.3 580.4ZM790.4 580.8 788.4 581.3 785.4 580.6 783.3 579.3 780.4 576.3 777.4 571.4 775.4 566.9 774.7 563.3 775.4 560.8 777.4 560.1 780.4 560.8 783.4 562.9 786.4 566.3 789.4 571.3 791.4 576.1 791.5 579.3 790.4 580.8ZM628.3 678.5 625.3 678.8 623.3 677.8 621.3 674.4 620.3 670.2 620.1 663.3 620.7 659.3 622.3 656.0 625.3 654.2 628.3 654.5 630.3 656.2 631.4 658.3 632.2 662.3 632.2 668.3 631.4 673.3 630.3 676.2 628.3 678.5ZM836.4 678.7 833.4 678.7 831.4 677.2 829.6 673.3 828.8 668.3 828.8 662.3 829.6 658.3 831.4 655.4 834.4 654.2 836.4 654.3 838.4 655.6 840.0 658.3 840.8 662.3 840.8 668.3 840.0 673.3 838.4 677.0 836.4 678.7Z"/>
<path fill="#fde8dc" fill-rule="evenodd" d="M937.5 597.5 933.5 595.8 924.5 589.5 920.8 585.3 918.6 581.3 916.9 576.3 915.7 569.3 915.5 548.3 916.1 537.3 917.7 527.3 919.9 519.3 922.6 513.3 926.5 507.5 930.5 504.0 935.5 501.8 940.5 501.4 946.5 502.7 951.5 506.1 955.6 511.3 959.1 518.3 961.9 527.3 963.9 538.3 964.9 550.3 965.1 563.3 964.4 570.3 963.1 576.3 961.1 581.3 958.0 586.3 954.5 590.0 949.5 593.4 943.5 595.9 937.5 597.5ZM729.4 597.4 726.4 596.7 720.4 593.0 715.4 589.1 712.2 585.3 710.0 581.3 708.1 575.3 706.8 562.3 706.9 547.3 707.6 536.3 709.1 527.3 711.4 519.3 714.7 512.3 718.4 507.4 723.4 504.0 728.4 503.0 733.4 503.7 737.4 505.7 740.7 509.3 743.4 514.6 746.4 527.4 752.0 563.3 752.7 571.3 752.5 576.3 751.4 581.3 749.7 585.3 747.4 588.4 744.4 591.1 740.4 593.6 735.4 595.8 729.4 597.4ZM640.3 597.3 635.3 597.9 629.3 596.6 623.3 593.7 618.3 589.7 614.3 584.9 610.4 578.3 606.8 570.3 604.1 562.3 601.3 551.3 599.7 542.3 599.2 533.3 599.8 525.3 601.8 517.3 604.7 511.3 608.3 507.1 613.3 504.3 618.3 503.6 624.3 504.2 629.3 506.3 633.3 509.3 637.9 514.3 641.8 520.3 645.6 528.3 648.6 537.3 651.1 548.3 652.9 562.3 653.4 572.3 652.8 580.3 651.3 586.6 648.9 591.3 645.3 594.9 640.3 597.3ZM848.4 597.5 843.4 597.8 837.4 596.5 831.4 593.4 826.4 589.2 822.4 584.2 818.4 577.1 815.1 569.3 812.2 560.3 809.5 549.3 808.1 540.3 807.9 531.3 808.8 523.3 810.8 516.3 813.9 510.3 817.4 506.7 822.4 504.2 828.4 503.6 833.4 504.3 838.4 506.6 842.4 509.7 847.2 515.3 850.9 521.3 854.2 528.3 857.2 537.3 859.7 548.3 861.5 562.3 862.0 572.3 861.4 580.3 860.0 586.3 857.4 591.4 853.4 595.3 848.4 597.5ZM684.4 709.4 680.4 710.1 676.4 710.0 672.4 708.9 669.4 707.1 666.4 704.2 663.6 700.3 659.6 691.3 657.8 684.3 656.4 675.3 655.3 653.3 656.0 638.3 657.1 632.3 658.9 626.3 663.4 618.2 666.4 615.2 669.7 613.3 675.4 612.0 687.4 611.7 692.4 611.0 697.3 609.3 712.4 602.6 726.4 598.7 728.4 598.6 731.2 601.3 732.0 604.3 731.6 607.3 729.6 611.3 726.3 615.3 722.0 619.3 707.4 630.5 704.8 633.3 703.2 636.3 702.2 641.3 699.9 677.3 697.4 692.6 695.4 698.5 692.4 703.6 688.4 707.5 684.4 709.4ZM892.5 709.5 888.5 710.1 884.5 709.9 880.5 708.6 877.5 706.7 874.5 703.6 872.2 700.3 867.9 690.3 866.0 682.3 864.9 674.3 863.9 650.3 864.9 636.3 867.9 625.3 869.8 621.3 872.5 617.6 875.5 614.8 878.5 613.2 883.5 612.1 895.5 611.7 900.5 611.1 905.5 609.5 920.5 602.8 934.5 598.8 937.5 598.8 939.5 600.8 940.6 604.3 940.2 607.3 938.2 611.3 934.9 615.3 930.6 619.3 915.5 631.0 913.4 633.3 911.8 636.3 910.8 641.3 908.5 677.3 906.0 692.3 903.6 699.3 900.5 704.2 896.5 707.8 892.5 709.5ZM577.3 708.4 572.3 708.7 568.3 707.9 565.3 706.2 562.3 703.2 559.9 699.3 557.5 693.3 555.8 686.3 554.7 677.3 554.2 655.3 555.0 647.3 556.4 641.3 559.0 635.3 562.3 631.1 566.3 628.4 570.3 627.3 575.3 627.5 580.3 628.8 584.3 631.0 588.2 634.3 591.4 638.3 593.6 642.3 595.2 647.3 596.0 653.3 596.3 664.3 595.9 675.3 594.7 684.3 593.0 691.3 589.9 698.3 586.3 703.2 582.3 706.4 577.3 708.4ZM785.4 708.5 780.4 708.7 776.4 707.7 773.4 705.8 770.3 702.3 767.6 697.3 765.5 691.3 764.1 684.3 763.1 675.3 762.8 654.3 763.6 647.3 765.0 641.3 767.4 635.7 770.7 631.3 774.4 628.6 779.4 627.3 784.4 627.5 789.4 629.0 793.4 631.3 797.4 635.0 800.7 639.3 802.6 643.3 804.0 648.3 804.7 654.3 804.9 666.3 804.3 677.3 803.2 685.3 801.3 692.3 798.4 698.5 794.4 703.7 790.4 706.7 785.4 708.5Z"/>
<path fill="#fcd3bd" fill-rule="evenodd" d="M945.5 589.4 940.5 590.0 934.5 589.5 930.5 588.1 926.5 585.5 923.5 582.2 921.2 578.3 919.4 573.3 918.4 567.3 918.1 556.3 918.7 544.3 920.1 534.3 922.2 526.3 925.2 519.3 928.5 514.6 932.5 511.3 937.5 509.6 942.5 509.7 946.5 511.0 949.6 513.3 953.0 517.3 955.7 522.3 957.9 528.3 959.8 536.3 960.9 544.3 961.5 564.3 960.8 570.3 959.5 575.3 957.2 580.3 954.1 584.3 950.5 587.2 945.5 589.4ZM736.4 589.5 731.4 590.0 726.4 589.6 722.4 588.3 718.4 585.9 714.9 582.3 712.6 578.3 710.8 573.3 709.9 568.3 709.5 559.3 709.9 546.3 711.1 536.3 712.9 528.3 715.6 521.3 719.4 515.5 723.4 512.3 727.4 511.1 731.4 511.4 735.4 513.0 738.4 515.7 741.4 520.6 743.4 526.1 745.4 534.2 750.2 563.3 750.3 573.3 748.2 580.3 746.3 583.3 743.4 586.2 740.4 588.1 736.4 589.5ZM636.3 591.5 631.3 591.6 626.3 590.4 622.3 588.4 618.6 585.3 615.3 581.3 611.7 575.3 609.1 569.3 607.0 562.3 604.9 552.3 603.9 544.3 603.9 536.3 604.7 529.3 606.4 523.3 609.1 518.3 612.3 515.1 616.3 513.3 621.3 512.9 625.3 513.5 629.3 515.3 633.3 518.6 637.3 523.5 640.7 529.3 643.7 536.3 646.1 544.3 648.0 553.3 649.6 564.3 649.7 571.3 649.1 577.3 647.3 582.8 644.4 587.3 640.3 590.3 636.3 591.5ZM845.4 591.4 840.4 591.6 835.4 590.6 831.4 588.7 827.4 585.5 823.9 581.3 820.9 576.3 818.1 570.3 815.8 563.3 813.7 553.3 812.6 545.3 812.4 537.3 813.1 530.3 814.7 524.3 817.4 518.7 820.4 515.5 824.4 513.4 828.4 512.9 833.4 513.4 837.4 515.0 841.7 518.3 845.4 522.8 848.8 528.3 851.9 535.3 854.4 543.3 856.6 553.3 858.1 563.3 858.3 571.3 857.7 577.3 856.2 582.3 853.4 586.7 849.4 590.0 845.4 591.4ZM680.4 702.4 676.4 702.2 673.4 701.4 668.4 697.6 663.8 690.3 660.9 681.3 658.8 667.3 658.3 649.3 659.6 637.3 662.3 628.3 664.4 624.5 666.8 621.3 669.4 619.1 672.4 617.5 676.4 616.5 693.4 614.2 707.4 608.7 712.4 607.3 717.4 606.9 721.4 607.5 722.5 608.3 723.1 610.3 721.2 614.3 715.4 620.3 705.4 628.4 702.8 631.3 701.0 634.3 699.6 640.3 698.3 671.3 697.0 680.3 695.4 687.2 692.9 693.3 689.4 698.2 685.4 701.1 680.4 702.4ZM889.5 702.3 885.5 702.3 882.5 701.6 877.5 698.1 872.9 691.3 869.7 682.3 867.4 667.3 866.9 649.3 868.0 638.3 870.9 628.3 873.1 624.3 875.5 621.3 878.5 618.8 881.5 617.3 901.5 614.3 920.5 607.4 925.5 606.9 929.5 607.3 931.1 608.3 931.7 610.3 929.8 614.3 924.0 620.3 913.5 628.9 909.6 634.3 908.2 640.3 906.9 671.3 904.2 686.3 901.5 693.3 898.5 697.7 894.5 700.8 889.5 702.3ZM574.3 700.3 570.3 700.1 567.3 698.7 564.3 695.9 562.3 692.8 560.3 688.0 558.8 682.3 557.2 667.3 557.7 652.3 558.7 647.3 560.3 642.5 562.3 639.0 565.3 635.8 568.3 634.1 572.3 633.3 576.3 633.6 580.3 634.7 584.3 637.3 587.2 640.3 589.6 644.3 591.1 648.3 592.1 653.3 592.6 659.3 591.8 676.3 590.4 683.3 588.3 689.1 585.3 694.2 582.3 697.3 578.3 699.6 574.3 700.3ZM783.4 700.3 779.4 700.2 776.4 699.0 773.4 696.5 771.4 693.7 769.4 689.3 767.6 683.3 765.9 669.3 766.1 654.3 767.0 648.3 768.6 643.3 770.7 639.3 773.4 636.2 776.4 634.3 780.4 633.3 784.4 633.5 788.4 634.5 792.4 636.8 795.4 639.9 797.7 643.3 799.4 647.5 800.6 652.3 801.2 658.3 800.6 675.3 799.3 682.3 797.3 688.3 794.6 693.3 791.4 696.9 787.4 699.4 783.4 700.3Z"/>
<path fill="#f7b79a" fill-rule="evenodd" d="M941.5 586.3 937.5 586.3 933.5 585.5 929.5 583.5 926.5 580.9 924.0 577.3 922.2 573.3 921.0 568.3 920.6 563.3 921.3 544.3 922.7 536.3 924.7 529.3 927.5 523.4 930.5 519.5 934.5 516.7 938.5 515.7 942.5 515.9 946.5 517.5 949.5 520.1 952.5 524.4 954.7 529.3 956.7 536.3 958.1 544.3 958.8 553.3 958.6 567.3 957.5 572.3 955.5 577.2 952.5 581.3 949.5 583.8 945.5 585.6 941.5 586.3ZM732.4 586.3 728.4 586.2 724.4 585.3 721.4 583.9 718.4 581.4 715.9 578.3 714.0 574.3 712.1 565.3 712.5 546.3 713.6 538.3 715.4 531.4 717.4 526.3 720.4 521.5 723.4 518.7 727.4 517.2 731.4 517.6 735.4 519.5 738.4 522.8 740.4 526.3 742.7 532.3 745.0 541.3 748.4 563.3 748.1 572.3 746.9 576.3 745.4 579.3 742.8 582.3 739.4 584.6 736.4 585.8 732.4 586.3ZM635.3 586.5 631.3 586.7 627.3 586.2 623.3 584.5 620.3 582.3 617.3 579.1 614.3 574.5 611.9 569.3 610.0 563.3 607.5 547.3 607.5 540.3 608.2 534.3 609.9 528.3 612.2 524.3 615.3 521.5 618.3 520.4 622.3 520.1 626.3 520.8 630.3 523.0 633.3 525.8 636.3 529.8 639.3 535.3 643.4 547.3 646.2 563.3 646.4 569.3 645.9 574.3 644.3 579.1 642.3 582.3 639.3 585.0 635.3 586.5ZM844.4 586.4 840.4 586.8 836.4 586.3 832.4 584.8 829.4 582.8 826.4 579.8 823.4 575.3 820.9 570.3 818.9 564.3 816.2 548.3 816.0 541.3 816.6 535.3 818.1 529.3 820.1 525.3 822.8 522.3 826.4 520.5 830.4 520.1 834.4 520.7 838.4 522.7 841.4 525.3 844.4 529.1 847.4 534.3 851.8 546.3 854.8 563.3 855.0 569.3 854.5 574.3 853.3 578.3 851.0 582.3 848.4 584.6 844.4 586.4ZM681.4 696.4 675.4 696.1 671.4 694.0 667.4 689.2 664.0 681.3 661.8 671.3 660.8 658.3 661.0 645.3 662.8 635.3 664.8 630.3 667.2 626.3 670.1 623.3 673.4 621.4 683.4 619.0 702.4 615.8 706.4 615.6 707.9 616.3 708.0 618.3 700.1 630.3 697.5 637.3 696.8 665.3 695.7 674.3 693.9 682.3 691.4 688.3 688.6 692.3 685.4 695.0 681.4 696.4ZM889.5 696.4 883.5 695.9 879.5 693.5 875.5 688.3 872.3 680.3 870.1 669.3 869.3 656.3 869.8 643.3 871.7 634.3 873.9 629.3 876.5 625.5 879.5 622.8 882.5 621.2 889.5 619.5 910.5 615.9 915.5 615.7 916.5 616.3 916.8 617.3 916.2 619.3 909.2 629.3 906.3 636.3 905.3 666.3 904.2 675.3 902.5 682.3 900.5 687.4 897.5 692.0 893.5 695.2 889.5 696.4ZM576.3 693.4 573.3 693.7 570.3 693.3 567.3 691.5 565.3 689.2 563.3 685.5 561.9 681.3 560.1 670.3 560.1 656.3 562.0 647.3 564.0 643.3 566.3 640.7 569.3 638.9 572.3 638.3 576.3 638.6 579.3 639.5 584.2 643.3 587.5 649.3 589.2 658.3 588.9 671.3 586.5 682.3 584.7 686.3 582.3 689.7 579.3 692.1 576.3 693.4ZM784.4 693.5 781.4 693.7 778.4 693.1 776.4 692.0 774.0 689.3 772.3 686.3 770.5 681.3 768.7 670.3 768.6 657.3 770.4 647.8 772.4 643.6 774.4 641.2 777.4 639.1 780.4 638.4 784.4 638.5 787.4 639.3 790.4 641.0 792.4 642.9 794.4 645.7 796.1 649.3 797.8 658.3 797.5 671.3 795.1 682.3 793.3 686.3 790.4 690.2 787.4 692.4 784.4 693.5Z"/>
<path fill="#f09572" fill-rule="evenodd" d="M944.5 582.6 940.5 583.1 935.5 582.7 932.5 581.7 929.5 579.7 927.3 577.3 925.0 573.3 923.1 565.3 922.9 556.3 923.5 547.3 924.6 540.3 926.5 533.4 928.5 528.9 931.5 524.8 934.5 522.5 938.5 521.3 941.5 521.4 944.5 522.3 947.5 524.4 949.9 527.3 952.0 531.3 953.8 536.3 956.0 548.3 956.5 563.3 955.1 571.3 953.5 575.2 951.3 578.3 948.5 580.8 944.5 582.6ZM736.4 582.4 732.4 583.1 728.4 583.0 725.4 582.3 722.4 580.8 719.5 578.3 717.4 575.3 715.6 571.3 714.7 567.3 714.3 561.3 714.6 550.3 715.4 543.3 717.0 536.3 718.8 531.3 721.4 526.8 724.4 524.0 727.4 522.8 730.4 523.0 733.4 524.0 736.4 526.5 738.4 529.2 742.4 539.2 745.4 553.3 746.6 564.3 745.7 572.3 744.4 575.6 742.4 578.5 739.4 581.0 736.4 582.4ZM635.3 581.5 632.3 582.1 628.3 581.9 625.3 581.0 622.3 579.3 617.3 573.8 613.5 565.3 611.0 551.3 610.8 545.3 611.3 539.4 612.3 535.2 614.3 531.0 616.3 528.8 619.3 527.2 625.3 527.1 628.3 528.3 631.3 530.6 636.3 537.6 640.1 547.3 642.9 561.3 643.0 570.3 642.0 574.3 640.3 577.6 638.3 579.8 635.3 581.5ZM843.4 581.6 840.4 582.1 836.4 581.8 833.4 580.8 830.4 578.9 825.4 573.0 821.8 564.3 819.6 550.3 820.0 539.3 821.3 534.3 822.8 531.3 825.4 528.4 828.4 527.1 834.4 527.3 837.4 528.6 840.4 531.1 845.4 538.6 849.0 548.3 851.6 562.3 851.4 571.1 850.2 575.3 848.5 578.3 846.4 580.2 843.4 581.6ZM683.4 690.4 678.4 691.2 675.4 690.7 673.4 689.7 669.8 686.3 667.1 681.3 664.9 674.3 663.5 665.3 663.0 652.3 663.6 643.3 664.5 638.3 666.4 633.2 668.7 629.3 671.7 626.3 675.4 624.2 682.4 622.1 688.4 621.0 693.4 620.9 696.9 622.3 697.9 625.3 695.0 638.3 695.2 655.3 694.2 669.3 692.6 677.3 690.4 683.1 687.4 687.5 683.4 690.4ZM891.5 690.6 886.5 691.1 882.5 690.0 878.5 686.3 875.5 680.8 873.3 673.3 872.0 664.3 871.6 651.3 872.3 642.3 873.5 637.2 875.4 632.3 877.5 629.1 880.5 626.1 884.5 624.0 891.5 621.9 897.5 620.9 902.5 621.0 905.5 622.3 906.5 625.3 903.6 638.3 903.8 656.3 902.7 670.3 900.9 678.3 898.5 684.0 895.5 688.0 891.5 690.6ZM576.3 686.6 571.3 686.8 569.3 685.9 567.3 684.0 564.3 677.5 562.9 669.3 562.8 658.3 564.3 650.6 567.3 645.7 569.3 644.2 572.3 643.4 577.3 644.0 581.3 646.7 584.3 651.6 585.8 658.3 585.6 669.3 584.0 677.3 580.8 683.3 578.7 685.3 576.3 686.6ZM785.4 686.4 780.4 686.9 778.4 686.2 776.4 684.6 773.4 679.1 771.7 671.3 771.3 660.3 772.4 652.1 775.4 646.2 777.4 644.5 780.4 643.4 785.4 643.8 789.5 646.3 792.4 650.4 794.3 657.3 794.4 667.3 792.9 676.3 791.4 680.1 789.4 683.3 785.4 686.4Z"/>
<path fill="#e3705a" fill-rule="evenodd" d="M943.5 579.4 936.5 579.6 931.4 577.3 929.4 575.3 927.5 572.3 926.1 568.3 925.4 564.3 925.8 549.3 926.8 543.3 928.4 537.3 930.5 532.9 932.5 530.2 935.5 527.9 938.5 527.1 941.5 527.2 944.5 528.2 948.5 532.3 951.6 539.3 953.7 550.3 954.0 563.3 952.7 570.3 951.3 573.3 949.1 576.3 946.5 578.3 943.5 579.4ZM734.4 579.5 727.4 579.5 722.4 576.9 718.9 572.3 716.9 565.3 717.0 551.3 719.2 539.3 721.2 534.3 723.4 531.1 725.4 529.4 728.4 528.5 731.4 528.9 734.4 530.6 738.4 536.0 741.4 544.3 743.9 557.3 744.4 566.3 743.0 572.3 741.4 575.1 739.4 577.2 734.4 579.5ZM633.3 576.5 628.3 576.8 623.3 574.8 619.3 570.3 616.4 563.3 614.7 552.3 615.1 543.3 617.3 537.5 619.3 535.5 621.3 534.6 626.3 534.7 630.3 537.1 634.3 542.7 637.3 550.3 639.4 561.3 639.3 568.3 637.3 573.5 635.3 575.5 633.3 576.5ZM842.4 576.3 837.4 576.8 832.4 575.1 828.4 571.1 825.4 564.9 823.5 554.3 823.4 545.3 825.4 538.3 827.4 535.9 829.4 534.7 834.4 534.5 838.4 536.7 842.4 541.8 845.4 548.9 847.9 560.3 848.1 567.3 846.4 572.7 844.4 575.2 842.4 576.3ZM681.4 685.5 677.4 685.6 673.4 683.9 670.4 680.4 668.4 676.2 666.5 669.3 665.6 662.3 665.3 652.3 665.9 644.3 668.3 635.3 672.4 629.7 676.0 627.3 681.1 625.3 685.4 624.2 689.4 624.1 692.4 625.4 693.6 628.3 692.4 639.3 693.0 652.3 692.4 665.3 690.8 673.3 688.4 679.5 685.4 683.3 681.4 685.5ZM890.5 685.3 886.5 685.7 882.5 684.2 879.5 681.1 877.4 677.3 875.5 671.0 874.3 663.3 873.9 653.3 874.3 645.3 876.5 636.4 878.5 632.6 880.5 630.2 883.5 627.9 888.5 625.7 893.5 624.3 897.5 624.1 900.9 625.3 902.2 628.3 901.0 639.3 901.6 652.3 901.1 664.3 899.7 672.3 897.5 678.5 894.5 682.9 890.5 685.3ZM574.3 678.4 571.3 678.2 569.2 676.3 567.3 672.2 566.4 666.3 566.3 659.3 567.3 654.6 569.3 651.3 572.3 649.9 576.3 650.4 578.8 652.3 580.5 655.3 581.5 660.3 581.3 667.2 580.2 672.3 577.3 677.0 574.3 678.4ZM783.4 678.3 780.3 678.3 777.4 675.8 775.7 671.3 775.0 666.3 774.9 659.3 776.0 654.3 778.4 650.9 781.4 649.8 784.4 650.2 787.4 652.3 789.4 656.2 790.1 660.3 789.9 667.3 788.4 673.3 786.4 676.5 783.4 678.3Z"/>
<path fill="#c94741" fill-rule="evenodd" d="M943.5 575.5 937.5 575.9 933.5 574.3 930.1 570.3 928.3 564.3 928.5 552.3 930.5 542.4 933.9 536.3 936.5 534.3 938.5 533.8 942.8 534.3 946.5 537.5 949.2 543.3 950.6 550.3 951.2 561.3 950.5 567.3 949.3 570.3 947.5 572.9 943.5 575.5ZM734.4 575.6 729.4 575.9 724.9 574.3 721.5 570.3 719.9 565.3 719.7 554.3 721.4 544.1 724.4 537.7 726.4 535.9 728.4 535.1 732.4 536.0 734.4 537.5 736.4 540.1 739.4 547.3 741.3 556.3 741.8 564.3 740.9 569.3 738.4 573.3 734.4 575.6ZM631.3 568.5 628.3 569.0 625.3 568.0 623.3 566.0 621.5 562.3 620.5 556.3 620.6 551.3 622.0 547.3 624.3 545.7 627.3 546.0 629.3 547.5 632.5 553.3 633.7 558.3 634.1 563.3 633.3 566.4 631.3 568.5ZM839.4 568.7 836.4 568.9 833.4 567.6 831.4 565.3 830.1 562.3 829.1 556.3 829.2 551.3 830.4 547.5 832.4 545.9 835.4 545.8 837.4 547.0 839.4 549.6 841.4 554.3 842.6 560.3 842.6 564.3 841.4 567.2 839.4 568.7ZM679.4 679.4 676.4 679.0 674.4 677.8 672.4 675.5 670.3 671.3 669.0 666.3 668.2 660.3 668.4 646.3 670.3 638.3 673.4 633.3 675.8 631.3 679.5 629.3 683.4 628.0 686.4 627.8 688.4 628.6 689.6 631.3 689.4 640.3 690.3 652.3 689.7 663.3 688.4 669.9 686.4 674.6 683.4 678.0 679.4 679.4ZM888.5 679.3 885.5 679.1 882.5 677.4 880.5 674.7 878.9 671.3 877.6 666.3 876.8 660.3 877.0 646.3 878.5 639.3 879.9 636.3 882.1 633.3 884.5 631.2 888.1 629.3 891.5 628.1 894.5 627.8 896.5 628.3 897.5 629.2 898.2 631.3 898.0 640.3 898.9 652.3 898.5 662.3 897.4 668.3 895.1 674.3 892.5 677.7 888.5 679.3Z"/>
<path fill="#b2182b" fill-rule="evenodd" d="M942.5 569.5 939.5 570.0 936.4 569.3 934.3 567.3 932.8 563.3 932.8 556.3 933.8 550.3 935.5 546.6 938.5 544.3 941.5 544.5 943.5 546.0 945.5 550.0 946.4 554.3 946.4 564.3 945.1 567.3 942.5 569.5ZM733.4 569.6 730.4 570.0 727.4 569.0 725.4 566.8 724.2 563.3 724.2 556.3 725.3 550.3 727.4 546.6 729.4 545.6 732.4 546.7 734.4 549.1 736.1 553.3 737.0 557.3 737.5 562.3 737.1 565.3 735.5 568.3 733.4 569.6ZM679.4 669.4 676.4 668.6 674.5 666.3 673.6 664.3 672.4 658.3 672.4 650.0 673.4 644.3 675.4 639.3 678.4 636.1 680.4 635.0 682.4 634.8 683.7 636.3 685.4 647.3 685.7 658.3 684.8 663.3 683.4 666.6 681.4 668.7 679.4 669.4ZM888.5 669.3 886.5 669.3 884.6 668.3 882.5 665.0 881.1 659.3 880.9 651.3 881.5 646.3 883.5 640.3 886.5 636.5 890.5 634.7 891.8 635.3 892.5 637.0 894.4 650.3 894.4 656.3 893.6 662.3 892.5 665.7 890.5 668.4 888.5 669.3Z"/>
<path d="M588.0 590.5 C598.8 585.3 630.2 567.4 652.5 559.5 C674.8 551.6 710.1 545.8 721.6 543.0" fill="none" stroke="#000" stroke-width="4.6" stroke-dasharray="17 13.5"/>
<path d="M696.1 632.9 C706.7 638.0 737.4 655.8 759.7 663.4 C782.0 671.0 818.0 675.7 829.7 678.2" fill="none" stroke="#000" stroke-width="4.6" stroke-dasharray="17 13.5"/>
<path d="M794.9 589.2 C805.8 584.2 838.0 567.3 860.2 559.5 C882.5 551.7 917.0 545.1 928.4 542.2" fill="none" stroke="#000" stroke-width="4.6" stroke-dasharray="17 13.5"/>
<path d="M646.9 553.1L658.1 565.9M658.1 553.1L646.9 565.9" stroke="#f00" stroke-width="2.6" fill="none"/>
<path d="M754.1 657.0L765.3 669.8M765.3 657.0L754.1 669.8" stroke="#f00" stroke-width="2.6" fill="none"/>
<path d="M854.6 553.1L865.8 565.9M865.8 553.1L854.6 565.9" stroke="#f00" stroke-width="2.6" fill="none"/>
<path d="M749.7 581.2L762.9 581.2M756.3 574.7L756.3 587.7" stroke="#f00" stroke-width="2.5" fill="none"/>
<path d="M644.2 642.2L657.4 642.2M650.8 635.7L650.8 648.7" stroke="#f00" stroke-width="2.5" fill="none"/>
<path d="M851.5 642.2L864.7 642.2M858.1 635.7L858.1 648.7" stroke="#f00" stroke-width="2.5" fill="none"/>
</g>
<rect x="679.10" y="452.8" width="5.90" height="19.7" fill="#2464ad"/>
<rect x="684.70" y="452.8" width="11.30" height="19.7" fill="#3b7cba"/>
<rect x="695.70" y="452.8" width="11.30" height="19.7" fill="#5596c6"/>
<rect x="706.70" y="452.8" width="11.30" height="19.7" fill="#7fb4d6"/>
<rect x="717.70" y="452.8" width="11.30" height="19.7" fill="#a7cce3"/>
<rect x="728.70" y="452.8" width="11.30" height="19.7" fill="#d0e4f0"/>
<rect x="739.70" y="452.8" width="11.30" height="19.7" fill="#f2f7fb"/>
<rect x="772.70" y="452.8" width="11.27" height="19.7" fill="#fde8dc"/>
<rect x="783.67" y="452.8" width="11.27" height="19.7" fill="#fcd3bd"/>
<rect x="794.63" y="452.8" width="11.27" height="19.7" fill="#f7b79a"/>
<rect x="805.60" y="452.8" width="11.27" height="19.7" fill="#f09572"/>
<rect x="816.57" y="452.8" width="11.27" height="19.7" fill="#e3705a"/>
<rect x="827.53" y="452.8" width="11.27" height="19.7" fill="#c94741"/>
<rect x="838.50" y="452.8" width="5.70" height="19.7" fill="#b2182b"/>
<text x="684.7" y="488.5" text-anchor="middle" class="cb">-0.0014</text>
<text x="739.9" y="488.5" text-anchor="middle" class="cb">-0.0004</text>
<text x="794.6" y="488.5" text-anchor="middle" class="cb">0.0006</text>
<line x1="552.3" y1="780.4" x2="556.1" y2="780.4" stroke="#3a3a3a" stroke-width="1"/>
<line x1="552.3" y1="770.7" x2="556.1" y2="770.7" stroke="#3a3a3a" stroke-width="1"/>
<line x1="552.3" y1="761.0" x2="559.1" y2="761.0" stroke="#000" stroke-width="1.6"/>
<line x1="552.3" y1="751.3" x2="556.1" y2="751.3" stroke="#3a3a3a" stroke-width="1"/>
<line x1="552.3" y1="741.6" x2="556.1" y2="741.6" stroke="#3a3a3a" stroke-width="1"/>
<line x1="552.3" y1="731.9" x2="556.1" y2="731.9" stroke="#3a3a3a" stroke-width="1"/>
<line x1="552.3" y1="722.2" x2="556.1" y2="722.2" stroke="#3a3a3a" stroke-width="1"/>
<line x1="552.3" y1="712.4" x2="559.1" y2="712.4" stroke="#000" stroke-width="1.6"/>
<line x1="552.3" y1="702.7" x2="556.1" y2="702.7" stroke="#3a3a3a" stroke-width="1"/>
<line x1="552.3" y1="693.0" x2="556.1" y2="693.0" stroke="#3a3a3a" stroke-width="1"/>
<line x1="552.3" y1="683.3" x2="556.1" y2="683.3" stroke="#3a3a3a" stroke-width="1"/>
<line x1="552.3" y1="673.6" x2="556.1" y2="673.6" stroke="#3a3a3a" stroke-width="1"/>
<line x1="552.3" y1="663.9" x2="559.1" y2="663.9" stroke="#000" stroke-width="1.6"/>
<line x1="552.3" y1="654.2" x2="556.1" y2="654.2" stroke="#3a3a3a" stroke-width="1"/>
<line x1="552.3" y1="644.4" x2="556.1" y2="644.4" stroke="#3a3a3a" stroke-width="1"/>
<line x1="552.3" y1="634.7" x2="556.1" y2="634.7" stroke="#3a3a3a" stroke-width="1"/>
<line x1="552.3" y1="625.0" x2="556.1" y2="625.0" stroke="#3a3a3a" stroke-width="1"/>
<line x1="552.3" y1="615.3" x2="559.1" y2="615.3" stroke="#000" stroke-width="1.6"/>
<line x1="552.3" y1="605.6" x2="556.1" y2="605.6" stroke="#3a3a3a" stroke-width="1"/>
<line x1="552.3" y1="595.9" x2="556.1" y2="595.9" stroke="#3a3a3a" stroke-width="1"/>
<line x1="552.3" y1="586.2" x2="556.1" y2="586.2" stroke="#3a3a3a" stroke-width="1"/>
<line x1="552.3" y1="576.4" x2="556.1" y2="576.4" stroke="#3a3a3a" stroke-width="1"/>
<line x1="552.3" y1="566.7" x2="559.1" y2="566.7" stroke="#000" stroke-width="1.6"/>
<line x1="552.3" y1="557.0" x2="556.1" y2="557.0" stroke="#3a3a3a" stroke-width="1"/>
<line x1="552.3" y1="547.3" x2="556.1" y2="547.3" stroke="#3a3a3a" stroke-width="1"/>
<line x1="552.3" y1="537.6" x2="556.1" y2="537.6" stroke="#3a3a3a" stroke-width="1"/>
<line x1="552.3" y1="527.9" x2="556.1" y2="527.9" stroke="#3a3a3a" stroke-width="1"/>
<line x1="552.3" y1="518.2" x2="559.1" y2="518.2" stroke="#000" stroke-width="1.6"/>
<line x1="552.3" y1="508.4" x2="556.1" y2="508.4" stroke="#3a3a3a" stroke-width="1"/>
<line x1="552.3" y1="498.7" x2="556.1" y2="498.7" stroke="#3a3a3a" stroke-width="1"/>
<line x1="552.3" y1="489.0" x2="556.1" y2="489.0" stroke="#3a3a3a" stroke-width="1"/>
<line x1="552.3" y1="479.3" x2="556.1" y2="479.3" stroke="#3a3a3a" stroke-width="1"/>
<line x1="552.3" y1="469.6" x2="559.1" y2="469.6" stroke="#000" stroke-width="1.6"/>
<line x1="552.3" y1="459.9" x2="556.1" y2="459.9" stroke="#3a3a3a" stroke-width="1"/>
<line x1="552.3" y1="450.2" x2="556.1" y2="450.2" stroke="#3a3a3a" stroke-width="1"/>
<line x1="969.5" y1="785.3" x2="969.5" y2="777.8" stroke="#000" stroke-width="1.6"/>
<line x1="959.1" y1="785.3" x2="959.1" y2="780.7" stroke="#3a3a3a" stroke-width="1"/>
<line x1="948.6" y1="785.3" x2="948.6" y2="780.7" stroke="#3a3a3a" stroke-width="1"/>
<line x1="938.2" y1="785.3" x2="938.2" y2="780.7" stroke="#3a3a3a" stroke-width="1"/>
<line x1="927.8" y1="785.3" x2="927.8" y2="780.7" stroke="#3a3a3a" stroke-width="1"/>
<line x1="917.4" y1="785.3" x2="917.4" y2="777.8" stroke="#000" stroke-width="1.6"/>
<line x1="906.9" y1="785.3" x2="906.9" y2="780.7" stroke="#3a3a3a" stroke-width="1"/>
<line x1="896.5" y1="785.3" x2="896.5" y2="780.7" stroke="#3a3a3a" stroke-width="1"/>
<line x1="886.1" y1="785.3" x2="886.1" y2="780.7" stroke="#3a3a3a" stroke-width="1"/>
<line x1="875.6" y1="785.3" x2="875.6" y2="780.7" stroke="#3a3a3a" stroke-width="1"/>
<line x1="865.2" y1="785.3" x2="865.2" y2="777.8" stroke="#000" stroke-width="1.6"/>
<line x1="854.8" y1="785.3" x2="854.8" y2="780.7" stroke="#3a3a3a" stroke-width="1"/>
<line x1="844.3" y1="785.3" x2="844.3" y2="780.7" stroke="#3a3a3a" stroke-width="1"/>
<line x1="833.9" y1="785.3" x2="833.9" y2="780.7" stroke="#3a3a3a" stroke-width="1"/>
<line x1="823.5" y1="785.3" x2="823.5" y2="780.7" stroke="#3a3a3a" stroke-width="1"/>
<line x1="813.0" y1="785.3" x2="813.0" y2="777.8" stroke="#000" stroke-width="1.6"/>
<line x1="802.6" y1="785.3" x2="802.6" y2="780.7" stroke="#3a3a3a" stroke-width="1"/>
<line x1="792.2" y1="785.3" x2="792.2" y2="780.7" stroke="#3a3a3a" stroke-width="1"/>
<line x1="781.8" y1="785.3" x2="781.8" y2="780.7" stroke="#3a3a3a" stroke-width="1"/>
<line x1="771.3" y1="785.3" x2="771.3" y2="780.7" stroke="#3a3a3a" stroke-width="1"/>
<line x1="760.9" y1="785.3" x2="760.9" y2="777.8" stroke="#000" stroke-width="1.6"/>
<line x1="750.5" y1="785.3" x2="750.5" y2="780.7" stroke="#3a3a3a" stroke-width="1"/>
<line x1="740.0" y1="785.3" x2="740.0" y2="780.7" stroke="#3a3a3a" stroke-width="1"/>
<line x1="729.6" y1="785.3" x2="729.6" y2="780.7" stroke="#3a3a3a" stroke-width="1"/>
<line x1="719.2" y1="785.3" x2="719.2" y2="780.7" stroke="#3a3a3a" stroke-width="1"/>
<line x1="708.8" y1="785.3" x2="708.8" y2="777.8" stroke="#000" stroke-width="1.6"/>
<line x1="698.3" y1="785.3" x2="698.3" y2="780.7" stroke="#3a3a3a" stroke-width="1"/>
<line x1="687.9" y1="785.3" x2="687.9" y2="780.7" stroke="#3a3a3a" stroke-width="1"/>
<line x1="677.5" y1="785.3" x2="677.5" y2="780.7" stroke="#3a3a3a" stroke-width="1"/>
<line x1="667.0" y1="785.3" x2="667.0" y2="780.7" stroke="#3a3a3a" stroke-width="1"/>
<line x1="656.6" y1="785.3" x2="656.6" y2="777.8" stroke="#000" stroke-width="1.6"/>
<line x1="646.2" y1="785.3" x2="646.2" y2="780.7" stroke="#3a3a3a" stroke-width="1"/>
<line x1="635.7" y1="785.3" x2="635.7" y2="780.7" stroke="#3a3a3a" stroke-width="1"/>
<line x1="625.3" y1="785.3" x2="625.3" y2="780.7" stroke="#3a3a3a" stroke-width="1"/>
<line x1="614.9" y1="785.3" x2="614.9" y2="780.7" stroke="#3a3a3a" stroke-width="1"/>
<line x1="604.4" y1="785.3" x2="604.4" y2="777.8" stroke="#000" stroke-width="1.6"/>
<line x1="594.0" y1="785.3" x2="594.0" y2="780.7" stroke="#3a3a3a" stroke-width="1"/>
<line x1="583.6" y1="785.3" x2="583.6" y2="780.7" stroke="#3a3a3a" stroke-width="1"/>
<line x1="573.2" y1="785.3" x2="573.2" y2="780.7" stroke="#3a3a3a" stroke-width="1"/>
<line x1="562.7" y1="785.3" x2="562.7" y2="780.7" stroke="#3a3a3a" stroke-width="1"/>
<line x1="552.3" y1="785.3" x2="552.3" y2="777.8" stroke="#000" stroke-width="1.6"/>
<rect x="552.3" y="445.3" width="417.2" height="340.0" fill="none" stroke="#000" stroke-width="2"/>
<text x="548.0" y="767.8" text-anchor="end" class="tl">-3</text>
<text x="548.0" y="719.2" text-anchor="end" class="tl">-2</text>
<text x="548.0" y="670.7" text-anchor="end" class="tl">-1</text>
<text x="548.0" y="622.1" text-anchor="end" class="tl">0</text>
<text x="548.0" y="573.5" text-anchor="end" class="tl">1</text>
<text x="548.0" y="525.0" text-anchor="end" class="tl">2</text>
<text x="548.0" y="476.4" text-anchor="end" class="tl">3</text>
<text x="552.3" y="802.6" text-anchor="middle" class="tl">2</text>
<text x="604.4" y="802.6" text-anchor="middle" class="tl">1.5</text>
<text x="656.6" y="802.6" text-anchor="middle" class="tl">1</text>
<text x="708.8" y="802.6" text-anchor="middle" class="tl">0.5</text>
<text x="760.9" y="802.6" text-anchor="middle" class="tl">0</text>
<text x="813.0" y="802.6" text-anchor="middle" class="tl">-0.5</text>
<text x="865.2" y="802.6" text-anchor="middle" class="tl">-1</text>
<text x="917.4" y="802.6" text-anchor="middle" class="tl">-1.5</text>
<text x="969.5" y="802.6" text-anchor="middle" class="tl">-2</text>
<text transform="translate(523.8 615.3) rotate(-90) scale(0.84 1)" text-anchor="middle" class="yl"><tspan font-style="italic">y</tspan><tspan dy="-0.0">*</tspan></text>
<text x="763.9" y="819.6" text-anchor="middle" class="xl">&#981;(<tspan font-style="italic">&#960;</tspan>)</text>
<text x="568.8" y="479.8" class="pl">(e)</text>
<g clip-path="url(#cpf)">
<path fill="#fbfcfd" fill-rule="evenodd" d="M1393.5 785.3 1283.1 785.3 1247.1 765.3 1238.4 762.3 1229.4 761.1 1222.4 762.0 1214.4 765.0 1188.4 779.9 1177.8 785.3 1064.6 785.3 1059.4 782.7 1059.4 534.1 1062.0 525.2 1065.4 519.2 1067.4 517.2 1070.4 515.3 1073.4 514.4 1077.4 514.1 1085.4 515.1 1088.4 516.3 1091.4 518.5 1095.4 524.0 1098.1 531.2 1100.1 541.2 1102.7 563.2 1104.1 568.2 1106.4 572.6 1111.4 577.7 1118.4 581.5 1126.4 583.3 1136.4 583.7 1144.4 582.7 1152.4 580.1 1158.2 576.2 1161.0 572.2 1162.3 565.2 1162.0 543.2 1163.0 528.2 1165.4 517.9 1169.3 511.2 1172.4 508.5 1175.4 506.9 1178.4 506.0 1182.4 505.8 1186.4 506.4 1190.4 507.9 1193.4 510.1 1195.4 512.3 1199.0 519.2 1200.9 527.2 1201.6 537.2 1200.9 550.2 1199.6 557.2 1197.4 563.3 1194.4 568.8 1188.0 578.2 1185.8 583.2 1185.4 588.2 1188.5 602.2 1188.6 610.2 1187.2 616.3 1183.9 624.3 1182.5 626.3 1177.4 630.8 1176.2 633.3 1176.0 635.3 1177.6 641.3 1174.8 671.3 1174.6 679.3 1176.4 694.3 1177.4 697.4 1179.4 700.8 1182.4 703.5 1187.4 706.1 1193.4 708.1 1199.4 708.9 1201.4 708.5 1203.4 707.2 1205.4 703.8 1207.4 695.8 1211.1 674.3 1213.0 666.3 1216.3 658.3 1221.2 651.3 1227.4 646.0 1235.4 642.2 1243.4 640.1 1260.8 637.3 1265.4 635.9 1268.8 633.3 1271.7 628.3 1275.3 618.3 1276.7 608.2 1276.5 592.2 1274.4 565.2 1276.0 546.2 1277.5 536.2 1279.5 528.2 1281.9 522.2 1285.5 517.6 1290.5 514.8 1298.5 514.1 1305.5 515.6 1310.5 519.0 1314.1 524.2 1316.6 531.2 1318.6 541.2 1321.2 563.2 1322.6 568.2 1324.7 572.2 1327.5 575.6 1330.5 578.0 1337.5 581.6 1345.5 583.4 1355.5 583.6 1363.5 582.6 1371.5 579.9 1376.5 576.6 1379.6 572.2 1380.9 565.2 1380.5 547.2 1381.4 529.2 1383.5 519.3 1387.1 512.2 1389.5 509.7 1392.5 507.6 1398.5 505.8 1405.5 506.5 1408.5 507.6 1411.5 509.7 1415.8 515.2 1418.9 524.2 1420.1 534.2 1419.7 547.2 1418.6 555.2 1416.3 562.2 1413.5 567.8 1405.6 579.2 1403.6 584.2 1403.5 589.2 1406.4 605.2 1406.2 610.2 1405.0 615.2 1401.1 625.3 1396.1 630.3 1394.4 633.3 1394.3 635.3 1395.7 641.3 1393.0 679.3 1393.9 691.3 1395.5 698.4 1398.5 703.3 1404.5 707.8 1417.5 714.0 1420.5 714.7 1422.8 714.3 1424.5 712.3 1425.5 709.2 1429.1 683.3 1431.8 668.3 1434.3 661.3 1437.9 655.3 1441.4 651.3 1444.5 648.7 1448.5 646.3 1453.5 644.3 1459.5 642.9 1466.5 642.2 1472.5 642.2 1477.5 642.8 1483.5 644.6 1488.5 647.3 1493.2 651.3 1496.5 655.5 1496.5 718.0 1492.0 727.3 1487.5 733.6 1481.5 739.1 1475.5 742.6 1468.5 744.9 1458.5 746.1 1450.5 745.7 1439.5 743.6 1435.5 744.4 1433.5 746.4 1424.5 760.3 1416.5 769.2 1405.5 778.4 1398.5 782.8 1393.5 785.3Z"/>
<path fill="#dce9f3" fill-rule="evenodd" d="M1183.4 569.5 1179.4 570.0 1176.4 569.5 1173.4 567.8 1171.4 565.8 1169.4 562.4 1168.0 558.2 1166.9 549.2 1167.7 536.2 1168.8 531.2 1170.4 527.2 1172.4 524.0 1175.4 521.1 1178.4 519.4 1182.4 518.5 1186.4 518.9 1189.4 519.9 1192.4 522.0 1194.4 524.2 1197.4 531.2 1198.5 540.2 1197.8 551.2 1195.3 559.2 1193.4 562.3 1190.4 565.6 1187.4 567.8 1183.4 569.5ZM1401.5 569.5 1397.5 569.9 1394.5 569.2 1391.5 567.3 1389.6 565.2 1388.0 562.2 1386.5 557.8 1385.4 548.2 1386.4 535.2 1387.7 530.2 1389.5 526.3 1391.7 523.2 1394.5 520.7 1397.5 519.2 1401.5 518.5 1405.5 519.0 1408.5 520.2 1410.5 521.5 1412.9 524.2 1415.9 531.2 1417.0 541.2 1416.1 552.2 1413.5 559.8 1411.5 562.9 1408.5 565.9 1405.5 567.9 1401.5 569.5ZM1117.4 726.4 1103.4 726.6 1097.4 725.7 1090.4 723.8 1080.4 718.7 1070.4 710.3 1067.4 708.6 1066.4 708.7 1064.4 709.9 1059.4 716.9 1059.4 648.4 1062.4 646.3 1065.4 641.1 1070.1 631.3 1071.3 625.3 1070.4 618.3 1064.5 597.2 1059.7 574.2 1059.4 556.1 1061.6 544.2 1064.4 536.1 1068.4 530.6 1073.4 528.0 1079.4 527.6 1084.4 528.7 1088.4 531.0 1092.1 535.2 1094.4 539.9 1096.0 545.2 1100.6 571.2 1103.0 576.2 1107.4 581.6 1117.4 590.1 1126.4 596.3 1133.4 599.7 1149.4 605.3 1154.4 608.2 1157.7 611.2 1159.8 614.2 1161.4 617.8 1169.0 643.3 1170.1 650.3 1170.4 657.3 1168.9 679.3 1165.9 693.3 1163.6 699.3 1161.0 704.3 1157.4 709.3 1153.4 713.5 1149.4 716.7 1144.4 719.8 1133.4 723.9 1117.4 726.4ZM1255.4 735.4 1250.4 736.2 1244.4 736.1 1239.4 735.6 1234.4 734.1 1230.4 732.1 1226.7 729.3 1220.9 722.3 1218.3 717.3 1216.4 712.3 1214.2 700.3 1214.1 686.3 1216.0 670.3 1218.6 662.3 1222.9 655.3 1228.4 650.0 1235.4 646.3 1246.4 643.7 1256.4 643.2 1264.4 644.3 1274.4 647.9 1277.4 648.4 1280.0 647.3 1282.3 644.3 1288.7 631.3 1289.5 628.3 1289.9 624.3 1288.7 617.3 1282.6 595.2 1278.1 573.2 1277.3 563.2 1278.5 552.7 1281.5 539.7 1283.4 535.2 1285.5 532.2 1288.5 529.5 1291.5 528.1 1295.5 527.5 1300.5 527.9 1304.5 529.4 1307.5 531.4 1310.0 534.2 1312.2 538.2 1315.0 547.2 1318.8 570.2 1320.9 575.2 1324.5 580.0 1331.5 586.5 1342.5 594.8 1350.5 599.1 1364.5 604.0 1369.5 606.2 1374.5 609.8 1377.9 614.2 1380.1 619.3 1386.7 640.3 1388.4 649.3 1388.8 657.3 1388.3 668.3 1387.3 679.3 1386.0 687.3 1382.1 699.3 1379.4 704.3 1375.9 709.3 1371.5 713.9 1367.5 717.0 1362.5 720.0 1357.5 722.1 1347.5 724.8 1334.5 726.5 1325.5 726.8 1316.5 725.8 1309.5 723.9 1302.5 720.8 1296.5 716.9 1288.5 709.9 1285.5 708.6 1282.5 710.4 1274.1 722.3 1268.5 728.3 1262.4 732.6 1255.4 735.4ZM1469.5 732.3 1461.5 733.0 1454.5 732.1 1448.5 729.4 1443.6 725.3 1439.2 719.3 1436.1 712.3 1434.1 704.3 1433.2 694.3 1433.6 683.3 1435.2 671.3 1437.2 664.3 1440.5 658.2 1445.5 652.8 1451.5 649.1 1458.5 646.9 1467.5 646.0 1473.5 646.3 1479.5 647.9 1484.5 650.5 1488.7 654.3 1492.2 659.3 1494.2 664.3 1495.5 670.3 1496.0 677.3 1495.8 687.3 1494.7 697.3 1492.7 706.3 1489.5 714.6 1485.5 721.4 1480.5 726.8 1475.5 730.2 1469.5 732.3Z"/>
<path fill="#b3d3e8" fill-rule="evenodd" d="M1183.4 560.4 1179.4 559.8 1176.1 557.2 1174.1 553.2 1173.2 547.2 1173.7 540.2 1175.7 534.2 1179.1 530.2 1183.4 528.8 1188.4 530.1 1191.4 533.0 1193.4 538.1 1194.0 544.2 1193.4 550.2 1191.4 555.3 1188.4 558.5 1183.4 560.4ZM1401.5 560.4 1397.5 559.6 1394.0 556.2 1392.2 551.2 1391.8 545.2 1392.7 538.2 1394.8 533.2 1398.5 529.7 1402.5 528.8 1407.2 530.2 1410.1 533.2 1412.0 538.2 1412.5 545.2 1411.7 551.2 1409.5 555.9 1406.5 558.7 1401.5 560.4ZM1121.4 714.3 1111.4 714.2 1103.4 712.9 1096.4 710.5 1089.4 706.7 1083.4 701.8 1078.8 696.3 1074.8 689.3 1071.8 681.3 1070.5 674.3 1070.0 667.3 1070.5 659.3 1071.7 653.3 1074.9 645.3 1085.4 630.3 1087.2 625.3 1086.1 621.3 1078.9 610.2 1074.4 601.2 1064.4 573.0 1063.0 567.2 1063.1 559.2 1064.5 552.2 1066.4 546.2 1069.4 541.0 1071.4 539.2 1074.4 537.8 1078.4 537.6 1082.4 538.4 1085.4 540.3 1088.7 544.2 1091.2 550.2 1093.0 558.2 1094.0 573.2 1095.4 578.2 1098.3 583.2 1110.5 600.2 1119.2 616.3 1121.2 618.3 1124.5 620.3 1142.4 626.0 1151.4 630.6 1155.4 633.9 1159.1 638.3 1162.0 643.3 1163.7 648.3 1164.7 653.3 1165.1 659.3 1163.9 675.3 1161.1 687.3 1156.4 697.0 1150.4 704.1 1142.4 709.6 1133.4 712.8 1121.4 714.3ZM1340.5 714.3 1330.5 714.2 1322.5 713.0 1315.5 710.7 1308.5 707.1 1302.5 702.3 1297.3 696.3 1293.3 689.3 1290.4 681.3 1289.0 674.3 1288.6 667.3 1288.9 660.3 1290.3 653.3 1294.0 644.3 1304.0 630.3 1305.7 625.3 1304.6 621.3 1297.5 610.3 1293.0 601.2 1283.0 573.2 1281.6 567.2 1281.6 559.2 1284.5 547.4 1287.8 541.2 1290.0 539.2 1292.5 538.0 1297.5 537.6 1301.5 538.7 1304.5 540.7 1307.2 544.2 1309.5 549.4 1311.6 558.2 1312.6 573.2 1313.9 578.2 1316.5 582.7 1329.1 600.2 1337.7 616.3 1339.7 618.3 1343.0 620.3 1362.5 626.6 1370.5 631.0 1374.5 634.5 1377.6 638.3 1380.4 643.3 1382.2 648.3 1383.2 653.3 1383.6 659.3 1382.4 675.3 1379.6 687.3 1375.4 696.3 1369.5 703.6 1361.5 709.3 1352.5 712.7 1340.5 714.3ZM1249.4 726.3 1242.4 726.2 1236.4 724.7 1230.8 721.3 1226.2 716.3 1222.9 710.3 1220.4 702.3 1219.2 693.3 1219.2 683.3 1220.3 673.3 1221.8 667.3 1224.6 661.3 1228.4 656.5 1233.4 652.7 1239.1 650.3 1247.4 648.6 1254.4 648.3 1259.7 649.3 1264.7 651.3 1269.0 654.3 1272.6 658.3 1275.0 662.3 1277.1 668.3 1277.8 673.3 1277.7 680.3 1276.7 689.3 1274.9 698.3 1272.3 706.3 1268.8 713.3 1265.0 718.3 1260.4 722.4 1255.4 725.0 1249.4 726.3ZM1467.5 723.4 1460.5 723.6 1455.5 722.6 1450.5 720.1 1446.5 716.3 1443.2 711.3 1440.4 704.3 1438.9 696.3 1438.5 688.3 1439.0 679.3 1440.5 670.3 1442.5 664.9 1445.5 660.2 1449.6 656.3 1455.1 653.3 1461.5 651.6 1468.5 651.1 1473.5 651.6 1478.5 653.4 1482.5 656.0 1485.6 659.3 1488.0 663.3 1489.7 668.3 1490.4 673.3 1490.6 681.3 1490.2 689.3 1489.0 697.3 1487.0 704.3 1484.3 710.3 1481.0 715.3 1476.9 719.3 1472.5 721.9 1467.5 723.4Z"/>
<path fill="#86b9d9" fill-rule="evenodd" d="M1080.4 576.3 1076.4 575.7 1072.4 573.3 1069.1 569.2 1067.4 564.2 1067.7 559.2 1069.9 552.2 1072.4 548.5 1075.4 546.8 1080.2 547.2 1083.4 549.5 1085.7 553.2 1087.9 560.2 1087.9 565.2 1086.4 570.1 1083.4 574.7 1080.4 576.3ZM1298.5 576.3 1294.5 575.5 1290.5 572.8 1287.5 568.9 1286.0 564.2 1286.2 559.2 1288.5 552.2 1291.5 548.0 1294.5 546.7 1298.5 547.1 1301.7 549.2 1304.5 553.8 1306.5 560.4 1306.4 565.2 1304.5 571.1 1301.5 575.1 1298.5 576.3ZM1097.4 607.6 1094.4 607.8 1091.4 606.7 1088.4 604.5 1086.4 602.2 1084.4 598.7 1083.4 595.2 1083.2 591.2 1084.4 589.0 1086.4 588.6 1088.4 589.4 1091.4 591.8 1095.4 596.3 1097.4 599.5 1098.8 603.2 1098.6 606.2 1097.4 607.6ZM1316.5 607.3 1314.5 607.9 1311.5 607.3 1308.5 605.7 1305.5 602.9 1303.2 599.2 1302.0 595.2 1301.7 591.2 1302.7 589.2 1304.5 588.6 1307.5 589.7 1313.5 595.6 1317.1 602.2 1317.4 605.2 1316.5 607.3ZM1128.4 707.4 1118.4 708.0 1110.4 707.5 1103.4 705.9 1096.4 702.9 1090.4 698.7 1085.4 693.5 1081.5 687.3 1078.8 680.3 1077.1 671.3 1077.0 661.3 1078.1 654.3 1080.4 648.3 1085.2 641.3 1091.4 635.1 1098.4 630.0 1105.4 627.1 1111.4 626.4 1118.4 626.9 1133.4 629.5 1142.4 632.3 1148.4 635.5 1153.4 639.8 1156.7 644.3 1159.2 650.3 1160.5 659.3 1159.7 671.3 1157.7 681.3 1154.4 689.5 1149.4 696.8 1143.4 701.9 1136.4 705.4 1128.4 707.4ZM1347.5 707.3 1337.5 708.0 1329.5 707.6 1322.5 706.1 1315.5 703.2 1309.5 699.2 1304.6 694.3 1300.6 688.3 1297.6 681.3 1295.9 673.3 1295.4 663.3 1296.2 656.3 1298.5 649.3 1302.5 642.8 1308.5 636.4 1315.5 630.9 1322.5 627.5 1328.5 626.4 1335.5 626.8 1350.5 629.2 1360.5 632.1 1366.5 635.2 1371.4 639.3 1375.2 644.3 1377.5 649.5 1379.0 658.3 1378.3 670.3 1376.5 680.4 1373.1 689.3 1368.5 696.2 1362.5 701.6 1355.5 705.2 1347.5 707.3ZM1250.4 717.5 1244.4 717.6 1239.4 716.6 1235.4 714.7 1231.4 711.1 1228.3 706.3 1226.0 700.3 1224.7 693.3 1224.5 685.3 1225.4 677.3 1226.7 671.3 1228.8 666.3 1231.7 662.3 1235.4 658.9 1240.4 656.2 1247.4 654.4 1253.4 654.0 1257.4 654.6 1261.5 656.3 1265.4 659.3 1267.8 662.3 1269.7 666.3 1270.8 670.3 1271.2 682.3 1269.4 695.3 1267.5 701.3 1265.1 706.3 1262.3 710.3 1258.4 714.0 1254.4 716.3 1250.4 717.5ZM1468.5 713.5 1463.5 714.1 1458.5 713.6 1454.5 712.0 1451.5 709.6 1448.5 705.6 1446.5 701.2 1445.0 695.3 1444.5 688.3 1445.1 681.3 1446.5 674.4 1448.5 669.3 1450.5 666.3 1453.6 663.3 1458.5 660.4 1462.5 659.2 1468.5 658.4 1472.5 658.8 1475.5 659.8 1478.5 661.7 1480.9 664.3 1482.7 667.3 1484.0 671.3 1484.8 681.3 1483.6 693.3 1480.5 702.5 1478.3 706.3 1475.5 709.5 1472.5 711.8 1468.5 713.5Z"/>
<path fill="#5c9dcb" fill-rule="evenodd" d="M1129.4 701.3 1121.4 702.2 1114.4 702.1 1108.4 701.2 1102.4 699.2 1097.2 696.3 1092.4 692.3 1088.5 687.3 1085.4 681.3 1083.5 674.3 1082.7 667.3 1082.9 659.3 1084.4 653.1 1087.4 647.3 1091.6 642.3 1097.4 637.6 1103.4 634.6 1110.4 632.7 1117.4 632.3 1128.4 633.2 1136.4 635.0 1142.4 637.5 1147.4 640.8 1151.5 645.3 1154.1 650.3 1155.7 657.3 1155.5 666.3 1153.8 676.3 1151.0 684.3 1147.4 690.3 1142.4 695.4 1136.4 699.1 1129.4 701.3ZM1347.5 701.4 1339.5 702.2 1332.5 702.1 1326.5 701.0 1320.5 698.9 1315.5 696.1 1310.5 691.7 1307.0 687.3 1304.0 681.3 1302.0 674.3 1301.2 666.3 1301.6 658.3 1303.3 652.3 1306.5 646.6 1310.5 642.0 1316.5 637.3 1322.5 634.4 1329.5 632.7 1336.5 632.3 1347.5 633.3 1355.5 635.2 1361.5 637.8 1366.4 641.3 1370.0 645.3 1372.6 650.3 1374.2 657.3 1374.0 666.3 1372.4 676.3 1369.5 684.5 1365.5 690.9 1360.5 695.8 1354.5 699.3 1347.5 701.4ZM1251.4 704.6 1248.4 704.9 1244.4 704.3 1241.8 703.3 1239.4 701.6 1237.6 699.3 1236.2 696.3 1235.5 693.3 1235.5 689.3 1236.4 685.0 1238.2 681.3 1246.4 669.8 1250.4 666.2 1252.4 665.3 1255.4 664.9 1259.4 666.5 1262.4 670.7 1263.6 676.3 1263.6 685.3 1262.1 692.3 1259.4 698.2 1255.4 702.6 1251.4 704.6Z"/>
<path fill="#3d7fba" fill-rule="evenodd" d="M1123.4 695.3 1117.4 695.6 1111.4 695.0 1106.4 693.5 1101.9 691.3 1098.0 688.3 1094.4 684.0 1091.8 679.3 1090.1 674.3 1089.2 668.3 1089.1 661.3 1089.9 656.3 1092.0 651.3 1095.4 646.6 1099.4 643.1 1104.4 640.2 1110.4 638.2 1116.4 637.4 1124.4 637.6 1130.4 638.5 1136.4 640.3 1141.4 643.0 1145.1 646.3 1147.8 650.3 1149.4 654.7 1150.0 661.3 1148.9 670.3 1147.0 677.3 1144.0 683.3 1140.0 688.3 1135.4 691.7 1129.4 694.2 1123.4 695.3ZM1341.5 695.4 1335.5 695.6 1329.5 694.9 1324.3 693.3 1319.5 690.6 1315.6 687.3 1312.4 683.3 1309.9 678.3 1308.4 673.3 1307.7 667.3 1307.7 660.3 1308.8 655.3 1310.6 651.3 1314.3 646.3 1318.5 642.7 1323.5 640.0 1329.5 638.1 1335.5 637.4 1343.5 637.7 1349.5 638.6 1355.5 640.5 1360.4 643.3 1363.7 646.3 1366.4 650.3 1368.1 655.3 1368.5 661.3 1367.4 670.3 1365.5 677.3 1362.5 683.4 1358.5 688.3 1353.5 692.0 1347.7 694.3 1341.5 695.4Z"/>
<path fill="#2464ad" fill-rule="evenodd" d="M1122.4 683.4 1118.4 684.1 1114.4 684.0 1110.9 683.3 1107.4 681.6 1104.5 679.3 1102.4 676.7 1100.6 673.3 1099.4 669.5 1098.7 661.3 1099.4 657.5 1100.7 654.3 1102.8 651.3 1106.2 648.3 1109.8 646.3 1113.4 645.1 1122.4 644.5 1127.4 645.2 1130.9 646.3 1134.4 648.2 1136.4 650.0 1138.1 652.3 1139.3 655.3 1139.7 659.3 1139.2 663.3 1137.4 668.9 1135.3 673.3 1132.4 677.3 1129.4 680.1 1126.4 681.9 1122.4 683.4ZM1340.5 683.5 1336.5 684.1 1332.5 684.0 1328.5 682.9 1325.5 681.3 1323.0 679.3 1320.7 676.3 1317.9 669.3 1317.4 660.3 1319.5 654.0 1321.5 651.2 1324.7 648.3 1328.4 646.3 1332.5 645.0 1341.5 644.5 1349.5 646.3 1353.0 648.3 1355.2 650.3 1357.1 653.3 1358.0 656.3 1358.2 660.3 1357.4 664.3 1355.5 670.0 1353.2 674.3 1350.5 677.8 1347.7 680.3 1344.5 682.1 1340.5 683.5Z"/>
<path fill="#fef6f1" fill-rule="evenodd" d="M1235.4 620.3 1229.4 620.1 1224.4 617.9 1219.4 613.6 1213.4 606.7 1207.4 598.1 1203.4 590.2 1201.3 583.2 1201.0 576.2 1205.0 556.2 1208.8 527.2 1210.4 520.7 1213.0 515.2 1215.4 511.9 1218.4 509.0 1226.4 504.4 1235.4 502.0 1246.4 501.7 1253.4 503.8 1259.4 508.5 1264.4 515.7 1267.8 524.2 1269.4 532.2 1270.2 541.2 1269.8 585.2 1268.6 592.2 1266.4 598.6 1263.4 604.0 1259.4 608.8 1254.4 612.9 1249.4 615.9 1242.4 618.6 1235.4 620.3ZM1433.5 642.4 1429.5 642.9 1424.9 641.3 1410.5 638.0 1406.6 636.3 1405.1 634.3 1405.9 632.3 1409.5 630.4 1432.3 626.3 1434.6 625.3 1435.9 623.3 1436.0 619.3 1434.9 615.2 1422.7 593.2 1420.4 587.2 1419.3 581.2 1419.6 574.2 1423.5 556.2 1426.5 532.2 1427.9 524.2 1429.9 518.2 1432.5 513.7 1436.5 509.4 1441.5 506.0 1447.5 503.4 1453.5 502.1 1461.5 501.5 1467.5 502.1 1471.5 503.5 1474.5 505.3 1480.5 511.4 1485.5 520.2 1489.2 531.2 1492.1 547.2 1493.8 571.2 1493.6 583.2 1491.8 595.2 1488.9 604.2 1484.7 612.2 1478.5 620.5 1472.5 626.5 1466.2 630.3 1446.2 638.3 1433.5 642.4ZM1134.4 576.3 1123.4 575.6 1119.4 574.4 1115.3 572.2 1112.4 569.8 1110.0 566.2 1108.5 562.2 1107.8 557.2 1107.4 545.2 1107.9 534.2 1109.1 526.2 1111.4 518.5 1114.7 512.2 1119.2 507.2 1124.4 504.1 1129.4 503.1 1135.4 503.5 1139.4 504.9 1143.4 507.9 1146.4 511.6 1149.4 517.1 1151.5 523.2 1153.2 531.2 1154.2 540.2 1154.3 559.2 1153.6 563.2 1152.0 567.2 1149.4 570.5 1145.4 573.4 1140.4 575.4 1134.4 576.3ZM1352.5 576.3 1346.5 576.2 1341.5 575.5 1336.5 573.8 1332.5 571.2 1329.7 568.2 1327.6 564.2 1326.6 560.2 1326.1 554.2 1326.0 542.2 1326.6 532.2 1328.1 524.2 1330.5 517.4 1334.0 511.2 1338.5 506.6 1343.5 504.0 1348.5 503.1 1353.5 503.4 1357.5 504.7 1361.5 507.5 1365.5 512.3 1368.4 518.2 1370.6 525.2 1372.0 533.2 1372.8 542.2 1372.9 559.2 1372.2 563.2 1370.5 567.2 1367.5 571.0 1363.5 573.7 1358.5 575.5 1352.5 576.3ZM1214.4 640.3 1204.4 640.0 1192.4 637.9 1188.4 636.3 1187.2 635.3 1187.0 633.3 1189.1 631.3 1193.4 629.8 1210.4 627.7 1224.4 627.7 1228.4 628.9 1230.4 630.3 1231.0 631.3 1230.7 633.3 1227.7 636.3 1221.4 638.9 1214.4 640.3ZM1188.4 684.3 1185.4 683.9 1182.4 681.6 1181.1 678.3 1180.9 674.3 1181.7 671.3 1184.0 668.3 1186.4 667.1 1190.4 666.7 1193.4 668.0 1195.2 670.3 1196.1 673.3 1196.0 676.3 1195.0 680.3 1193.6 682.3 1191.4 683.8 1188.4 684.3ZM1408.5 684.4 1404.5 684.2 1401.5 682.4 1400.1 680.3 1399.3 676.3 1399.7 672.3 1401.5 669.0 1404.5 667.0 1407.5 666.4 1410.5 666.7 1412.5 667.8 1414.3 670.3 1415.0 673.3 1414.8 677.3 1413.3 681.3 1411.4 683.3 1408.5 684.4Z"/>
<path fill="#fde3d5" fill-rule="evenodd" d="M1245.4 605.4 1238.4 605.6 1231.4 604.6 1225.4 602.5 1220.4 599.4 1215.4 594.6 1211.4 589.0 1208.9 583.2 1207.5 576.2 1207.8 568.2 1211.1 544.2 1213.2 535.2 1216.0 528.2 1220.3 522.2 1225.4 518.1 1232.4 515.1 1240.4 513.8 1246.4 513.9 1250.4 515.0 1254.4 517.5 1258.4 521.9 1261.4 527.2 1263.7 533.2 1265.2 540.2 1266.1 549.2 1266.2 577.2 1265.4 584.2 1263.7 590.2 1260.5 596.2 1256.4 600.7 1251.4 603.8 1245.4 605.4ZM1466.5 608.2 1459.5 608.4 1452.5 607.4 1446.5 605.4 1440.5 601.9 1435.3 597.2 1430.7 591.2 1427.7 585.2 1426.0 578.2 1426.0 570.2 1429.2 546.2 1431.4 536.2 1434.0 529.2 1437.5 523.7 1442.5 519.0 1448.5 515.8 1456.5 513.9 1463.5 513.7 1468.5 514.7 1472.5 517.0 1476.5 520.9 1480.4 527.2 1483.1 534.2 1485.2 542.2 1486.7 552.2 1487.6 565.2 1487.7 576.2 1486.7 584.2 1484.8 591.2 1481.5 597.9 1477.5 602.7 1472.5 606.3 1466.5 608.2ZM1134.4 572.3 1125.4 571.9 1121.4 570.8 1118.4 569.2 1116.0 567.2 1113.9 564.2 1112.3 558.2 1112.1 549.2 1112.6 541.2 1113.7 534.2 1115.5 528.2 1118.4 522.5 1121.4 519.0 1125.4 516.4 1129.4 515.4 1133.4 515.5 1136.4 516.2 1139.4 518.0 1142.5 521.2 1144.9 525.2 1146.8 530.2 1148.3 536.2 1149.3 543.2 1149.5 558.2 1148.1 564.2 1146.0 567.2 1142.4 570.0 1138.4 571.6 1134.4 572.3ZM1353.5 572.2 1344.5 572.0 1340.5 571.0 1337.5 569.5 1333.0 565.2 1331.6 562.2 1331.0 559.2 1330.6 550.2 1331.0 542.2 1332.3 534.2 1334.1 528.2 1336.5 523.3 1339.5 519.5 1343.5 516.6 1347.5 515.5 1351.5 515.4 1355.5 516.5 1358.5 518.4 1361.0 521.2 1363.5 525.3 1365.4 530.2 1367.8 542.2 1368.1 558.2 1366.6 564.2 1364.6 567.2 1361.5 569.8 1357.5 571.5 1353.5 572.2ZM1214.4 636.5 1207.4 637.1 1198.4 636.5 1194.3 635.3 1193.4 634.3 1193.5 633.3 1194.7 632.3 1197.4 631.4 1205.4 630.6 1213.4 630.9 1218.0 632.3 1218.9 633.3 1218.8 634.3 1217.9 635.3 1214.4 636.5ZM1429.5 637.3 1421.5 637.1 1415.5 636.3 1412.4 635.3 1411.6 634.3 1411.7 633.3 1412.8 632.3 1416.5 631.1 1427.5 630.3 1436.2 631.3 1438.5 632.3 1439.2 633.3 1439.2 634.3 1438.3 635.3 1436.5 636.1 1429.5 637.3ZM1190.4 679.4 1187.4 680.1 1185.5 679.3 1184.8 678.3 1184.5 674.3 1186.4 672.0 1189.4 671.8 1191.3 673.3 1191.7 677.3 1190.4 679.4ZM1407.5 680.3 1405.5 680.2 1403.9 679.3 1402.8 676.3 1403.5 673.0 1404.5 672.0 1406.5 671.4 1409.5 672.4 1410.6 675.3 1410.1 678.3 1409.5 679.3 1407.5 680.3Z"/>
<path fill="#f9c3a8" fill-rule="evenodd" d="M1248.4 597.3 1242.4 598.1 1235.4 597.6 1230.4 596.3 1225.4 593.8 1221.0 590.2 1217.4 585.8 1215.2 581.2 1213.6 575.2 1213.4 567.2 1214.7 554.2 1216.4 545.3 1219.0 538.2 1222.4 532.7 1227.1 528.2 1232.4 525.4 1238.4 523.9 1243.4 523.6 1247.4 524.1 1250.4 525.4 1253.4 527.7 1256.4 531.6 1258.7 536.2 1260.4 541.7 1261.7 548.2 1262.7 571.2 1261.4 582.2 1259.4 587.6 1256.4 592.2 1252.4 595.6 1248.4 597.3ZM1467.5 599.5 1462.5 600.0 1455.5 599.4 1449.5 597.8 1444.5 595.2 1439.5 591.2 1436.3 587.2 1433.6 582.2 1432.0 576.2 1431.7 569.2 1432.9 555.2 1434.6 546.2 1437.5 538.2 1441.3 532.2 1445.5 528.3 1450.5 525.5 1456.5 523.8 1462.5 523.5 1466.5 524.1 1469.5 525.5 1472.8 528.2 1475.8 532.2 1478.5 538.0 1480.4 544.2 1481.7 551.2 1482.7 560.2 1483.1 572.2 1482.7 578.2 1481.4 584.2 1479.4 589.2 1476.0 594.2 1472.5 597.3 1467.5 599.5ZM1135.4 568.3 1128.4 568.4 1123.4 567.2 1119.3 564.2 1118.1 562.2 1117.1 559.2 1117.1 546.2 1119.4 535.7 1121.4 531.6 1123.4 529.1 1126.4 526.9 1129.4 526.0 1132.4 525.9 1135.4 526.7 1139.4 530.0 1142.4 535.6 1144.4 543.8 1145.0 553.2 1144.3 561.2 1141.4 565.5 1138.7 567.2 1135.4 568.3ZM1353.5 568.3 1346.5 568.4 1340.5 566.4 1337.2 563.2 1335.5 558.2 1335.8 545.2 1338.2 535.2 1340.2 531.2 1342.5 528.6 1345.5 526.6 1348.5 525.9 1353.5 526.4 1356.3 528.2 1358.2 530.2 1361.5 537.0 1363.2 545.2 1363.5 557.2 1362.4 562.2 1361.2 564.2 1359.0 566.2 1353.5 568.3ZM1427.5 634.4 1421.0 634.3 1421.2 633.3 1425.5 632.9 1427.9 633.3 1428.0 634.3 1427.5 634.4Z"/>
<path fill="#f29d7c" fill-rule="evenodd" d="M1247.4 590.5 1243.4 591.0 1237.4 590.7 1233.4 589.7 1229.4 587.8 1226.1 585.2 1223.4 582.0 1221.4 578.2 1220.1 573.2 1219.9 566.2 1220.6 557.2 1222.2 550.2 1224.2 545.2 1226.7 541.2 1230.4 537.6 1234.4 535.3 1239.4 534.0 1246.4 534.1 1249.4 535.6 1251.4 537.3 1253.4 540.1 1255.4 544.2 1257.5 553.2 1258.4 570.2 1257.3 579.2 1255.7 583.2 1253.4 586.7 1250.4 589.2 1247.4 590.5ZM1466.5 592.3 1462.5 592.7 1456.5 592.2 1451.5 590.8 1447.5 588.7 1444.5 586.2 1441.5 582.5 1439.5 578.5 1438.4 574.2 1438.0 568.2 1438.6 559.2 1439.9 552.2 1442.1 546.2 1445.0 541.2 1448.5 537.7 1452.5 535.3 1457.5 533.8 1462.5 533.5 1465.5 533.9 1468.5 535.4 1470.5 537.2 1472.5 539.9 1474.6 544.2 1477.4 555.2 1478.5 571.2 1477.3 580.2 1475.5 584.7 1473.1 588.2 1470.5 590.5 1466.5 592.3ZM1133.4 563.3 1129.4 563.4 1126.4 562.4 1124.4 560.7 1123.4 558.2 1123.2 550.2 1124.4 544.6 1127.2 540.2 1130.4 538.8 1133.4 539.1 1136.0 541.2 1137.6 544.2 1138.7 549.2 1139.0 554.2 1138.4 559.5 1136.4 562.1 1133.4 563.3ZM1351.5 563.4 1347.5 563.3 1344.5 562.2 1342.5 559.9 1341.7 556.2 1341.9 549.2 1343.5 543.4 1346.5 539.6 1349.5 538.7 1352.5 539.3 1354.6 541.2 1356.5 545.2 1357.5 550.9 1357.4 557.2 1356.6 560.2 1354.5 562.4 1351.5 563.4Z"/>
<path fill="#e3735b" fill-rule="evenodd" d="M1465.5 583.6 1459.5 583.7 1453.5 581.7 1449.5 578.0 1447.2 572.2 1447.5 562.8 1449.6 555.2 1451.5 552.0 1453.5 549.9 1456.5 548.0 1459.5 547.1 1464.5 547.3 1467.5 549.5 1470.1 554.2 1471.6 560.2 1472.5 570.2 1471.7 576.2 1469.5 580.7 1467.5 582.6 1465.5 583.6ZM1245.4 581.5 1239.4 581.4 1234.4 579.4 1231.4 576.2 1229.6 571.2 1229.8 562.2 1231.8 555.2 1235.4 550.4 1237.4 549.1 1240.4 548.2 1244.4 548.1 1247.4 549.7 1249.8 553.2 1251.5 559.2 1252.2 569.2 1251.4 575.1 1249.2 579.2 1245.4 581.5Z"/>
<path d="M1095.0 562.1 C1107.2 558.9 1145.2 548.2 1168.4 543.1 C1191.6 538.0 1223.1 533.2 1234.1 531.2" fill="none" stroke="#000" stroke-width="4.6" stroke-dasharray="17 13.5"/>
<path d="M1219.3 661.8 C1229.0 664.2 1255.0 672.2 1277.4 676.2 C1299.8 680.2 1341.0 684.4 1353.7 686.0" fill="none" stroke="#000" stroke-width="4.6" stroke-dasharray="17 13.5"/>
<path d="M1307.1 563.0 C1319.1 559.8 1356.9 549.2 1379.2 543.9 C1401.5 538.6 1430.5 533.3 1440.7 531.2" fill="none" stroke="#000" stroke-width="4.6" stroke-dasharray="17 13.5"/>
<path d="M1162.8 536.7L1174.0 549.5M1174.0 536.7L1162.8 549.5" stroke="#f00" stroke-width="2.6" fill="none"/>
<path d="M1271.8 669.8L1283.0 682.6M1283.0 669.8L1271.8 682.6" stroke="#f00" stroke-width="2.6" fill="none"/>
<path d="M1373.6 537.5L1384.8 550.3M1384.8 537.5L1373.6 550.3" stroke="#f00" stroke-width="2.6" fill="none"/>
<path d="M1266.6 552.4L1279.8 552.4M1273.2 545.9L1273.2 558.9" stroke="#f00" stroke-width="2.5" fill="none"/>
<path d="M1158.4 666.9L1171.6 666.9M1165.0 660.4L1165.0 673.4" stroke="#f00" stroke-width="2.5" fill="none"/>
<path d="M1376.0 667.7L1389.2 667.7M1382.6 661.2L1382.6 674.2" stroke="#f00" stroke-width="2.5" fill="none"/>
</g>
<rect x="1182.50" y="452.8" width="6.60" height="20.1" fill="#2464ad"/>
<rect x="1188.80" y="452.8" width="14.25" height="20.1" fill="#3d7fba"/>
<rect x="1202.75" y="452.8" width="14.25" height="20.1" fill="#5c9dcb"/>
<rect x="1216.70" y="452.8" width="14.25" height="20.1" fill="#86b9d9"/>
<rect x="1230.65" y="452.8" width="14.25" height="20.1" fill="#b3d3e8"/>
<rect x="1244.60" y="452.8" width="14.25" height="20.1" fill="#dce9f3"/>
<rect x="1258.55" y="452.8" width="14.25" height="20.1" fill="#fbfcfd"/>
<rect x="1286.00" y="452.8" width="14.03" height="20.1" fill="#fef6f1"/>
<rect x="1299.73" y="452.8" width="14.03" height="20.1" fill="#fde3d5"/>
<rect x="1313.47" y="452.8" width="14.03" height="20.1" fill="#f9c3a8"/>
<rect x="1327.20" y="452.8" width="14.03" height="20.1" fill="#f29d7c"/>
<rect x="1340.93" y="452.8" width="14.03" height="20.1" fill="#e3735b"/>
<rect x="1354.67" y="452.8" width="14.03" height="20.1" fill="#c9473f"/>
<rect x="1368.40" y="452.8" width="7.00" height="20.1" fill="#b2182b"/>
<text x="1188.8" y="488.9" text-anchor="middle" class="cb">-3.0x10<tspan class="sup" dy="-5.5">-05</tspan></text>
<text x="1258.6" y="488.9" text-anchor="middle" class="cb">-5.0x10<tspan class="sup" dy="-5.5">-06</tspan></text>
<text x="1327.0" y="488.9" text-anchor="middle" class="cb">2.0x10<tspan class="sup" dy="-5.5">-05</tspan></text>
<line x1="1059.4" y1="780.4" x2="1063.2" y2="780.4" stroke="#3a3a3a" stroke-width="1"/>
<line x1="1059.4" y1="770.7" x2="1063.2" y2="770.7" stroke="#3a3a3a" stroke-width="1"/>
<line x1="1059.4" y1="761.0" x2="1066.2" y2="761.0" stroke="#000" stroke-width="1.6"/>
<line x1="1059.4" y1="751.3" x2="1063.2" y2="751.3" stroke="#3a3a3a" stroke-width="1"/>
<line x1="1059.4" y1="741.6" x2="1063.2" y2="741.6" stroke="#3a3a3a" stroke-width="1"/>
<line x1="1059.4" y1="731.9" x2="1063.2" y2="731.9" stroke="#3a3a3a" stroke-width="1"/>
<line x1="1059.4" y1="722.1" x2="1063.2" y2="722.1" stroke="#3a3a3a" stroke-width="1"/>
<line x1="1059.4" y1="712.4" x2="1066.2" y2="712.4" stroke="#000" stroke-width="1.6"/>
<line x1="1059.4" y1="702.7" x2="1063.2" y2="702.7" stroke="#3a3a3a" stroke-width="1"/>
<line x1="1059.4" y1="693.0" x2="1063.2" y2="693.0" stroke="#3a3a3a" stroke-width="1"/>
<line x1="1059.4" y1="683.3" x2="1063.2" y2="683.3" stroke="#3a3a3a" stroke-width="1"/>
<line x1="1059.4" y1="673.6" x2="1063.2" y2="673.6" stroke="#3a3a3a" stroke-width="1"/>
<line x1="1059.4" y1="663.8" x2="1066.2" y2="663.8" stroke="#000" stroke-width="1.6"/>
<line x1="1059.4" y1="654.1" x2="1063.2" y2="654.1" stroke="#3a3a3a" stroke-width="1"/>
<line x1="1059.4" y1="644.4" x2="1063.2" y2="644.4" stroke="#3a3a3a" stroke-width="1"/>
<line x1="1059.4" y1="634.7" x2="1063.2" y2="634.7" stroke="#3a3a3a" stroke-width="1"/>
<line x1="1059.4" y1="625.0" x2="1063.2" y2="625.0" stroke="#3a3a3a" stroke-width="1"/>
<line x1="1059.4" y1="615.2" x2="1066.2" y2="615.2" stroke="#000" stroke-width="1.6"/>
<line x1="1059.4" y1="605.5" x2="1063.2" y2="605.5" stroke="#3a3a3a" stroke-width="1"/>
<line x1="1059.4" y1="595.8" x2="1063.2" y2="595.8" stroke="#3a3a3a" stroke-width="1"/>
<line x1="1059.4" y1="586.1" x2="1063.2" y2="586.1" stroke="#3a3a3a" stroke-width="1"/>
<line x1="1059.4" y1="576.4" x2="1063.2" y2="576.4" stroke="#3a3a3a" stroke-width="1"/>
<line x1="1059.4" y1="566.7" x2="1066.2" y2="566.7" stroke="#000" stroke-width="1.6"/>
<line x1="1059.4" y1="556.9" x2="1063.2" y2="556.9" stroke="#3a3a3a" stroke-width="1"/>
<line x1="1059.4" y1="547.2" x2="1063.2" y2="547.2" stroke="#3a3a3a" stroke-width="1"/>
<line x1="1059.4" y1="537.5" x2="1063.2" y2="537.5" stroke="#3a3a3a" stroke-width="1"/>
<line x1="1059.4" y1="527.8" x2="1063.2" y2="527.8" stroke="#3a3a3a" stroke-width="1"/>
<line x1="1059.4" y1="518.1" x2="1066.2" y2="518.1" stroke="#000" stroke-width="1.6"/>
<line x1="1059.4" y1="508.4" x2="1063.2" y2="508.4" stroke="#3a3a3a" stroke-width="1"/>
<line x1="1059.4" y1="498.6" x2="1063.2" y2="498.6" stroke="#3a3a3a" stroke-width="1"/>
<line x1="1059.4" y1="488.9" x2="1063.2" y2="488.9" stroke="#3a3a3a" stroke-width="1"/>
<line x1="1059.4" y1="479.2" x2="1063.2" y2="479.2" stroke="#3a3a3a" stroke-width="1"/>
<line x1="1059.4" y1="469.5" x2="1066.2" y2="469.5" stroke="#000" stroke-width="1.6"/>
<line x1="1059.4" y1="459.8" x2="1063.2" y2="459.8" stroke="#3a3a3a" stroke-width="1"/>
<line x1="1059.4" y1="450.1" x2="1063.2" y2="450.1" stroke="#3a3a3a" stroke-width="1"/>
<line x1="1496.5" y1="785.3" x2="1496.5" y2="777.8" stroke="#000" stroke-width="1.6"/>
<line x1="1485.6" y1="785.3" x2="1485.6" y2="780.7" stroke="#3a3a3a" stroke-width="1"/>
<line x1="1474.6" y1="785.3" x2="1474.6" y2="780.7" stroke="#3a3a3a" stroke-width="1"/>
<line x1="1463.7" y1="785.3" x2="1463.7" y2="780.7" stroke="#3a3a3a" stroke-width="1"/>
<line x1="1452.8" y1="785.3" x2="1452.8" y2="780.7" stroke="#3a3a3a" stroke-width="1"/>
<line x1="1441.9" y1="785.3" x2="1441.9" y2="777.8" stroke="#000" stroke-width="1.6"/>
<line x1="1430.9" y1="785.3" x2="1430.9" y2="780.7" stroke="#3a3a3a" stroke-width="1"/>
<line x1="1420.0" y1="785.3" x2="1420.0" y2="780.7" stroke="#3a3a3a" stroke-width="1"/>
<line x1="1409.1" y1="785.3" x2="1409.1" y2="780.7" stroke="#3a3a3a" stroke-width="1"/>
<line x1="1398.2" y1="785.3" x2="1398.2" y2="780.7" stroke="#3a3a3a" stroke-width="1"/>
<line x1="1387.2" y1="785.3" x2="1387.2" y2="777.8" stroke="#000" stroke-width="1.6"/>
<line x1="1376.3" y1="785.3" x2="1376.3" y2="780.7" stroke="#3a3a3a" stroke-width="1"/>
<line x1="1365.4" y1="785.3" x2="1365.4" y2="780.7" stroke="#3a3a3a" stroke-width="1"/>
<line x1="1354.4" y1="785.3" x2="1354.4" y2="780.7" stroke="#3a3a3a" stroke-width="1"/>
<line x1="1343.5" y1="785.3" x2="1343.5" y2="780.7" stroke="#3a3a3a" stroke-width="1"/>
<line x1="1332.6" y1="785.3" x2="1332.6" y2="777.8" stroke="#000" stroke-width="1.6"/>
<line x1="1321.7" y1="785.3" x2="1321.7" y2="780.7" stroke="#3a3a3a" stroke-width="1"/>
<line x1="1310.7" y1="785.3" x2="1310.7" y2="780.7" stroke="#3a3a3a" stroke-width="1"/>
<line x1="1299.8" y1="785.3" x2="1299.8" y2="780.7" stroke="#3a3a3a" stroke-width="1"/>
<line x1="1288.9" y1="785.3" x2="1288.9" y2="780.7" stroke="#3a3a3a" stroke-width="1"/>
<line x1="1278.0" y1="785.3" x2="1278.0" y2="777.8" stroke="#000" stroke-width="1.6"/>
<line x1="1267.0" y1="785.3" x2="1267.0" y2="780.7" stroke="#3a3a3a" stroke-width="1"/>
<line x1="1256.1" y1="785.3" x2="1256.1" y2="780.7" stroke="#3a3a3a" stroke-width="1"/>
<line x1="1245.2" y1="785.3" x2="1245.2" y2="780.7" stroke="#3a3a3a" stroke-width="1"/>
<line x1="1234.2" y1="785.3" x2="1234.2" y2="780.7" stroke="#3a3a3a" stroke-width="1"/>
<line x1="1223.3" y1="785.3" x2="1223.3" y2="777.8" stroke="#000" stroke-width="1.6"/>
<line x1="1212.4" y1="785.3" x2="1212.4" y2="780.7" stroke="#3a3a3a" stroke-width="1"/>
<line x1="1201.5" y1="785.3" x2="1201.5" y2="780.7" stroke="#3a3a3a" stroke-width="1"/>
<line x1="1190.5" y1="785.3" x2="1190.5" y2="780.7" stroke="#3a3a3a" stroke-width="1"/>
<line x1="1179.6" y1="785.3" x2="1179.6" y2="780.7" stroke="#3a3a3a" stroke-width="1"/>
<line x1="1168.7" y1="785.3" x2="1168.7" y2="777.8" stroke="#000" stroke-width="1.6"/>
<line x1="1157.7" y1="785.3" x2="1157.7" y2="780.7" stroke="#3a3a3a" stroke-width="1"/>
<line x1="1146.8" y1="785.3" x2="1146.8" y2="780.7" stroke="#3a3a3a" stroke-width="1"/>
<line x1="1135.9" y1="785.3" x2="1135.9" y2="780.7" stroke="#3a3a3a" stroke-width="1"/>
<line x1="1125.0" y1="785.3" x2="1125.0" y2="780.7" stroke="#3a3a3a" stroke-width="1"/>
<line x1="1114.0" y1="785.3" x2="1114.0" y2="777.8" stroke="#000" stroke-width="1.6"/>
<line x1="1103.1" y1="785.3" x2="1103.1" y2="780.7" stroke="#3a3a3a" stroke-width="1"/>
<line x1="1092.2" y1="785.3" x2="1092.2" y2="780.7" stroke="#3a3a3a" stroke-width="1"/>
<line x1="1081.3" y1="785.3" x2="1081.3" y2="780.7" stroke="#3a3a3a" stroke-width="1"/>
<line x1="1070.3" y1="785.3" x2="1070.3" y2="780.7" stroke="#3a3a3a" stroke-width="1"/>
<line x1="1059.4" y1="785.3" x2="1059.4" y2="777.8" stroke="#000" stroke-width="1.6"/>
<rect x="1059.4" y="445.2" width="437.1" height="340.1" fill="none" stroke="#000" stroke-width="2"/>
<text x="1055.1" y="767.8" text-anchor="end" class="tl">-3</text>
<text x="1055.1" y="719.2" text-anchor="end" class="tl">-2</text>
<text x="1055.1" y="670.6" text-anchor="end" class="tl">-1</text>
<text x="1055.1" y="622.0" text-anchor="end" class="tl">0</text>
<text x="1055.1" y="573.5" text-anchor="end" class="tl">1</text>
<text x="1055.1" y="524.9" text-anchor="end" class="tl">2</text>
<text x="1055.1" y="476.3" text-anchor="end" class="tl">3</text>
<text x="1059.4" y="802.6" text-anchor="middle" class="tl">2</text>
<text x="1114.0" y="802.6" text-anchor="middle" class="tl">1.5</text>
<text x="1168.7" y="802.6" text-anchor="middle" class="tl">1</text>
<text x="1223.3" y="802.6" text-anchor="middle" class="tl">0.5</text>
<text x="1278.0" y="802.6" text-anchor="middle" class="tl">0</text>
<text x="1332.6" y="802.6" text-anchor="middle" class="tl">-0.5</text>
<text x="1387.2" y="802.6" text-anchor="middle" class="tl">-1</text>
<text x="1441.9" y="802.6" text-anchor="middle" class="tl">-1.5</text>
<text x="1496.5" y="802.6" text-anchor="middle" class="tl">-2</text>
<text transform="translate(1030.9 615.2) rotate(-90) scale(0.84 1)" text-anchor="middle" class="yl"><tspan font-style="italic">y</tspan><tspan dy="-0.0">*</tspan></text>
<text x="1281.0" y="819.6" text-anchor="middle" class="xl">&#981;(<tspan font-style="italic">&#960;</tspan>)</text>
<text x="1075.9" y="479.7" class="pl">(f)</text>
</svg></body></html>
